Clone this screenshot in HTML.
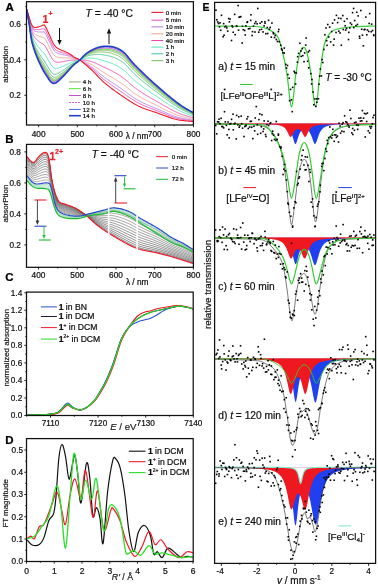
<!DOCTYPE html><html><head><meta charset="utf-8"><style>html,body{margin:0;padding:0;background:#fff;width:378px;height:586px;overflow:hidden}svg{display:block;font-family:"Liberation Sans",sans-serif;will-change:transform}</style></head><body>
<svg width="378" height="586" viewBox="0 0 378 586">
<rect width="378" height="586" fill="#fff"/>
<g>
<clipPath id="clipA"><rect x="26.5" y="1.7" width="166.9" height="123.3"/></clipPath>
<g clip-path="url(#clipA)">
<path d="M26.6,9.4 L27.6,12.49 L28.6,15.73 L29.6,19.48 L30.6,23.18 L31.6,25.81 L32.6,27.59 L33.6,28.7 L34.6,29.31 L35.6,29.58 L36.6,29.65 L37.6,29.63 L38.6,29.58 L39.6,29.48 L40.6,29.28 L41.6,29.04 L42.6,28.83 L43.6,28.73 L44.6,28.99 L45.6,30.79 L46.6,32.69 L47.6,34.73 L48.6,36.81 L49.6,38.94 L50.6,41.18 L51.6,43.38 L52.6,45.42 L53.6,47.16 L54.6,48.55 L55.6,49.62 L56.6,50.35 L57.6,50.91 L58.6,51.38 L59.6,51.79 L60.6,52.13 L61.6,52.45 L62.6,52.75 L63.6,53.05 L64.6,53.34 L65.6,53.65 L66.6,53.96 L67.6,54.31 L68.6,54.71 L69.6,55.15 L70.6,55.64 L71.6,56.17 L72.6,56.72 L73.6,57.27 L74.6,57.8 L75.6,58.26 L76.6,58.59 L77.6,58.88 L78.6,59.31 L79.6,59.89 L80.6,60.5 L81.6,61.14 L82.6,61.79 L83.6,62.45 L84.6,63.12 L85.6,63.81 L86.6,64.53 L87.6,65.25 L88.6,66 L89.6,66.76 L90.6,67.54 L91.6,68.33 L92.6,69.18 L93.6,70.03 L94.6,70.95 L95.6,71.88 L96.6,72.84 L97.6,73.79 L98.6,74.74 L99.6,75.68 L100.6,76.59 L101.6,77.48 L102.6,78.31 L103.6,79.15 L104.6,79.93 L105.6,80.7 L106.6,81.46 L107.6,82.2 L108.6,82.95 L109.6,83.66 L110.6,84.39 L111.6,85.1 L112.6,85.8 L113.6,86.51 L114.6,87.2 L115.6,87.89 L116.6,88.58 L117.6,89.26 L118.6,89.95 L119.6,90.63 L120.6,91.31 L121.6,92 L122.6,92.69 L123.6,93.38 L124.6,94.08 L125.6,94.79 L126.6,95.49 L127.6,96.19 L128.6,96.9 L129.6,97.59 L130.6,98.27 L131.6,98.95 L132.6,99.6 L133.6,100.23 L134.6,100.86 L135.6,101.45 L136.6,102.03 L137.6,102.6 L138.6,103.14 L139.6,103.65 L140.6,104.15 L141.6,104.64 L142.6,105.08 L143.6,105.53 L144.6,105.97 L145.6,106.37 L146.6,106.77 L147.6,107.17 L148.6,107.55 L149.6,107.92 L150.6,108.3 L151.6,108.67 L152.6,109.04 L153.6,109.41 L154.6,109.79 L155.6,110.17 L156.6,110.55 L157.6,110.94 L158.6,111.34 L159.6,111.75 L160.6,112.15 L161.6,112.57 L162.6,112.98 L163.6,113.4 L164.6,113.81 L165.6,114.22 L166.6,114.62 L167.6,115.02 L168.6,115.41 L169.6,115.8 L170.6,116.17 L171.6,116.53 L172.6,116.89 L173.6,117.24 L174.6,117.55 L175.6,117.86 L176.6,118.16 L177.6,118.4 L178.6,118.64 L179.6,118.88 L180.6,119.07 L181.6,119.25 L182.6,119.44 L183.6,119.59 L184.6,119.73 L185.6,119.88 L186.6,120.01 L187.6,120.13 L188.6,120.25 L189.6,120.36 L190.6,120.48 L191.6,120.6 L192.6,120.73 L193.6,120.78" fill="none" stroke="#e848c0" stroke-width="0.9"  stroke-linejoin="round"/>
<path d="M26.6,9.4 L27.6,12.67 L28.6,16.08 L29.6,20.01 L30.6,24.02 L31.6,26.92 L32.6,28.88 L33.6,30.16 L34.6,30.95 L35.6,31.41 L36.6,31.67 L37.6,31.84 L38.6,31.97 L39.6,32.04 L40.6,32.02 L41.6,31.95 L42.6,31.9 L43.6,31.95 L44.6,32.32 L45.6,34.11 L46.6,35.97 L47.6,37.98 L48.6,40.02 L49.6,42.09 L50.6,44.25 L51.6,46.35 L52.6,48.29 L53.6,49.92 L54.6,51.19 L55.6,52.16 L56.6,52.79 L57.6,53.25 L58.6,53.62 L59.6,53.92 L60.6,54.16 L61.6,54.38 L62.6,54.59 L63.6,54.79 L64.6,54.98 L65.6,55.18 L66.6,55.38 L67.6,55.62 L68.6,55.9 L69.6,56.22 L70.6,56.59 L71.6,57 L72.6,57.43 L73.6,57.87 L74.6,58.29 L75.6,58.65 L76.6,58.89 L77.6,59.1 L78.6,59.44 L79.6,59.91 L80.6,60.41 L81.6,60.91 L82.6,61.43 L83.6,61.96 L84.6,62.51 L85.6,63.08 L86.6,63.68 L87.6,64.29 L88.6,64.93 L89.6,65.58 L90.6,66.26 L91.6,66.95 L92.6,67.69 L93.6,68.45 L94.6,69.26 L95.6,70.09 L96.6,70.94 L97.6,71.8 L98.6,72.65 L99.6,73.5 L100.6,74.32 L101.6,75.13 L102.6,75.89 L103.6,76.66 L104.6,77.37 L105.6,78.08 L106.6,78.78 L107.6,79.47 L108.6,80.16 L109.6,80.83 L110.6,81.5 L111.6,82.17 L112.6,82.83 L113.6,83.51 L114.6,84.16 L115.6,84.83 L116.6,85.5 L117.6,86.16 L118.6,86.83 L119.6,87.5 L120.6,88.17 L121.6,88.86 L122.6,89.55 L123.6,90.25 L124.6,90.96 L125.6,91.69 L126.6,92.42 L127.6,93.16 L128.6,93.92 L129.6,94.65 L130.6,95.37 L131.6,96.1 L132.6,96.78 L133.6,97.44 L134.6,98.1 L135.6,98.73 L136.6,99.34 L137.6,99.94 L138.6,100.53 L139.6,101.06 L140.6,101.6 L141.6,102.13 L142.6,102.61 L143.6,103.1 L144.6,103.58 L145.6,104.02 L146.6,104.46 L147.6,104.9 L148.6,105.33 L149.6,105.74 L150.6,106.16 L151.6,106.57 L152.6,106.99 L153.6,107.4 L154.6,107.81 L155.6,108.23 L156.6,108.65 L157.6,109.07 L158.6,109.51 L159.6,109.95 L160.6,110.39 L161.6,110.85 L162.6,111.3 L163.6,111.75 L164.6,112.19 L165.6,112.64 L166.6,113.07 L167.6,113.5 L168.6,113.92 L169.6,114.34 L170.6,114.75 L171.6,115.15 L172.6,115.54 L173.6,115.92 L174.6,116.27 L175.6,116.61 L176.6,116.95 L177.6,117.23 L178.6,117.51 L179.6,117.79 L180.6,118.01 L181.6,118.24 L182.6,118.45 L183.6,118.64 L184.6,118.82 L185.6,119 L186.6,119.16 L187.6,119.32 L188.6,119.48 L189.6,119.62 L190.6,119.77 L191.6,119.92 L192.6,120.08 L193.6,120.15" fill="none" stroke="#b878e0" stroke-width="0.9"  stroke-linejoin="round"/>
<path d="M26.6,9.4 L27.6,12.97 L28.6,16.68 L29.6,20.91 L30.6,25.47 L31.6,28.83 L32.6,31.09 L33.6,32.66 L34.6,33.76 L35.6,34.55 L36.6,35.14 L37.6,35.62 L38.6,36.06 L39.6,36.43 L40.6,36.71 L41.6,36.94 L42.6,37.18 L43.6,37.48 L44.6,38.04 L45.6,39.8 L46.6,41.61 L47.6,43.55 L48.6,45.52 L49.6,47.5 L50.6,49.52 L51.6,51.46 L52.6,53.21 L53.6,54.66 L54.6,55.73 L55.6,56.51 L56.6,56.97 L57.6,57.26 L58.6,57.46 L59.6,57.58 L60.6,57.65 L61.6,57.69 L62.6,57.74 L63.6,57.77 L64.6,57.8 L65.6,57.81 L66.6,57.83 L67.6,57.87 L68.6,57.95 L69.6,58.06 L70.6,58.22 L71.6,58.42 L72.6,58.64 L73.6,58.88 L74.6,59.12 L75.6,59.32 L76.6,59.41 L77.6,59.48 L78.6,59.67 L79.6,59.94 L80.6,60.24 L81.6,60.53 L82.6,60.83 L83.6,61.13 L84.6,61.46 L85.6,61.81 L86.6,62.21 L87.6,62.64 L88.6,63.09 L89.6,63.57 L90.6,64.07 L91.6,64.58 L92.6,65.15 L93.6,65.73 L94.6,66.37 L95.6,67.02 L96.6,67.69 L97.6,68.38 L98.6,69.07 L99.6,69.76 L100.6,70.43 L101.6,71.11 L102.6,71.74 L103.6,72.38 L104.6,72.99 L105.6,73.6 L106.6,74.19 L107.6,74.78 L108.6,75.38 L109.6,75.96 L110.6,76.56 L111.6,77.15 L112.6,77.75 L113.6,78.36 L114.6,78.97 L115.6,79.59 L116.6,80.22 L117.6,80.84 L118.6,81.48 L119.6,82.13 L120.6,82.79 L121.6,83.47 L122.6,84.16 L123.6,84.87 L124.6,85.61 L125.6,86.37 L126.6,87.16 L127.6,87.97 L128.6,88.79 L129.6,89.6 L130.6,90.4 L131.6,91.2 L132.6,91.95 L133.6,92.67 L134.6,93.39 L135.6,94.07 L136.6,94.74 L137.6,95.4 L138.6,96.04 L139.6,96.64 L140.6,97.24 L141.6,97.83 L142.6,98.38 L143.6,98.93 L144.6,99.48 L145.6,100 L146.6,100.51 L147.6,101.02 L148.6,101.51 L149.6,102 L150.6,102.49 L151.6,102.98 L152.6,103.46 L153.6,103.94 L154.6,104.42 L155.6,104.91 L156.6,105.39 L157.6,105.88 L158.6,106.37 L159.6,106.88 L160.6,107.38 L161.6,107.89 L162.6,108.41 L163.6,108.92 L164.6,109.43 L165.6,109.92 L166.6,110.42 L167.6,110.9 L168.6,111.37 L169.6,111.85 L170.6,112.32 L171.6,112.77 L172.6,113.22 L173.6,113.66 L174.6,114.07 L175.6,114.48 L176.6,114.87 L177.6,115.22 L178.6,115.57 L179.6,115.91 L180.6,116.21 L181.6,116.49 L182.6,116.77 L183.6,117.03 L184.6,117.27 L185.6,117.5 L186.6,117.72 L187.6,117.94 L188.6,118.15 L189.6,118.35 L190.6,118.56 L191.6,118.76 L192.6,118.98 L193.6,119.07" fill="none" stroke="#f4a088" stroke-width="0.9"  stroke-linejoin="round"/>
<path d="M26.6,9.4 L27.6,13.35 L28.6,17.43 L29.6,22.03 L30.6,27.28 L31.6,31.22 L32.6,33.86 L33.6,35.79 L34.6,37.27 L35.6,38.47 L36.6,39.48 L37.6,40.36 L38.6,41.18 L39.6,41.92 L40.6,42.57 L41.6,43.18 L42.6,43.77 L43.6,44.39 L44.6,45.19 L45.6,46.9 L46.6,48.66 L47.6,50.51 L48.6,52.39 L49.6,54.26 L50.6,56.11 L51.6,57.84 L52.6,59.36 L53.6,60.59 L54.6,61.41 L55.6,61.95 L56.6,62.21 L57.6,62.27 L58.6,62.25 L59.6,62.16 L60.6,62 L61.6,61.84 L62.6,61.67 L63.6,61.5 L64.6,61.32 L65.6,61.1 L66.6,60.89 L67.6,60.69 L68.6,60.51 L69.6,60.36 L70.6,60.26 L71.6,60.19 L72.6,60.15 L73.6,60.15 L74.6,60.16 L75.6,60.15 L76.6,60.07 L77.6,59.96 L78.6,59.95 L79.6,59.99 L80.6,60.03 L81.6,60.06 L82.6,60.07 L83.6,60.1 L84.6,60.15 L85.6,60.23 L86.6,60.39 L87.6,60.57 L88.6,60.8 L89.6,61.05 L90.6,61.33 L91.6,61.62 L92.6,61.97 L93.6,62.33 L94.6,62.74 L95.6,63.17 L96.6,63.63 L97.6,64.11 L98.6,64.6 L99.6,65.09 L100.6,65.58 L101.6,66.08 L102.6,66.55 L103.6,67.04 L104.6,67.51 L105.6,67.98 L106.6,68.45 L107.6,68.93 L108.6,69.41 L109.6,69.88 L110.6,70.38 L111.6,70.87 L112.6,71.39 L113.6,71.93 L114.6,72.47 L115.6,73.03 L116.6,73.61 L117.6,74.19 L118.6,74.8 L119.6,75.43 L120.6,76.07 L121.6,76.74 L122.6,77.43 L123.6,78.16 L124.6,78.93 L125.6,79.73 L126.6,80.59 L127.6,81.48 L128.6,82.39 L129.6,83.3 L130.6,84.19 L131.6,85.07 L132.6,85.9 L133.6,86.7 L134.6,87.49 L135.6,88.25 L136.6,88.98 L137.6,89.71 L138.6,90.42 L139.6,91.1 L140.6,91.78 L141.6,92.45 L142.6,93.09 L143.6,93.73 L144.6,94.36 L145.6,94.97 L146.6,95.57 L147.6,96.17 L148.6,96.75 L149.6,97.33 L150.6,97.91 L151.6,98.48 L152.6,99.05 L153.6,99.62 L154.6,100.18 L155.6,100.75 L156.6,101.31 L157.6,101.88 L158.6,102.45 L159.6,103.03 L160.6,103.61 L161.6,104.2 L162.6,104.8 L163.6,105.39 L164.6,105.97 L165.6,106.54 L166.6,107.09 L167.6,107.65 L168.6,108.19 L169.6,108.74 L170.6,109.27 L171.6,109.8 L172.6,110.32 L173.6,110.83 L174.6,111.32 L175.6,111.81 L176.6,112.28 L177.6,112.71 L178.6,113.15 L179.6,113.56 L180.6,113.95 L181.6,114.32 L182.6,114.67 L183.6,115 L184.6,115.32 L185.6,115.63 L186.6,115.92 L187.6,116.21 L188.6,116.49 L189.6,116.77 L190.6,117.04 L191.6,117.32 L192.6,117.6 L193.6,117.72" fill="none" stroke="#e848b0" stroke-width="0.9"  stroke-linejoin="round"/>
<path d="M26.6,9.4 L27.6,13.8 L28.6,18.32 L29.6,23.38 L30.6,29.45 L31.6,34.08 L32.6,37.17 L33.6,39.54 L34.6,41.49 L35.6,43.18 L36.6,44.68 L37.6,46.04 L38.6,47.32 L39.6,48.51 L40.6,49.61 L41.6,50.66 L42.6,51.68 L43.6,52.68 L44.6,53.76 L45.6,55.44 L46.6,57.11 L47.6,58.87 L48.6,60.63 L49.6,62.37 L50.6,64.01 L51.6,65.49 L52.6,66.74 L53.6,67.7 L54.6,68.21 L55.6,68.48 L56.6,68.49 L57.6,68.28 L58.6,68 L59.6,67.65 L60.6,67.23 L61.6,66.81 L62.6,66.39 L63.6,65.97 L64.6,65.54 L65.6,65.05 L66.6,64.56 L67.6,64.07 L68.6,63.59 L69.6,63.13 L70.6,62.7 L71.6,62.32 L72.6,61.96 L73.6,61.68 L74.6,61.41 L75.6,61.15 L76.6,60.85 L77.6,60.54 L78.6,60.28 L79.6,60.05 L80.6,59.78 L81.6,59.48 L82.6,59.17 L83.6,58.85 L84.6,58.57 L85.6,58.34 L86.6,58.19 L87.6,58.1 L88.6,58.04 L89.6,58.02 L90.6,58.04 L91.6,58.07 L92.6,58.15 L93.6,58.25 L94.6,58.4 L95.6,58.56 L96.6,58.76 L97.6,58.98 L98.6,59.22 L99.6,59.48 L100.6,59.75 L101.6,60.04 L102.6,60.33 L103.6,60.63 L104.6,60.93 L105.6,61.25 L106.6,61.57 L107.6,61.9 L108.6,62.24 L109.6,62.58 L110.6,62.96 L111.6,63.34 L112.6,63.76 L113.6,64.21 L114.6,64.67 L115.6,65.17 L116.6,65.69 L117.6,66.22 L118.6,66.79 L119.6,67.38 L120.6,68 L121.6,68.66 L122.6,69.35 L123.6,70.1 L124.6,70.9 L125.6,71.76 L126.6,72.7 L127.6,73.69 L128.6,74.7 L129.6,75.73 L130.6,76.74 L131.6,77.73 L132.6,78.65 L133.6,79.54 L134.6,80.41 L135.6,81.25 L136.6,82.08 L137.6,82.89 L138.6,83.69 L139.6,84.46 L140.6,85.23 L141.6,86 L142.6,86.74 L143.6,87.48 L144.6,88.21 L145.6,88.93 L146.6,89.64 L147.6,90.34 L148.6,91.03 L149.6,91.72 L150.6,92.4 L151.6,93.08 L152.6,93.76 L153.6,94.43 L154.6,95.09 L155.6,95.76 L156.6,96.42 L157.6,97.08 L158.6,97.74 L159.6,98.41 L160.6,99.08 L161.6,99.77 L162.6,100.46 L163.6,101.15 L164.6,101.81 L165.6,102.47 L166.6,103.11 L167.6,103.74 L168.6,104.37 L169.6,105 L170.6,105.62 L171.6,106.23 L172.6,106.84 L173.6,107.45 L174.6,108.02 L175.6,108.6 L176.6,109.17 L177.6,109.7 L178.6,110.24 L179.6,110.75 L180.6,111.24 L181.6,111.7 L182.6,112.15 L183.6,112.58 L184.6,112.98 L185.6,113.38 L186.6,113.76 L187.6,114.14 L188.6,114.5 L189.6,114.86 L190.6,115.22 L191.6,115.58 L192.6,115.95 L193.6,116.1" fill="none" stroke="#48e8b8" stroke-width="0.9"  stroke-linejoin="round"/>
<path d="M26.6,9.4 L27.6,14.2 L28.6,19.12 L29.6,24.58 L30.6,31.38 L31.6,36.63 L32.6,40.12 L33.6,42.88 L34.6,45.23 L35.6,47.37 L36.6,49.3 L37.6,51.09 L38.6,52.77 L39.6,54.36 L40.6,55.86 L41.6,57.31 L42.6,58.71 L43.6,60.05 L44.6,61.39 L45.6,63.02 L46.6,64.63 L47.6,66.29 L48.6,67.96 L49.6,69.58 L50.6,71.04 L51.6,72.3 L52.6,73.3 L53.6,74.02 L54.6,74.27 L55.6,74.28 L56.6,74.07 L57.6,73.63 L58.6,73.12 L59.6,72.52 L60.6,71.88 L61.6,71.23 L62.6,70.59 L63.6,69.94 L64.6,69.29 L65.6,68.56 L66.6,67.82 L67.6,67.07 L68.6,66.32 L69.6,65.58 L70.6,64.87 L71.6,64.21 L72.6,63.58 L73.6,63.03 L74.6,62.53 L75.6,62.04 L76.6,61.55 L77.6,61.05 L78.6,60.58 L79.6,60.1 L80.6,59.56 L81.6,58.97 L82.6,58.36 L83.6,57.75 L84.6,57.17 L85.6,56.66 L86.6,56.24 L87.6,55.89 L88.6,55.59 L89.6,55.34 L90.6,55.12 L91.6,54.91 L92.6,54.76 L93.6,54.63 L94.6,54.53 L95.6,54.47 L96.6,54.43 L97.6,54.42 L98.6,54.45 L99.6,54.5 L100.6,54.57 L101.6,54.68 L102.6,54.79 L103.6,54.93 L104.6,55.09 L105.6,55.26 L106.6,55.44 L107.6,55.65 L108.6,55.86 L109.6,56.09 L110.6,56.36 L111.6,56.65 L112.6,56.97 L113.6,57.34 L114.6,57.73 L115.6,58.18 L116.6,58.64 L117.6,59.13 L118.6,59.66 L119.6,60.22 L120.6,60.82 L121.6,61.48 L122.6,62.17 L123.6,62.93 L124.6,63.77 L125.6,64.67 L126.6,65.69 L127.6,66.76 L128.6,67.87 L129.6,69 L130.6,70.11 L131.6,71.19 L132.6,72.21 L133.6,73.18 L134.6,74.12 L135.6,75.04 L136.6,75.94 L137.6,76.83 L138.6,77.7 L139.6,78.56 L140.6,79.41 L141.6,80.26 L142.6,81.09 L143.6,81.93 L144.6,82.75 L145.6,83.56 L146.6,84.37 L147.6,85.16 L148.6,85.95 L149.6,86.73 L150.6,87.51 L151.6,88.28 L152.6,89.05 L153.6,89.82 L154.6,90.57 L155.6,91.33 L156.6,92.07 L157.6,92.81 L158.6,93.56 L159.6,94.31 L160.6,95.06 L161.6,95.83 L162.6,96.61 L163.6,97.38 L164.6,98.12 L165.6,98.85 L166.6,99.57 L167.6,100.27 L168.6,100.97 L169.6,101.68 L170.6,102.37 L171.6,103.06 L172.6,103.75 L173.6,104.43 L174.6,105.09 L175.6,105.75 L176.6,106.4 L177.6,107.03 L178.6,107.65 L179.6,108.25 L180.6,108.83 L181.6,109.38 L182.6,109.91 L183.6,110.42 L184.6,110.9 L185.6,111.39 L186.6,111.84 L187.6,112.29 L188.6,112.73 L189.6,113.17 L190.6,113.6 L191.6,114.04 L192.6,114.48 L193.6,114.66" fill="none" stroke="#48c090" stroke-width="0.9"  stroke-linejoin="round"/>
<path d="M26.6,9.4 L27.6,14.41 L28.6,19.52 L29.6,25.17 L30.6,32.34 L31.6,37.9 L32.6,41.6 L33.6,44.55 L34.6,47.11 L35.6,49.46 L36.6,51.61 L37.6,53.61 L38.6,55.5 L39.6,57.29 L40.6,58.99 L41.6,60.64 L42.6,62.23 L43.6,63.74 L44.6,65.2 L45.6,66.81 L46.6,68.39 L47.6,70.01 L48.6,71.63 L49.6,73.18 L50.6,74.55 L51.6,75.7 L52.6,76.59 L53.6,77.18 L54.6,77.29 L55.6,77.18 L56.6,76.86 L57.6,76.3 L58.6,75.67 L59.6,74.96 L60.6,74.2 L61.6,73.44 L62.6,72.69 L63.6,71.93 L64.6,71.16 L65.6,70.32 L66.6,69.46 L67.6,68.57 L68.6,67.69 L69.6,66.81 L70.6,65.96 L71.6,65.15 L72.6,64.39 L73.6,63.71 L74.6,63.08 L75.6,62.48 L76.6,61.89 L77.6,61.31 L78.6,60.73 L79.6,60.12 L80.6,59.45 L81.6,58.72 L82.6,57.96 L83.6,57.19 L84.6,56.47 L85.6,55.81 L86.6,55.27 L87.6,54.79 L88.6,54.37 L89.6,53.99 L90.6,53.65 L91.6,53.33 L92.6,53.06 L93.6,52.81 L94.6,52.6 L95.6,52.42 L96.6,52.26 L97.6,52.14 L98.6,52.06 L99.6,52 L100.6,51.98 L101.6,51.99 L102.6,52.02 L103.6,52.08 L104.6,52.17 L105.6,52.27 L106.6,52.38 L107.6,52.52 L108.6,52.68 L109.6,52.85 L110.6,53.07 L111.6,53.31 L112.6,53.58 L113.6,53.91 L114.6,54.27 L115.6,54.68 L116.6,55.12 L117.6,55.58 L118.6,56.1 L119.6,56.64 L120.6,57.24 L121.6,57.89 L122.6,58.58 L123.6,59.35 L124.6,60.2 L125.6,61.13 L126.6,62.19 L127.6,63.3 L128.6,64.46 L129.6,65.64 L130.6,66.79 L131.6,67.93 L132.6,68.99 L133.6,70 L134.6,70.98 L135.6,71.93 L136.6,72.87 L137.6,73.8 L138.6,74.71 L139.6,75.61 L140.6,76.5 L141.6,77.39 L142.6,78.27 L143.6,79.15 L144.6,80.02 L145.6,80.88 L146.6,81.73 L147.6,82.57 L148.6,83.41 L149.6,84.24 L150.6,85.07 L151.6,85.89 L152.6,86.7 L153.6,87.51 L154.6,88.31 L155.6,89.11 L156.6,89.9 L157.6,90.68 L158.6,91.47 L159.6,92.26 L160.6,93.05 L161.6,93.86 L162.6,94.68 L163.6,95.49 L164.6,96.28 L165.6,97.05 L166.6,97.8 L167.6,98.54 L168.6,99.28 L169.6,100.01 L170.6,100.75 L171.6,101.48 L172.6,102.2 L173.6,102.93 L174.6,103.63 L175.6,104.33 L176.6,105.02 L177.6,105.69 L178.6,106.36 L179.6,107 L180.6,107.62 L181.6,108.22 L182.6,108.79 L183.6,109.34 L184.6,109.86 L185.6,110.39 L186.6,110.88 L187.6,111.37 L188.6,111.85 L189.6,112.32 L190.6,112.79 L191.6,113.26 L192.6,113.75 L193.6,113.94" fill="none" stroke="#70c058" stroke-width="0.9"  stroke-linejoin="round"/>
<path d="M26.6,9.4 L27.6,14.53 L28.6,19.77 L29.6,25.55 L30.6,32.94 L31.6,38.7 L32.6,42.52 L33.6,45.59 L34.6,48.28 L35.6,50.77 L36.6,53.06 L37.6,55.19 L38.6,57.21 L39.6,59.12 L40.6,60.95 L41.6,62.72 L42.6,64.42 L43.6,66.04 L44.6,67.58 L45.6,69.18 L46.6,70.74 L47.6,72.33 L48.6,73.92 L49.6,75.43 L50.6,76.75 L51.6,77.83 L52.6,78.64 L53.6,79.16 L54.6,79.18 L55.6,78.99 L56.6,78.6 L57.6,77.97 L58.6,77.27 L59.6,76.49 L60.6,75.66 L61.6,74.82 L62.6,74 L63.6,73.17 L64.6,72.34 L65.6,71.41 L66.6,70.48 L67.6,69.51 L68.6,68.54 L69.6,67.58 L70.6,66.64 L71.6,65.75 L72.6,64.89 L73.6,64.14 L74.6,63.43 L75.6,62.76 L76.6,62.11 L77.6,61.47 L78.6,60.82 L79.6,60.14 L80.6,59.38 L81.6,58.56 L82.6,57.7 L83.6,56.85 L84.6,56.03 L85.6,55.29 L86.6,54.66 L87.6,54.1 L88.6,53.6 L89.6,53.16 L90.6,52.74 L91.6,52.35 L92.6,52 L93.6,51.68 L94.6,51.39 L95.6,51.14 L96.6,50.91 L97.6,50.72 L98.6,50.57 L99.6,50.45 L100.6,50.36 L101.6,50.32 L102.6,50.29 L103.6,50.3 L104.6,50.34 L105.6,50.4 L106.6,50.47 L107.6,50.57 L108.6,50.69 L109.6,50.82 L110.6,51.01 L111.6,51.21 L112.6,51.46 L113.6,51.77 L114.6,52.1 L115.6,52.5 L116.6,52.92 L117.6,53.37 L118.6,53.87 L119.6,54.41 L120.6,55 L121.6,55.65 L122.6,56.34 L123.6,57.11 L124.6,57.98 L125.6,58.91 L126.6,60 L127.6,61.14 L128.6,62.32 L129.6,63.53 L130.6,64.72 L131.6,65.89 L132.6,66.97 L133.6,68.01 L134.6,69.01 L135.6,69.99 L136.6,70.95 L137.6,71.9 L138.6,72.84 L139.6,73.77 L140.6,74.69 L141.6,75.6 L142.6,76.51 L143.6,77.41 L144.6,78.31 L145.6,79.2 L146.6,80.08 L147.6,80.96 L148.6,81.82 L149.6,82.68 L150.6,83.54 L151.6,84.39 L152.6,85.23 L153.6,86.07 L154.6,86.9 L155.6,87.72 L156.6,88.54 L157.6,89.35 L158.6,90.16 L159.6,90.97 L160.6,91.8 L161.6,92.63 L162.6,93.48 L163.6,94.31 L164.6,95.12 L165.6,95.92 L166.6,96.69 L167.6,97.45 L168.6,98.22 L169.6,98.98 L170.6,99.74 L171.6,100.49 L172.6,101.24 L173.6,101.98 L174.6,102.71 L175.6,103.44 L176.6,104.16 L177.6,104.85 L178.6,105.55 L179.6,106.21 L180.6,106.87 L181.6,107.49 L182.6,108.09 L183.6,108.67 L184.6,109.21 L185.6,109.76 L186.6,110.28 L187.6,110.79 L188.6,111.3 L189.6,111.8 L190.6,112.29 L191.6,112.78 L192.6,113.29 L193.6,113.49" fill="none" stroke="#90ac70" stroke-width="0.9"  stroke-linejoin="round"/>
<path d="M26.6,9.4 L27.6,14.61 L28.6,19.92 L29.6,25.77 L30.6,33.31 L31.6,39.17 L32.6,43.07 L33.6,46.22 L34.6,48.98 L35.6,51.55 L36.6,53.93 L37.6,56.14 L38.6,58.23 L39.6,60.22 L40.6,62.12 L41.6,63.97 L42.6,65.74 L43.6,67.42 L44.6,69.01 L45.6,70.6 L46.6,72.15 L47.6,73.72 L48.6,75.29 L49.6,76.79 L50.6,78.07 L51.6,79.1 L52.6,79.87 L53.6,80.34 L54.6,80.32 L55.6,80.08 L56.6,79.65 L57.6,78.97 L58.6,78.23 L59.6,77.4 L60.6,76.53 L61.6,75.65 L62.6,74.79 L63.6,73.92 L64.6,73.04 L65.6,72.07 L66.6,71.09 L67.6,70.07 L68.6,69.05 L69.6,68.04 L70.6,67.05 L71.6,66.1 L72.6,65.19 L73.6,64.39 L74.6,63.64 L75.6,62.93 L76.6,62.24 L77.6,61.56 L78.6,60.88 L79.6,60.15 L80.6,59.34 L81.6,58.47 L82.6,57.55 L83.6,56.64 L84.6,55.77 L85.6,54.97 L86.6,54.29 L87.6,53.69 L88.6,53.14 L89.6,52.65 L90.6,52.19 L91.6,51.75 L92.6,51.37 L93.6,51 L94.6,50.67 L95.6,50.37 L96.6,50.1 L97.6,49.87 L98.6,49.67 L99.6,49.51 L100.6,49.39 L101.6,49.31 L102.6,49.26 L103.6,49.23 L104.6,49.25 L105.6,49.28 L106.6,49.32 L107.6,49.4 L108.6,49.49 L109.6,49.61 L110.6,49.77 L111.6,49.96 L112.6,50.19 L113.6,50.48 L114.6,50.8 L115.6,51.19 L116.6,51.6 L117.6,52.04 L118.6,52.54 L119.6,53.07 L120.6,53.65 L121.6,54.3 L122.6,54.99 L123.6,55.77 L124.6,56.64 L125.6,57.59 L126.6,58.68 L127.6,59.84 L128.6,61.04 L129.6,62.27 L130.6,63.48 L131.6,64.66 L132.6,65.76 L133.6,66.82 L134.6,67.83 L135.6,68.82 L136.6,69.8 L137.6,70.76 L138.6,71.72 L139.6,72.66 L140.6,73.59 L141.6,74.53 L142.6,75.45 L143.6,76.37 L144.6,77.29 L145.6,78.2 L146.6,79.1 L147.6,79.99 L148.6,80.87 L149.6,81.75 L150.6,82.62 L151.6,83.49 L152.6,84.35 L153.6,85.21 L154.6,86.05 L155.6,86.89 L156.6,87.72 L157.6,88.55 L158.6,89.37 L159.6,90.2 L160.6,91.04 L161.6,91.9 L162.6,92.76 L163.6,93.61 L164.6,94.43 L165.6,95.24 L166.6,96.02 L167.6,96.8 L168.6,97.58 L169.6,98.35 L170.6,99.13 L171.6,99.89 L172.6,100.66 L173.6,101.42 L174.6,102.16 L175.6,102.91 L176.6,103.64 L177.6,104.35 L178.6,105.07 L179.6,105.75 L180.6,106.42 L181.6,107.05 L182.6,107.67 L183.6,108.26 L184.6,108.83 L185.6,109.39 L186.6,109.92 L187.6,110.45 L188.6,110.97 L189.6,111.48 L190.6,111.99 L191.6,112.49 L192.6,113.01 L193.6,113.22" fill="none" stroke="#70ec58" stroke-width="1.2"  stroke-linejoin="round"/>
<path d="M26.6,9.4 L27.6,14.68 L28.6,20.07 L29.6,26 L30.6,33.67 L31.6,39.65 L32.6,43.62 L33.6,46.84 L34.6,49.68 L35.6,52.33 L36.6,54.79 L37.6,57.08 L38.6,59.25 L39.6,61.32 L40.6,63.29 L41.6,65.21 L42.6,67.06 L43.6,68.81 L44.6,70.44 L45.6,72.02 L46.6,73.56 L47.6,75.11 L48.6,76.66 L49.6,78.14 L50.6,79.39 L51.6,80.38 L52.6,81.1 L53.6,81.53 L54.6,81.45 L55.6,81.17 L56.6,80.69 L57.6,79.97 L58.6,79.19 L59.6,78.32 L60.6,77.4 L61.6,76.47 L62.6,75.58 L63.6,74.66 L64.6,73.74 L65.6,72.73 L66.6,71.7 L67.6,70.64 L68.6,69.57 L69.6,68.5 L70.6,67.46 L71.6,66.45 L72.6,65.5 L73.6,64.64 L74.6,63.84 L75.6,63.09 L76.6,62.37 L77.6,61.66 L78.6,60.93 L79.6,60.16 L80.6,59.3 L81.6,58.37 L82.6,57.4 L83.6,56.43 L84.6,55.51 L85.6,54.66 L86.6,53.93 L87.6,53.28 L88.6,52.69 L89.6,52.15 L90.6,51.64 L91.6,51.16 L92.6,50.73 L93.6,50.32 L94.6,49.94 L95.6,49.6 L96.6,49.28 L97.6,49.01 L98.6,48.78 L99.6,48.58 L100.6,48.42 L101.6,48.3 L102.6,48.22 L103.6,48.17 L104.6,48.15 L105.6,48.16 L106.6,48.18 L107.6,48.23 L108.6,48.3 L109.6,48.39 L110.6,48.53 L111.6,48.7 L112.6,48.92 L113.6,49.2 L114.6,49.5 L115.6,49.87 L116.6,50.28 L117.6,50.71 L118.6,51.2 L119.6,51.73 L120.6,52.31 L121.6,52.95 L122.6,53.64 L123.6,54.42 L124.6,55.3 L125.6,56.26 L126.6,57.37 L127.6,58.54 L128.6,59.76 L129.6,61.01 L130.6,62.24 L131.6,63.44 L132.6,64.56 L133.6,65.62 L134.6,66.65 L135.6,67.66 L136.6,68.65 L137.6,69.63 L138.6,70.6 L139.6,71.55 L140.6,72.5 L141.6,73.45 L142.6,74.39 L143.6,75.33 L144.6,76.26 L145.6,77.19 L146.6,78.11 L147.6,79.02 L148.6,79.92 L149.6,80.81 L150.6,81.7 L151.6,82.59 L152.6,83.47 L153.6,84.34 L154.6,85.2 L155.6,86.06 L156.6,86.91 L157.6,87.75 L158.6,88.59 L159.6,89.43 L160.6,90.29 L161.6,91.16 L162.6,92.03 L163.6,92.9 L164.6,93.74 L165.6,94.56 L166.6,95.36 L167.6,96.15 L168.6,96.94 L169.6,97.73 L170.6,98.52 L171.6,99.3 L172.6,100.08 L173.6,100.85 L174.6,101.61 L175.6,102.37 L176.6,103.12 L177.6,103.85 L178.6,104.58 L179.6,105.28 L180.6,105.97 L181.6,106.62 L182.6,107.25 L183.6,107.86 L184.6,108.44 L185.6,109.01 L186.6,109.56 L187.6,110.1 L188.6,110.63 L189.6,111.16 L190.6,111.68 L191.6,112.2 L192.6,112.74 L193.6,112.95" fill="none" stroke="#c050c8" stroke-width="0.9"  stroke-linejoin="round"/>
<path d="M26.6,9.4 L27.6,14.73 L28.6,20.17 L29.6,26.15 L30.6,33.91 L31.6,39.97 L32.6,43.99 L33.6,47.26 L34.6,50.15 L35.6,52.86 L36.6,55.37 L37.6,57.72 L38.6,59.94 L39.6,62.05 L40.6,64.07 L41.6,66.05 L42.6,67.94 L43.6,69.73 L44.6,71.4 L45.6,72.97 L46.6,74.5 L47.6,76.04 L48.6,77.58 L49.6,79.04 L50.6,80.26 L51.6,81.23 L52.6,81.92 L53.6,82.32 L54.6,82.21 L55.6,81.89 L56.6,81.39 L57.6,80.64 L58.6,79.83 L59.6,78.93 L60.6,77.98 L61.6,77.03 L62.6,76.1 L63.6,75.16 L64.6,74.21 L65.6,73.17 L66.6,72.11 L67.6,71.01 L68.6,69.91 L69.6,68.8 L70.6,67.73 L71.6,66.69 L72.6,65.7 L73.6,64.81 L74.6,63.98 L75.6,63.2 L76.6,62.46 L77.6,61.72 L78.6,60.97 L79.6,60.16 L80.6,59.27 L81.6,58.31 L82.6,57.3 L83.6,56.3 L84.6,55.33 L85.6,54.45 L86.6,53.69 L87.6,53 L88.6,52.38 L89.6,51.81 L90.6,51.28 L91.6,50.77 L92.6,50.31 L93.6,49.87 L94.6,49.46 L95.6,49.09 L96.6,48.74 L97.6,48.44 L98.6,48.18 L99.6,47.95 L100.6,47.77 L101.6,47.63 L102.6,47.53 L103.6,47.45 L104.6,47.42 L105.6,47.41 L106.6,47.41 L107.6,47.44 L108.6,47.5 L109.6,47.58 L110.6,47.71 L111.6,47.87 L112.6,48.07 L113.6,48.34 L114.6,48.64 L115.6,49 L116.6,49.4 L117.6,49.82 L118.6,50.31 L119.6,50.83 L120.6,51.41 L121.6,52.06 L122.6,52.75 L123.6,53.53 L124.6,54.41 L125.6,55.37 L126.6,56.49 L127.6,57.68 L128.6,58.91 L129.6,60.17 L130.6,61.41 L131.6,62.62 L132.6,63.75 L133.6,64.83 L134.6,65.87 L135.6,66.88 L136.6,67.88 L137.6,68.87 L138.6,69.85 L139.6,70.81 L140.6,71.78 L141.6,72.73 L142.6,73.69 L143.6,74.64 L144.6,75.58 L145.6,76.52 L146.6,77.45 L147.6,78.37 L148.6,79.28 L149.6,80.19 L150.6,81.09 L151.6,81.99 L152.6,82.88 L153.6,83.77 L154.6,84.64 L155.6,85.51 L156.6,86.36 L157.6,87.22 L158.6,88.07 L159.6,88.92 L160.6,89.79 L161.6,90.67 L162.6,91.55 L163.6,92.43 L164.6,93.28 L165.6,94.11 L166.6,94.92 L167.6,95.72 L168.6,96.52 L169.6,97.32 L170.6,98.11 L171.6,98.9 L172.6,99.69 L173.6,100.48 L174.6,101.25 L175.6,102.02 L176.6,102.77 L177.6,103.52 L178.6,104.26 L179.6,104.96 L180.6,105.66 L181.6,106.33 L182.6,106.97 L183.6,107.59 L184.6,108.18 L185.6,108.76 L186.6,109.32 L187.6,109.87 L188.6,110.41 L189.6,110.95 L190.6,111.48 L191.6,112.01 L192.6,112.55 L193.6,112.77" fill="none" stroke="#d868d8" stroke-width="0.9" stroke-dasharray="2,1" stroke-linejoin="round"/>
<path d="M26.6,9.4 L27.6,14.77 L28.6,20.24 L29.6,26.26 L30.6,34.09 L31.6,40.21 L32.6,44.27 L33.6,47.57 L34.6,50.5 L35.6,53.25 L36.6,55.8 L37.6,58.19 L38.6,60.45 L39.6,62.6 L40.6,64.66 L41.6,66.67 L42.6,68.6 L43.6,70.42 L44.6,72.11 L45.6,73.68 L46.6,75.2 L47.6,76.74 L48.6,78.27 L49.6,79.71 L50.6,80.92 L51.6,81.87 L52.6,82.53 L53.6,82.91 L54.6,82.78 L55.6,82.44 L56.6,81.92 L57.6,81.14 L58.6,80.31 L59.6,79.38 L60.6,78.41 L61.6,77.44 L62.6,76.49 L63.6,75.53 L64.6,74.56 L65.6,73.5 L66.6,72.41 L67.6,71.29 L68.6,70.16 L69.6,69.03 L70.6,67.93 L71.6,66.87 L72.6,65.85 L73.6,64.94 L74.6,64.09 L75.6,63.29 L76.6,62.52 L77.6,61.77 L78.6,61 L79.6,60.17 L80.6,59.25 L81.6,58.26 L82.6,57.22 L83.6,56.19 L84.6,55.2 L85.6,54.29 L86.6,53.5 L87.6,52.8 L88.6,52.15 L89.6,51.56 L90.6,51 L91.6,50.47 L92.6,49.99 L93.6,49.53 L94.6,49.1 L95.6,48.7 L96.6,48.34 L97.6,48.01 L98.6,47.73 L99.6,47.49 L100.6,47.28 L101.6,47.13 L102.6,47.01 L103.6,46.92 L104.6,46.87 L105.6,46.85 L106.6,46.84 L107.6,46.86 L108.6,46.9 L109.6,46.97 L110.6,47.09 L111.6,47.24 L112.6,47.44 L113.6,47.69 L114.6,47.99 L115.6,48.34 L116.6,48.74 L117.6,49.16 L118.6,49.64 L119.6,50.16 L120.6,50.74 L121.6,51.38 L122.6,52.07 L123.6,52.86 L124.6,53.74 L125.6,54.71 L126.6,55.83 L127.6,57.03 L128.6,58.27 L129.6,59.54 L130.6,60.79 L131.6,62.01 L132.6,63.15 L133.6,64.23 L134.6,65.28 L135.6,66.3 L136.6,67.31 L137.6,68.3 L138.6,69.29 L139.6,70.26 L140.6,71.23 L141.6,72.2 L142.6,73.16 L143.6,74.12 L144.6,75.07 L145.6,76.02 L146.6,76.95 L147.6,77.88 L148.6,78.81 L149.6,79.72 L150.6,80.63 L151.6,81.54 L152.6,82.44 L153.6,83.33 L154.6,84.22 L155.6,85.09 L156.6,85.96 L157.6,86.82 L158.6,87.67 L159.6,88.54 L160.6,89.41 L161.6,90.3 L162.6,91.19 L163.6,92.07 L164.6,92.93 L165.6,93.77 L166.6,94.59 L167.6,95.39 L168.6,96.2 L169.6,97 L170.6,97.81 L171.6,98.61 L172.6,99.4 L173.6,100.19 L174.6,100.97 L175.6,101.75 L176.6,102.52 L177.6,103.27 L178.6,104.02 L179.6,104.73 L180.6,105.44 L181.6,106.11 L182.6,106.76 L183.6,107.39 L184.6,107.98 L185.6,108.58 L186.6,109.14 L187.6,109.7 L188.6,110.25 L189.6,110.79 L190.6,111.33 L191.6,111.86 L192.6,112.41 L193.6,112.64" fill="none" stroke="#3c68e8" stroke-width="0.9"  stroke-linejoin="round"/>
<path d="M26.6,9.4 L27.6,12.29 L28.6,15.34 L29.6,18.88 L30.6,22.21 L31.6,24.53 L32.6,26.11 L33.6,27.03 L34.6,27.43 L35.6,27.49 L36.6,27.34 L37.6,27.1 L38.6,26.85 L39.6,26.55 L40.6,26.15 L41.6,25.72 L42.6,25.31 L43.6,25.04 L44.6,25.17 L45.6,27 L46.6,28.93 L47.6,31.02 L48.6,33.15 L49.6,35.34 L50.6,37.66 L51.6,39.98 L52.6,42.14 L53.6,44 L54.6,45.52 L55.6,46.72 L56.6,47.56 L57.6,48.24 L58.6,48.83 L59.6,49.35 L60.6,49.8 L61.6,50.24 L62.6,50.65 L63.6,51.06 L64.6,51.47 L65.6,51.89 L66.6,52.33 L67.6,52.81 L68.6,53.34 L69.6,53.92 L70.6,54.55 L71.6,55.22 L72.6,55.91 L73.6,56.6 L74.6,57.25 L75.6,57.82 L76.6,58.24 L77.6,58.62 L78.6,59.16 L79.6,59.86 L80.6,60.62 L81.6,61.39 L82.6,62.19 L83.6,63 L84.6,63.82 L85.6,64.66 L86.6,65.5 L87.6,66.35 L88.6,67.23 L89.6,68.1 L90.6,69 L91.6,69.91 L92.6,70.87 L93.6,71.85 L94.6,72.89 L95.6,73.93 L96.6,75 L97.6,76.07 L98.6,77.13 L99.6,78.17 L100.6,79.18 L101.6,80.16 L102.6,81.08 L103.6,82 L104.6,82.85 L105.6,83.7 L106.6,84.52 L107.6,85.33 L108.6,86.13 L109.6,86.91 L110.6,87.68 L111.6,88.44 L112.6,89.19 L113.6,89.94 L114.6,90.66 L115.6,91.39 L116.6,92.11 L117.6,92.81 L118.6,93.51 L119.6,94.21 L120.6,94.9 L121.6,95.59 L122.6,96.28 L123.6,96.96 L124.6,97.65 L125.6,98.33 L126.6,98.99 L127.6,99.66 L128.6,100.32 L129.6,100.95 L130.6,101.59 L131.6,102.22 L132.6,102.82 L133.6,103.41 L134.6,104 L135.6,104.56 L136.6,105.09 L137.6,105.63 L138.6,106.14 L139.6,106.6 L140.6,107.06 L141.6,107.51 L142.6,107.91 L143.6,108.3 L144.6,108.7 L145.6,109.05 L146.6,109.4 L147.6,109.76 L148.6,110.09 L149.6,110.42 L150.6,110.75 L151.6,111.07 L152.6,111.4 L153.6,111.72 L154.6,112.05 L155.6,112.39 L156.6,112.73 L157.6,113.07 L158.6,113.44 L159.6,113.8 L160.6,114.16 L161.6,114.54 L162.6,114.91 L163.6,115.28 L164.6,115.65 L165.6,116.02 L166.6,116.39 L167.6,116.75 L168.6,117.11 L169.6,117.46 L170.6,117.8 L171.6,118.12 L172.6,118.44 L173.6,118.74 L174.6,119.01 L175.6,119.28 L176.6,119.54 L177.6,119.74 L178.6,119.94 L179.6,120.13 L180.6,120.27 L181.6,120.41 L182.6,120.56 L183.6,120.67 L184.6,120.77 L185.6,120.88 L186.6,120.97 L187.6,121.05 L188.6,121.13 L189.6,121.21 L190.6,121.29 L191.6,121.37 L192.6,121.46 L193.6,121.5" fill="none" stroke="#ec1c2a" stroke-width="1.1"  stroke-linejoin="round"/>
<path d="M26.6,9.4 L27.6,14.81 L28.6,20.32 L29.6,26.37 L30.6,34.27 L31.6,40.45 L32.6,44.55 L33.6,47.89 L34.6,50.85 L35.6,53.64 L36.6,56.24 L37.6,58.66 L38.6,60.96 L39.6,63.14 L40.6,65.25 L41.6,67.29 L42.6,69.26 L43.6,71.11 L44.6,72.83 L45.6,74.39 L46.6,75.91 L47.6,77.43 L48.6,78.95 L49.6,80.39 L50.6,81.58 L51.6,82.51 L52.6,83.15 L53.6,83.5 L54.6,83.34 L55.6,82.98 L56.6,82.44 L57.6,81.64 L58.6,80.79 L59.6,79.84 L60.6,78.85 L61.6,77.86 L62.6,76.89 L63.6,75.91 L64.6,74.92 L65.6,73.83 L66.6,72.72 L67.6,71.57 L68.6,70.42 L69.6,69.26 L70.6,68.14 L71.6,67.05 L72.6,66 L73.6,65.07 L74.6,64.19 L75.6,63.37 L76.6,62.59 L77.6,61.82 L78.6,61.03 L79.6,60.17 L80.6,59.23 L81.6,58.21 L82.6,57.15 L83.6,56.09 L84.6,55.07 L85.6,54.13 L86.6,53.32 L87.6,52.59 L88.6,51.92 L89.6,51.31 L90.6,50.73 L91.6,50.18 L92.6,49.67 L93.6,49.19 L94.6,48.73 L95.6,48.32 L96.6,47.93 L97.6,47.59 L98.6,47.29 L99.6,47.02 L100.6,46.8 L101.6,46.63 L102.6,46.49 L103.6,46.38 L104.6,46.32 L105.6,46.29 L106.6,46.26 L107.6,46.27 L108.6,46.31 L109.6,46.36 L110.6,46.47 L111.6,46.61 L112.6,46.8 L113.6,47.05 L114.6,47.34 L115.6,47.69 L116.6,48.07 L117.6,48.49 L118.6,48.97 L119.6,49.49 L120.6,50.06 L121.6,50.71 L122.6,51.4 L123.6,52.19 L124.6,53.07 L125.6,54.04 L126.6,55.18 L127.6,56.38 L128.6,57.63 L129.6,58.91 L130.6,60.17 L131.6,61.4 L132.6,62.54 L133.6,63.63 L134.6,64.69 L135.6,65.71 L136.6,66.73 L137.6,67.73 L138.6,68.73 L139.6,69.71 L140.6,70.69 L141.6,71.66 L142.6,72.63 L143.6,73.6 L144.6,74.56 L145.6,75.51 L146.6,76.46 L147.6,77.4 L148.6,78.33 L149.6,79.26 L150.6,80.17 L151.6,81.09 L152.6,82 L153.6,82.9 L154.6,83.79 L155.6,84.67 L156.6,85.55 L157.6,86.42 L158.6,87.28 L159.6,88.15 L160.6,89.03 L161.6,89.93 L162.6,90.83 L163.6,91.72 L164.6,92.59 L165.6,93.43 L166.6,94.25 L167.6,95.07 L168.6,95.88 L169.6,96.69 L170.6,97.5 L171.6,98.31 L172.6,99.11 L173.6,99.91 L174.6,100.7 L175.6,101.48 L176.6,102.26 L177.6,103.01 L178.6,103.77 L179.6,104.49 L180.6,105.21 L181.6,105.89 L182.6,106.55 L183.6,107.18 L184.6,107.79 L185.6,108.39 L186.6,108.96 L187.6,109.53 L188.6,110.08 L189.6,110.63 L190.6,111.18 L191.6,111.72 L192.6,112.28 L193.6,112.5" fill="none" stroke="#2440c8" stroke-width="1.6"  stroke-linejoin="round"/>
</g>
<rect x="26.5" y="1.7" width="166.9" height="123.3" fill="none" stroke="#111" stroke-width="1.25"/>
<line x1="38.6" y1="125" x2="38.6" y2="127.2" stroke="#111" stroke-width="0.9" />
<line x1="77.32" y1="125" x2="77.32" y2="127.2" stroke="#111" stroke-width="0.9" />
<line x1="116.04" y1="125" x2="116.04" y2="127.2" stroke="#111" stroke-width="0.9" />
<line x1="154.76" y1="125" x2="154.76" y2="127.2" stroke="#111" stroke-width="0.9" />
<line x1="193.48" y1="125" x2="193.48" y2="127.2" stroke="#111" stroke-width="0.9" />
<line x1="57.96" y1="125" x2="57.96" y2="126.3" stroke="#111" stroke-width="0.8" />
<line x1="96.68" y1="125" x2="96.68" y2="126.3" stroke="#111" stroke-width="0.8" />
<line x1="135.4" y1="125" x2="135.4" y2="126.3" stroke="#111" stroke-width="0.8" />
<line x1="174.12" y1="125" x2="174.12" y2="126.3" stroke="#111" stroke-width="0.8" />
<line x1="24.3" y1="95.3" x2="26.5" y2="95.3" stroke="#111" stroke-width="0.9" />
<line x1="24.3" y1="59.8" x2="26.5" y2="59.8" stroke="#111" stroke-width="0.9" />
<line x1="24.3" y1="24.3" x2="26.5" y2="24.3" stroke="#111" stroke-width="0.9" />
<line x1="25.2" y1="113.05" x2="26.5" y2="113.05" stroke="#111" stroke-width="0.8" />
<line x1="25.2" y1="77.55" x2="26.5" y2="77.55" stroke="#111" stroke-width="0.8" />
<line x1="25.2" y1="42.05" x2="26.5" y2="42.05" stroke="#111" stroke-width="0.8" />
<line x1="25.2" y1="6.55" x2="26.5" y2="6.55" stroke="#111" stroke-width="0.8" />
<text x="38.6" y="137.2" font-size="8.3" text-anchor="middle" font-weight="normal" fill="#111" stroke="#111" stroke-width="0.22" >400</text>
<text x="77.32" y="137.2" font-size="8.3" text-anchor="middle" font-weight="normal" fill="#111" stroke="#111" stroke-width="0.22" >500</text>
<text x="116.04" y="137.2" font-size="8.3" text-anchor="middle" font-weight="normal" fill="#111" stroke="#111" stroke-width="0.22" >600</text>
<text x="154.76" y="137.2" font-size="8.3" text-anchor="middle" font-weight="normal" fill="#111" stroke="#111" stroke-width="0.22" >700</text>
<text x="193.48" y="137.2" font-size="8.3" text-anchor="middle" font-weight="normal" fill="#111" stroke="#111" stroke-width="0.22" >800</text>
<text x="20.8" y="98.2" font-size="8.2" text-anchor="end" font-weight="normal" fill="#111" stroke="#111" stroke-width="0.22" >0.2</text>
<text x="20.8" y="62.7" font-size="8.2" text-anchor="end" font-weight="normal" fill="#111" stroke="#111" stroke-width="0.22" >0.4</text>
<text x="20.8" y="27.2" font-size="8.2" text-anchor="end" font-weight="normal" fill="#111" stroke="#111" stroke-width="0.22" >0.6</text>
<text x="125.8" y="139.3" font-size="8.3" text-anchor="start" font-weight="normal" fill="#111" stroke="#111" stroke-width="0.22" >&#955; / nm</text>
<text transform="translate(8.4,64.4) rotate(-90)" font-size="7.9" text-anchor="middle" fill="#222" stroke="#222" stroke-width="0.22">absorption</text>
<text x="5.6" y="11.2" font-size="11.5" text-anchor="start" font-weight="bold" fill="#000" stroke="#000" stroke-width="0.22" >A</text>
<text x="42.6" y="22.6" font-size="10.5" text-anchor="start" font-weight="bold" fill="#e8202a" stroke="#e8202a" stroke-width="0.22" >1</text>
<text x="48.6" y="16.4" font-size="7" text-anchor="start" font-weight="bold" fill="#e8202a" stroke="#e8202a" stroke-width="0.22" >+</text>
<text x="85.5" y="16.6" font-size="10.3" fill="#111" stroke="#111" stroke-width="0.22"><tspan font-style="italic">T</tspan> = -40 °C</text>
<line x1="59.5" y1="28" x2="59.5" y2="42" stroke="#111" stroke-width="1" />
<path d="M57.3,40 L59.5,45 L61.7,40 Z" fill="#111"/>
<line x1="109" y1="44" x2="109" y2="32" stroke="#111" stroke-width="1" />
<path d="M106.8,33.5 L109,28.3 L111.2,33.5 Z" fill="#111"/>
<line x1="151.4" y1="12.4" x2="163.3" y2="12.4" stroke="#ec1c2a" stroke-width="1.1" />
<text x="165.7" y="14.5" font-size="6.2" text-anchor="start" font-weight="normal" fill="#111" stroke="#111" stroke-width="0.22" >0 min</text>
<line x1="151.4" y1="20.2" x2="163.3" y2="20.2" stroke="#e848c0" stroke-width="1" />
<text x="165.7" y="22.3" font-size="6.2" text-anchor="start" font-weight="normal" fill="#111" stroke="#111" stroke-width="0.22" >5 min</text>
<line x1="151.4" y1="26.9" x2="163.3" y2="26.9" stroke="#b878e0" stroke-width="1" />
<text x="165.7" y="29" font-size="6.2" text-anchor="start" font-weight="normal" fill="#111" stroke="#111" stroke-width="0.22" >10 min</text>
<line x1="151.4" y1="33.8" x2="163.3" y2="33.8" stroke="#f4a088" stroke-width="1" />
<text x="165.7" y="35.9" font-size="6.2" text-anchor="start" font-weight="normal" fill="#111" stroke="#111" stroke-width="0.22" >20 min</text>
<line x1="151.4" y1="40.5" x2="163.3" y2="40.5" stroke="#e848b0" stroke-width="1" />
<text x="165.7" y="42.6" font-size="6.2" text-anchor="start" font-weight="normal" fill="#111" stroke="#111" stroke-width="0.22" >40 min</text>
<line x1="151.4" y1="47.1" x2="163.3" y2="47.1" stroke="#48e8b8" stroke-width="1" />
<text x="165.7" y="49.2" font-size="6.2" text-anchor="start" font-weight="normal" fill="#111" stroke="#111" stroke-width="0.22" >1 h</text>
<line x1="151.4" y1="53.8" x2="163.3" y2="53.8" stroke="#48c090" stroke-width="1" />
<text x="165.7" y="55.9" font-size="6.2" text-anchor="start" font-weight="normal" fill="#111" stroke="#111" stroke-width="0.22" >2 h</text>
<line x1="151.4" y1="60.7" x2="163.3" y2="60.7" stroke="#70c058" stroke-width="1" />
<text x="165.7" y="62.8" font-size="6.2" text-anchor="start" font-weight="normal" fill="#111" stroke="#111" stroke-width="0.22" >3 h</text>
<line x1="69" y1="81.9" x2="80.9" y2="81.9" stroke="#90ac70" stroke-width="1" />
<text x="82.8" y="84" font-size="6.2" text-anchor="start" font-weight="normal" fill="#111" stroke="#111" stroke-width="0.22" >4 h</text>
<line x1="69" y1="88.6" x2="80.9" y2="88.6" stroke="#70ec58" stroke-width="1.2" />
<text x="82.8" y="90.7" font-size="6.2" text-anchor="start" font-weight="normal" fill="#111" stroke="#111" stroke-width="0.22" >6 h</text>
<line x1="69" y1="95.5" x2="80.9" y2="95.5" stroke="#c050c8" stroke-width="1" />
<text x="82.8" y="97.6" font-size="6.2" text-anchor="start" font-weight="normal" fill="#111" stroke="#111" stroke-width="0.22" >8 h</text>
<line x1="69" y1="102.5" x2="80.9" y2="102.5" stroke="#d868d8" stroke-width="1" stroke-dasharray="2,1"/>
<text x="82.8" y="104.6" font-size="6.2" text-anchor="start" font-weight="normal" fill="#111" stroke="#111" stroke-width="0.22" >10 h</text>
<line x1="69" y1="109.4" x2="80.9" y2="109.4" stroke="#3c68e8" stroke-width="1" />
<text x="82.8" y="111.5" font-size="6.2" text-anchor="start" font-weight="normal" fill="#111" stroke="#111" stroke-width="0.22" >12 h</text>
<line x1="69" y1="115.7" x2="80.9" y2="115.7" stroke="#2440c8" stroke-width="1.6" />
<text x="82.8" y="117.8" font-size="6.2" text-anchor="start" font-weight="normal" fill="#111" stroke="#111" stroke-width="0.22" >14 h</text>
</g>
<clipPath id="clipB"><rect x="26.5" y="144.4" width="166.9" height="122.9"/></clipPath>
<g clip-path="url(#clipB)">
<path d="M27,157.47 L28,158.65 L29,159.9 L30,161.08 L31,162.13 L32,162.91 L33,163.32 L34,163.16 L35,162.43 L36,161.28 L37,159.92 L38,158.57 L39,157.44 L40,156.54 L41,155.72 L42,154.95 L43,154.29 L44,153.81 L45,153.64 L46,153.82 L47,154.43 L48,156.27 L49,159.98 L50,166.53 L51,174.65 L52,181.13 L53,185.84 L54,189.76 L55,193.17 L56,196.1 L57,198.55 L58,200.54 L59,202 L60,202.96 L61,203.52 L62,203.85 L63,204.06 L64,204.25 L65,204.56 L66,204.91 L67,205.29 L68,205.62 L69,205.95 L70,206.27 L71,206.6 L72,206.95 L73,207.34 L74,207.77 L75,208.23 L76,208.77 L77,209.32 L78,209.89 L79,210.49 L80,211.11 L81,211.75 L82,212.4 L83,213.08 L84,213.77 L85,214.49 L86,215.22 L87,216 L88,216.82 L89,217.67 L90,218.55 L91,219.44 L92,220.33 L93,221.21 L94,222.06 L95,222.89 L96,223.68 L97,224.44 L98,225.18 L99,225.91 L100,226.63 L101,227.32 L102,228 L103,228.66 L104,229.3 L105,229.93 L106,230.55 L107,231.15 L108,231.75 L109,232.33 L110,232.91 L111,233.5 L112,234.07 L113,234.65 L114,235.23 L115,235.81 L116,236.38 L117,236.95 L118,237.52 L119,238.09 L120,238.65 L121,239.22 L122,239.78 L123,240.33 L124,240.88 L125,241.43 L126,241.97 L127,242.5 L128,243.03 L129,243.55 L130,244.05 L131,244.55 L132,245.02 L133,245.49 L134,245.93 L135,246.35 L136,246.72 L137,247.08 L138,247.41 L139,247.73 L140,248.03 L141,248.33 L142,248.6 L143,248.87 L144,249.11 L145,249.34 L146,249.57 L147,249.77 L148,249.98 L149,250.19 L150,250.39 L151,250.6 L152,250.8 L153,251.01 L154,251.22 L155,251.43 L156,251.66 L157,251.9 L158,252.14 L159,252.39 L160,252.64 L161,252.89 L162,253.15 L163,253.41 L164,253.68 L165,253.96 L166,254.24 L167,254.52 L168,254.81 L169,255.11 L170,255.41 L171,255.71 L172,256.02 L173,256.34 L174,256.65 L175,256.96 L176,257.29 L177,257.61 L178,257.93 L179,258.25 L180,258.58 L181,258.91 L182,259.24 L183,259.57 L184,259.9 L185,260.23 L186,260.57 L187,260.91 L188,261.24 L189,261.58 L190,261.92 L191,262.26 L192,262.6 L193,262.93" fill="none" stroke="#5c5c5c" stroke-width="0.7" />
<path d="M27,158.53 L28,159.72 L29,160.97 L30,162.16 L31,163.22 L32,164.01 L33,164.44 L34,164.33 L35,163.66 L36,162.59 L37,161.32 L38,160.05 L39,158.98 L40,158.12 L41,157.34 L42,156.6 L43,155.97 L44,155.51 L45,155.35 L46,155.5 L47,156.08 L48,157.82 L49,161.34 L50,167.57 L51,175.37 L52,181.67 L53,186.38 L54,190.34 L55,193.79 L56,196.71 L57,199.14 L58,201.11 L59,202.55 L60,203.5 L61,204.06 L62,204.4 L63,204.63 L64,204.83 L65,205.14 L66,205.49 L67,205.86 L68,206.18 L69,206.5 L70,206.81 L71,207.13 L72,207.47 L73,207.84 L74,208.25 L75,208.69 L76,209.2 L77,209.72 L78,210.26 L79,210.82 L80,211.4 L81,211.99 L82,212.59 L83,213.22 L84,213.85 L85,214.51 L86,215.19 L87,215.91 L88,216.66 L89,217.45 L90,218.26 L91,219.09 L92,219.91 L93,220.72 L94,221.51 L95,222.28 L96,223.01 L97,223.71 L98,224.39 L99,225.06 L100,225.72 L101,226.36 L102,226.98 L103,227.59 L104,228.18 L105,228.76 L106,229.33 L107,229.87 L108,230.42 L109,230.95 L110,231.49 L111,232.02 L112,232.56 L113,233.1 L114,233.64 L115,234.19 L116,234.73 L117,235.27 L118,235.82 L119,236.37 L120,236.91 L121,237.45 L122,238 L123,238.54 L124,239.07 L125,239.6 L126,240.14 L127,240.65 L128,241.17 L129,241.68 L130,242.18 L131,242.68 L132,243.16 L133,243.64 L134,244.08 L135,244.52 L136,244.91 L137,245.29 L138,245.64 L139,245.97 L140,246.3 L141,246.61 L142,246.9 L143,247.18 L144,247.44 L145,247.69 L146,247.94 L147,248.16 L148,248.39 L149,248.62 L150,248.84 L151,249.07 L152,249.29 L153,249.52 L154,249.75 L155,249.99 L156,250.24 L157,250.49 L158,250.75 L159,251.03 L160,251.3 L161,251.58 L162,251.86 L163,252.15 L164,252.44 L165,252.74 L166,253.05 L167,253.36 L168,253.67 L169,253.99 L170,254.31 L171,254.63 L172,254.96 L173,255.29 L174,255.62 L175,255.94 L176,256.27 L177,256.6 L178,256.94 L179,257.27 L180,257.6 L181,257.94 L182,258.28 L183,258.62 L184,258.96 L185,259.31 L186,259.66 L187,260.02 L188,260.37 L189,260.73 L190,261.08 L191,261.44 L192,261.8 L193,262.15" fill="none" stroke="#5f5f5f" stroke-width="0.7" />
<path d="M27,159.74 L28,160.94 L29,162.19 L30,163.38 L31,164.45 L32,165.25 L33,165.71 L34,165.66 L35,165.07 L36,164.09 L37,162.92 L38,161.73 L39,160.73 L40,159.93 L41,159.18 L42,158.49 L43,157.89 L44,157.45 L45,157.29 L46,157.43 L47,157.97 L48,159.6 L49,162.89 L50,168.76 L51,176.2 L52,182.3 L53,187 L54,191.01 L55,194.5 L56,197.42 L57,199.82 L58,201.75 L59,203.17 L60,204.11 L61,204.68 L62,205.03 L63,205.27 L64,205.49 L65,205.8 L66,206.14 L67,206.51 L68,206.82 L69,207.13 L70,207.43 L71,207.74 L72,208.06 L73,208.41 L74,208.8 L75,209.22 L76,209.69 L77,210.17 L78,210.68 L79,211.19 L80,211.72 L81,212.26 L82,212.81 L83,213.38 L84,213.95 L85,214.54 L86,215.15 L87,215.8 L88,216.48 L89,217.2 L90,217.94 L91,218.68 L92,219.43 L93,220.17 L94,220.89 L95,221.58 L96,222.24 L97,222.87 L98,223.49 L99,224.09 L100,224.69 L101,225.26 L102,225.83 L103,226.38 L104,226.91 L105,227.43 L106,227.93 L107,228.42 L108,228.9 L109,229.38 L110,229.86 L111,230.34 L112,230.83 L113,231.32 L114,231.83 L115,232.34 L116,232.85 L117,233.36 L118,233.89 L119,234.41 L120,234.93 L121,235.45 L122,235.97 L123,236.49 L124,237 L125,237.52 L126,238.04 L127,238.54 L128,239.05 L129,239.56 L130,240.05 L131,240.55 L132,241.04 L133,241.52 L134,241.98 L135,242.44 L136,242.85 L137,243.25 L138,243.62 L139,243.97 L140,244.32 L141,244.65 L142,244.96 L143,245.26 L144,245.54 L145,245.81 L146,246.08 L147,246.33 L148,246.58 L149,246.83 L150,247.08 L151,247.32 L152,247.57 L153,247.83 L154,248.08 L155,248.34 L156,248.62 L157,248.89 L158,249.18 L159,249.48 L160,249.78 L161,250.09 L162,250.4 L163,250.71 L164,251.03 L165,251.36 L166,251.69 L167,252.03 L168,252.37 L169,252.71 L170,253.06 L171,253.4 L172,253.75 L173,254.09 L174,254.44 L175,254.78 L176,255.12 L177,255.46 L178,255.8 L179,256.14 L180,256.49 L181,256.84 L182,257.18 L183,257.54 L184,257.9 L185,258.26 L186,258.63 L187,259 L188,259.38 L189,259.75 L190,260.13 L191,260.51 L192,260.89 L193,261.26" fill="none" stroke="#636363" stroke-width="0.7" />
<path d="M27,161.05 L28,162.26 L29,163.52 L30,164.71 L31,165.79 L32,166.61 L33,167.09 L34,167.1 L35,166.6 L36,165.72 L37,164.66 L38,163.56 L39,162.64 L40,161.89 L41,161.19 L42,160.54 L43,159.97 L44,159.56 L45,159.4 L46,159.52 L47,160.02 L48,161.52 L49,164.58 L50,170.05 L51,177.09 L52,182.97 L53,187.67 L54,191.73 L55,195.26 L56,198.18 L57,200.55 L58,202.45 L59,203.85 L60,204.77 L61,205.35 L62,205.71 L63,205.97 L64,206.2 L65,206.52 L66,206.85 L67,207.21 L68,207.52 L69,207.81 L70,208.1 L71,208.4 L72,208.7 L73,209.03 L74,209.4 L75,209.79 L76,210.22 L77,210.67 L78,211.13 L79,211.6 L80,212.08 L81,212.56 L82,213.05 L83,213.55 L84,214.05 L85,214.58 L86,215.11 L87,215.68 L88,216.29 L89,216.92 L90,217.58 L91,218.25 L92,218.91 L93,219.57 L94,220.21 L95,220.82 L96,221.41 L97,221.97 L98,222.51 L99,223.04 L100,223.57 L101,224.08 L102,224.57 L103,225.06 L104,225.52 L105,225.98 L106,226.42 L107,226.84 L108,227.26 L109,227.67 L110,228.09 L111,228.51 L112,228.95 L113,229.4 L114,229.86 L115,230.33 L116,230.81 L117,231.29 L118,231.78 L119,232.27 L120,232.76 L121,233.26 L122,233.76 L123,234.26 L124,234.75 L125,235.26 L126,235.76 L127,236.25 L128,236.75 L129,237.24 L130,237.74 L131,238.23 L132,238.73 L133,239.22 L134,239.7 L135,240.17 L136,240.6 L137,241.02 L138,241.42 L139,241.8 L140,242.16 L141,242.52 L142,242.85 L143,243.17 L144,243.47 L145,243.77 L146,244.06 L147,244.34 L148,244.61 L149,244.89 L150,245.16 L151,245.43 L152,245.7 L153,245.98 L154,246.26 L155,246.55 L156,246.85 L157,247.15 L158,247.47 L159,247.79 L160,248.12 L161,248.46 L162,248.8 L163,249.15 L164,249.5 L165,249.86 L166,250.22 L167,250.59 L168,250.96 L169,251.33 L170,251.7 L171,252.07 L172,252.43 L173,252.8 L174,253.16 L175,253.51 L176,253.87 L177,254.22 L178,254.57 L179,254.92 L180,255.28 L181,255.64 L182,256 L183,256.36 L184,256.74 L185,257.12 L186,257.51 L187,257.9 L188,258.3 L189,258.7 L190,259.1 L191,259.5 L192,259.89 L193,260.29" fill="none" stroke="#676767" stroke-width="0.7" />
<path d="M27,162.45 L28,163.67 L29,164.94 L30,166.14 L31,167.22 L32,168.05 L33,168.57 L34,168.64 L35,168.23 L36,167.46 L37,166.51 L38,165.51 L39,164.67 L40,163.98 L41,163.33 L42,162.72 L43,162.19 L44,161.8 L45,161.65 L46,161.74 L47,162.2 L48,163.58 L49,166.37 L50,171.43 L51,178.04 L52,183.69 L53,188.38 L54,192.51 L55,196.08 L56,199 L57,201.33 L58,203.2 L59,204.57 L60,205.48 L61,206.06 L62,206.44 L63,206.72 L64,206.96 L65,207.29 L66,207.61 L67,207.96 L68,208.26 L69,208.54 L70,208.82 L71,209.1 L72,209.39 L73,209.7 L74,210.03 L75,210.39 L76,210.79 L77,211.2 L78,211.61 L79,212.03 L80,212.45 L81,212.88 L82,213.3 L83,213.73 L84,214.16 L85,214.61 L86,215.07 L87,215.56 L88,216.08 L89,216.63 L90,217.2 L91,217.78 L92,218.36 L93,218.93 L94,219.49 L95,220.02 L96,220.52 L97,221 L98,221.47 L99,221.93 L100,222.38 L101,222.81 L102,223.24 L103,223.65 L104,224.05 L105,224.43 L106,224.8 L107,225.15 L108,225.51 L109,225.85 L110,226.2 L111,226.57 L112,226.95 L113,227.34 L114,227.76 L115,228.19 L116,228.63 L117,229.07 L118,229.54 L119,229.99 L120,230.46 L121,230.93 L122,231.41 L123,231.89 L124,232.36 L125,232.85 L126,233.33 L127,233.81 L128,234.29 L129,234.78 L130,235.27 L131,235.77 L132,236.27 L133,236.77 L134,237.26 L135,237.75 L136,238.21 L137,238.65 L138,239.07 L139,239.48 L140,239.87 L141,240.25 L142,240.6 L143,240.95 L144,241.27 L145,241.59 L146,241.91 L147,242.21 L148,242.51 L149,242.81 L150,243.11 L151,243.41 L152,243.71 L153,244.02 L154,244.32 L155,244.64 L156,244.97 L157,245.3 L158,245.64 L159,246 L160,246.35 L161,246.73 L162,247.1 L163,247.48 L164,247.87 L165,248.26 L166,248.65 L167,249.05 L168,249.45 L169,249.85 L170,250.25 L171,250.64 L172,251.03 L173,251.41 L174,251.79 L175,252.16 L176,252.53 L177,252.9 L178,253.26 L179,253.62 L180,253.99 L181,254.36 L182,254.73 L183,255.11 L184,255.51 L185,255.91 L186,256.32 L187,256.73 L188,257.15 L189,257.57 L190,257.99 L191,258.41 L192,258.84 L193,259.26" fill="none" stroke="#6c6c6c" stroke-width="0.7" />
<path d="M27,163.93 L28,165.15 L29,166.42 L30,167.63 L31,168.72 L32,169.57 L33,170.12 L34,170.26 L35,169.94 L36,169.28 L37,168.45 L38,167.57 L39,166.81 L40,166.17 L41,165.58 L42,165.02 L43,164.53 L44,164.16 L45,164.01 L46,164.09 L47,164.5 L48,165.74 L49,168.27 L50,172.87 L51,179.04 L52,184.45 L53,189.13 L54,193.32 L55,196.94 L56,199.85 L57,202.15 L58,203.98 L59,205.32 L60,206.23 L61,206.81 L62,207.21 L63,207.51 L64,207.76 L65,208.09 L66,208.41 L67,208.74 L68,209.03 L69,209.31 L70,209.57 L71,209.84 L72,210.11 L73,210.39 L74,210.7 L75,211.03 L76,211.39 L77,211.75 L78,212.12 L79,212.49 L80,212.85 L81,213.21 L82,213.56 L83,213.92 L84,214.28 L85,214.65 L86,215.02 L87,215.43 L88,215.87 L89,216.33 L90,216.81 L91,217.3 L92,217.78 L93,218.26 L94,218.73 L95,219.17 L96,219.59 L97,219.99 L98,220.37 L99,220.75 L100,221.12 L101,221.48 L102,221.83 L103,222.17 L104,222.5 L105,222.81 L106,223.11 L107,223.38 L108,223.66 L109,223.93 L110,224.22 L111,224.52 L112,224.84 L113,225.18 L114,225.55 L115,225.94 L116,226.34 L117,226.75 L118,227.18 L119,227.6 L120,228.04 L121,228.49 L122,228.94 L123,229.39 L124,229.84 L125,230.31 L126,230.78 L127,231.24 L128,231.71 L129,232.19 L130,232.68 L131,233.17 L132,233.68 L133,234.19 L134,234.7 L135,235.21 L136,235.69 L137,236.16 L138,236.61 L139,237.04 L140,237.46 L141,237.86 L142,238.23 L143,238.61 L144,238.96 L145,239.3 L146,239.65 L147,239.97 L148,240.3 L149,240.63 L150,240.96 L151,241.28 L152,241.61 L153,241.95 L154,242.28 L155,242.63 L156,242.99 L157,243.35 L158,243.72 L159,244.11 L160,244.5 L161,244.9 L162,245.31 L163,245.73 L164,246.15 L165,246.57 L166,247 L167,247.44 L168,247.87 L169,248.3 L170,248.72 L171,249.14 L172,249.55 L173,249.96 L174,250.36 L175,250.74 L176,251.13 L177,251.5 L178,251.88 L179,252.25 L180,252.63 L181,253.01 L182,253.4 L183,253.8 L184,254.21 L185,254.63 L186,255.06 L187,255.49 L188,255.94 L189,256.38 L190,256.83 L191,257.28 L192,257.73 L193,258.17" fill="none" stroke="#707070" stroke-width="0.7" />
<path d="M27,165.46 L28,166.7 L29,167.97 L30,169.19 L31,170.28 L32,171.15 L33,171.74 L34,171.95 L35,171.73 L36,171.19 L37,170.48 L38,169.71 L39,169.03 L40,168.46 L41,167.93 L42,167.41 L43,166.97 L44,166.62 L45,166.47 L46,166.53 L47,166.89 L48,167.99 L49,170.24 L50,174.38 L51,180.08 L52,185.24 L53,189.91 L54,194.16 L55,197.84 L56,200.75 L57,203 L58,204.8 L59,206.11 L60,207.01 L61,207.59 L62,208.01 L63,208.33 L64,208.6 L65,208.93 L66,209.24 L67,209.57 L68,209.84 L69,210.11 L70,210.36 L71,210.61 L72,210.86 L73,211.12 L74,211.4 L75,211.69 L76,212.01 L77,212.33 L78,212.65 L79,212.96 L80,213.26 L81,213.56 L82,213.84 L83,214.12 L84,214.4 L85,214.68 L86,214.98 L87,215.29 L88,215.64 L89,216.01 L90,216.39 L91,216.79 L92,217.18 L93,217.56 L94,217.93 L95,218.28 L96,218.61 L97,218.93 L98,219.23 L99,219.52 L100,219.81 L101,220.09 L102,220.36 L103,220.63 L104,220.88 L105,221.11 L106,221.34 L107,221.54 L108,221.74 L109,221.93 L110,222.15 L111,222.38 L112,222.64 L113,222.93 L114,223.25 L115,223.59 L116,223.95 L117,224.32 L118,224.72 L119,225.11 L120,225.52 L121,225.93 L122,226.36 L123,226.79 L124,227.22 L125,227.67 L126,228.11 L127,228.56 L128,229.02 L129,229.49 L130,229.97 L131,230.47 L132,230.98 L133,231.51 L134,232.03 L135,232.56 L136,233.07 L137,233.56 L138,234.04 L139,234.5 L140,234.94 L141,235.37 L142,235.77 L143,236.17 L144,236.54 L145,236.92 L146,237.29 L147,237.64 L148,238 L149,238.36 L150,238.71 L151,239.07 L152,239.43 L153,239.79 L154,240.16 L155,240.53 L156,240.92 L157,241.31 L158,241.72 L159,242.14 L160,242.56 L161,243.01 L162,243.45 L163,243.9 L164,244.36 L165,244.82 L166,245.28 L167,245.75 L168,246.21 L169,246.68 L170,247.13 L171,247.58 L172,248.02 L173,248.44 L174,248.86 L175,249.26 L176,249.66 L177,250.05 L178,250.44 L179,250.83 L180,251.21 L181,251.61 L182,252.01 L183,252.43 L184,252.85 L185,253.3 L186,253.75 L187,254.21 L188,254.67 L189,255.14 L190,255.62 L191,256.09 L192,256.57 L193,257.04" fill="none" stroke="#757575" stroke-width="0.7" />
<path d="M27,167.06 L28,168.3 L29,169.58 L30,170.8 L31,171.91 L32,172.79 L33,173.41 L34,173.7 L35,173.58 L36,173.16 L37,172.58 L38,171.92 L39,171.34 L40,170.84 L41,170.36 L42,169.9 L43,169.49 L44,169.17 L45,169.03 L46,169.06 L47,169.38 L48,170.33 L49,172.28 L50,175.94 L51,181.16 L52,186.06 L53,190.73 L54,195.04 L55,198.77 L56,201.67 L57,203.89 L58,205.65 L59,206.93 L60,207.82 L61,208.4 L62,208.83 L63,209.18 L64,209.46 L65,209.8 L66,210.1 L67,210.42 L68,210.68 L69,210.93 L70,211.18 L71,211.4 L72,211.64 L73,211.87 L74,212.12 L75,212.38 L76,212.65 L77,212.93 L78,213.19 L79,213.45 L80,213.69 L81,213.92 L82,214.13 L83,214.33 L84,214.52 L85,214.72 L86,214.93 L87,215.15 L88,215.4 L89,215.67 L90,215.96 L91,216.26 L92,216.55 L93,216.84 L94,217.11 L95,217.37 L96,217.6 L97,217.83 L98,218.04 L99,218.25 L100,218.46 L101,218.65 L102,218.84 L103,219.03 L104,219.2 L105,219.36 L106,219.5 L107,219.62 L108,219.75 L109,219.86 L110,220.01 L111,220.17 L112,220.37 L113,220.6 L114,220.86 L115,221.16 L116,221.48 L117,221.81 L118,222.17 L119,222.52 L120,222.9 L121,223.29 L122,223.68 L123,224.09 L124,224.5 L125,224.93 L126,225.35 L127,225.79 L128,226.24 L129,226.69 L130,227.17 L131,227.66 L132,228.19 L133,228.72 L134,229.27 L135,229.81 L136,230.35 L137,230.87 L138,231.38 L139,231.86 L140,232.33 L141,232.79 L142,233.21 L143,233.64 L144,234.04 L145,234.44 L146,234.84 L147,235.23 L148,235.61 L149,236 L150,236.39 L151,236.77 L152,237.16 L153,237.56 L154,237.96 L155,238.36 L156,238.78 L157,239.21 L158,239.65 L159,240.1 L160,240.56 L161,241.04 L162,241.51 L163,242 L164,242.5 L165,243 L166,243.5 L167,244 L168,244.5 L169,245 L170,245.48 L171,245.96 L172,246.42 L173,246.87 L174,247.31 L175,247.72 L176,248.14 L177,248.55 L178,248.95 L179,249.35 L180,249.75 L181,250.16 L182,250.57 L183,251 L184,251.45 L185,251.91 L186,252.39 L187,252.87 L188,253.36 L189,253.86 L190,254.36 L191,254.87 L192,255.37 L193,255.87" fill="none" stroke="#7a7a7a" stroke-width="0.7" />
<path d="M27,168.7 L28,169.95 L29,171.24 L30,172.47 L31,173.58 L32,174.49 L33,175.14 L34,175.51 L35,175.49 L36,175.2 L37,174.75 L38,174.21 L39,173.72 L40,173.29 L41,172.86 L42,172.46 L43,172.09 L44,171.81 L45,171.67 L46,171.67 L47,171.94 L48,172.74 L49,174.39 L50,177.56 L51,182.28 L52,186.91 L53,191.56 L54,195.95 L55,199.73 L56,202.63 L57,204.81 L58,206.52 L59,207.78 L60,208.65 L61,209.24 L62,209.69 L63,210.06 L64,210.36 L65,210.7 L66,210.99 L67,211.3 L68,211.55 L69,211.79 L70,212.02 L71,212.23 L72,212.44 L73,212.65 L74,212.87 L75,213.1 L76,213.32 L77,213.55 L78,213.76 L79,213.96 L80,214.13 L81,214.29 L82,214.42 L83,214.54 L84,214.65 L85,214.76 L86,214.88 L87,215 L88,215.16 L89,215.33 L90,215.52 L91,215.71 L92,215.91 L93,216.09 L94,216.26 L95,216.42 L96,216.56 L97,216.7 L98,216.82 L99,216.94 L100,217.06 L101,217.17 L102,217.28 L103,217.38 L104,217.47 L105,217.55 L106,217.61 L107,217.65 L108,217.69 L109,217.73 L110,217.8 L111,217.89 L112,218.02 L113,218.19 L114,218.4 L115,218.65 L116,218.92 L117,219.21 L118,219.53 L119,219.85 L120,220.2 L121,220.56 L122,220.93 L123,221.31 L124,221.69 L125,222.1 L126,222.51 L127,222.92 L128,223.36 L129,223.8 L130,224.28 L131,224.77 L132,225.3 L133,225.85 L134,226.41 L135,226.98 L136,227.54 L137,228.09 L138,228.63 L139,229.15 L140,229.64 L141,230.12 L142,230.58 L143,231.03 L144,231.46 L145,231.89 L146,232.32 L147,232.73 L148,233.15 L149,233.57 L150,233.99 L151,234.41 L152,234.83 L153,235.26 L154,235.68 L155,236.12 L156,236.58 L157,237.03 L158,237.51 L159,238 L160,238.49 L161,239 L162,239.52 L163,240.05 L164,240.58 L165,241.12 L166,241.66 L167,242.2 L168,242.73 L169,243.26 L170,243.78 L171,244.29 L172,244.78 L173,245.25 L174,245.71 L175,246.14 L176,246.58 L177,246.99 L178,247.41 L179,247.82 L180,248.24 L181,248.66 L182,249.09 L183,249.54 L184,250 L185,250.49 L186,250.99 L187,251.5 L188,252.01 L189,252.54 L190,253.07 L191,253.6 L192,254.13 L193,254.66" fill="none" stroke="#7f7f7f" stroke-width="0.7" />
<path d="M27,170.39 L28,171.65 L29,172.95 L30,174.18 L31,175.3 L32,176.23 L33,176.92 L34,177.36 L35,177.46 L36,177.29 L37,176.98 L38,176.56 L39,176.17 L40,175.8 L41,175.44 L42,175.09 L43,174.77 L44,174.51 L45,174.38 L46,174.36 L47,174.57 L48,175.22 L49,176.56 L50,179.22 L51,183.42 L52,187.78 L53,192.42 L54,196.88 L55,200.71 L56,203.61 L57,205.75 L58,207.42 L59,208.64 L60,209.5 L61,210.1 L62,210.56 L63,210.96 L64,211.28 L65,211.62 L66,211.91 L67,212.2 L68,212.44 L69,212.67 L70,212.89 L71,213.07 L72,213.27 L73,213.45 L74,213.64 L75,213.83 L76,214.01 L77,214.19 L78,214.34 L79,214.48 L80,214.59 L81,214.67 L82,214.72 L83,214.76 L84,214.79 L85,214.8 L86,214.82 L87,214.85 L88,214.91 L89,214.98 L90,215.07 L91,215.15 L92,215.24 L93,215.32 L94,215.39 L95,215.45 L96,215.49 L97,215.53 L98,215.56 L99,215.59 L100,215.62 L101,215.64 L102,215.66 L103,215.68 L104,215.69 L105,215.68 L106,215.66 L107,215.62 L108,215.58 L109,215.53 L110,215.52 L111,215.54 L112,215.6 L113,215.71 L114,215.87 L115,216.07 L116,216.3 L117,216.54 L118,216.83 L119,217.11 L120,217.43 L121,217.75 L122,218.09 L123,218.45 L124,218.8 L125,219.19 L126,219.58 L127,219.98 L128,220.4 L129,220.83 L130,221.31 L131,221.79 L132,222.34 L133,222.89 L134,223.48 L135,224.07 L136,224.66 L137,225.24 L138,225.81 L139,226.35 L140,226.87 L141,227.38 L142,227.86 L143,228.34 L144,228.81 L145,229.27 L146,229.72 L147,230.17 L148,230.62 L149,231.07 L150,231.52 L151,231.97 L152,232.42 L153,232.89 L154,233.35 L155,233.82 L156,234.31 L157,234.79 L158,235.31 L159,235.83 L160,236.36 L161,236.92 L162,237.47 L163,238.04 L164,238.61 L165,239.19 L166,239.77 L167,240.35 L168,240.92 L169,241.48 L170,242.03 L171,242.57 L172,243.09 L173,243.58 L174,244.06 L175,244.51 L176,244.97 L177,245.4 L178,245.83 L179,246.25 L180,246.68 L181,247.12 L182,247.56 L183,248.03 L184,248.51 L185,249.02 L186,249.55 L187,250.08 L188,250.63 L189,251.18 L190,251.74 L191,252.3 L192,252.86 L193,253.41" fill="none" stroke="#858585" stroke-width="0.7" />
<path d="M27,172.12 L28,173.4 L29,174.7 L30,175.94 L31,177.07 L32,178.01 L33,178.74 L34,179.27 L35,179.48 L36,179.44 L37,179.27 L38,178.98 L39,178.68 L40,178.39 L41,178.09 L42,177.79 L43,177.52 L44,177.29 L45,177.16 L46,177.11 L47,177.27 L48,177.76 L49,178.78 L50,180.92 L51,184.6 L52,188.67 L53,193.31 L54,197.83 L55,201.73 L56,204.62 L57,206.71 L58,208.34 L59,209.53 L60,210.38 L61,210.98 L62,211.46 L63,211.89 L64,212.22 L65,212.57 L66,212.84 L67,213.12 L68,213.36 L69,213.57 L70,213.77 L71,213.94 L72,214.11 L73,214.27 L74,214.42 L75,214.58 L76,214.71 L77,214.84 L78,214.94 L79,215.01 L80,215.05 L81,215.06 L82,215.04 L83,214.99 L84,214.92 L85,214.85 L86,214.77 L87,214.7 L88,214.66 L89,214.62 L90,214.6 L91,214.58 L92,214.56 L93,214.53 L94,214.49 L95,214.45 L96,214.4 L97,214.34 L98,214.27 L99,214.21 L100,214.14 L101,214.07 L102,214.01 L103,213.94 L104,213.87 L105,213.78 L106,213.67 L107,213.54 L108,213.41 L109,213.28 L110,213.19 L111,213.13 L112,213.13 L113,213.17 L114,213.27 L115,213.42 L116,213.6 L117,213.81 L118,214.05 L119,214.3 L120,214.58 L121,214.87 L122,215.18 L123,215.51 L124,215.84 L125,216.21 L126,216.58 L127,216.96 L128,217.37 L129,217.79 L130,218.26 L131,218.74 L132,219.3 L133,219.86 L134,220.47 L135,221.08 L136,221.7 L137,222.31 L138,222.91 L139,223.48 L140,224.04 L141,224.58 L142,225.08 L143,225.59 L144,226.09 L145,226.57 L146,227.06 L147,227.54 L148,228.02 L149,228.51 L150,228.99 L151,229.47 L152,229.96 L153,230.46 L154,230.95 L155,231.46 L156,231.98 L157,232.5 L158,233.05 L159,233.61 L160,234.18 L161,234.77 L162,235.37 L163,235.98 L164,236.59 L165,237.21 L166,237.83 L167,238.45 L168,239.05 L169,239.66 L170,240.24 L171,240.8 L172,241.35 L173,241.87 L174,242.37 L175,242.84 L176,243.32 L177,243.76 L178,244.21 L179,244.64 L180,245.08 L181,245.54 L182,245.99 L183,246.48 L184,246.99 L185,247.52 L186,248.07 L187,248.63 L188,249.2 L189,249.78 L190,250.37 L191,250.96 L192,251.55 L193,252.14" fill="none" stroke="#8a8a8a" stroke-width="0.7" />
<path d="M27,173.89 L28,175.18 L29,176.48 L30,177.73 L31,178.88 L32,179.84 L33,180.61 L34,181.21 L35,181.54 L36,181.63 L37,181.61 L38,181.44 L39,181.25 L40,181.03 L41,180.79 L42,180.55 L43,180.33 L44,180.13 L45,180 L46,179.93 L47,180.03 L48,180.36 L49,181.05 L50,182.66 L51,185.8 L52,189.58 L53,194.21 L54,198.81 L55,202.76 L56,205.65 L57,207.7 L58,209.29 L59,210.45 L60,211.28 L61,211.88 L62,212.38 L63,212.83 L64,213.18 L65,213.54 L66,213.8 L67,214.07 L68,214.29 L69,214.49 L70,214.68 L71,214.83 L72,214.98 L73,215.11 L74,215.23 L75,215.34 L76,215.43 L77,215.51 L78,215.55 L79,215.56 L80,215.53 L81,215.46 L82,215.35 L83,215.22 L84,215.06 L85,214.89 L86,214.71 L87,214.54 L88,214.39 L89,214.25 L90,214.12 L91,213.99 L92,213.86 L93,213.72 L94,213.58 L95,213.43 L96,213.27 L97,213.11 L98,212.95 L99,212.79 L100,212.63 L101,212.47 L102,212.32 L103,212.16 L104,212 L105,211.82 L106,211.63 L107,211.41 L108,211.19 L109,210.97 L110,210.81 L111,210.67 L112,210.59 L113,210.58 L114,210.62 L115,210.71 L116,210.85 L117,211.01 L118,211.22 L119,211.42 L120,211.67 L121,211.93 L122,212.21 L123,212.51 L124,212.81 L125,213.16 L126,213.5 L127,213.87 L128,214.27 L129,214.67 L130,215.14 L131,215.62 L132,216.18 L133,216.76 L134,217.39 L135,218.02 L136,218.67 L137,219.31 L138,219.95 L139,220.55 L140,221.13 L141,221.7 L142,222.24 L143,222.78 L144,223.3 L145,223.82 L146,224.34 L147,224.86 L148,225.37 L149,225.88 L150,226.4 L151,226.92 L152,227.44 L153,227.97 L154,228.5 L155,229.04 L156,229.6 L157,230.16 L158,230.74 L159,231.34 L160,231.94 L161,232.58 L162,233.22 L163,233.87 L164,234.53 L165,235.19 L166,235.84 L167,236.5 L168,237.15 L169,237.79 L170,238.4 L171,239 L172,239.58 L173,240.12 L174,240.65 L175,241.14 L176,241.63 L177,242.09 L178,242.55 L179,243 L180,243.45 L181,243.92 L182,244.39 L183,244.9 L184,245.43 L185,245.98 L186,246.56 L187,247.14 L188,247.75 L189,248.35 L190,248.97 L191,249.59 L192,250.22 L193,250.83" fill="none" stroke="#909090" stroke-width="0.7" />
<path d="M27,176.9 L28,178.16 L29,179.44 L30,180.67 L31,181.79 L32,182.75 L33,183.57 L34,184.23 L35,184.67 L36,184.91 L37,185.05 L38,185.05 L39,185 L40,184.89 L41,184.77 L42,184.64 L43,184.51 L44,184.39 L45,184.32 L46,184.29 L47,184.38 L48,184.57 L49,185.06 L50,186.42 L51,189.11 L52,192.6 L53,196.97 L54,201.35 L55,205.12 L56,207.87 L57,209.82 L58,211.33 L59,212.41 L60,213.19 L61,213.76 L62,214.25 L63,214.7 L64,215.04 L65,215.38 L66,215.61 L67,215.84 L68,216.03 L69,216.19 L70,216.35 L71,216.45 L72,216.56 L73,216.65 L74,216.71 L75,216.77 L76,216.78 L77,216.8 L78,216.76 L79,216.69 L80,216.57 L81,216.4 L82,216.2 L83,215.95 L84,215.69 L85,215.41 L86,215.13 L87,214.84 L88,214.59 L89,214.35 L90,214.12 L91,213.9 L92,213.68 L93,213.46 L94,213.24 L95,213.01 L96,212.79 L97,212.57 L98,212.34 L99,212.12 L100,211.9 L101,211.67 L102,211.45 L103,211.23 L104,211 L105,210.74 L106,210.46 L107,210.15 L108,209.83 L109,209.52 L110,209.25 L111,209.02 L112,208.88 L113,208.79 L114,208.78 L115,208.83 L116,208.94 L117,209.07 L118,209.26 L119,209.45 L120,209.7 L121,209.95 L122,210.22 L123,210.52 L124,210.82 L125,211.17 L126,211.52 L127,211.89 L128,212.28 L129,212.69 L130,213.16 L131,213.65 L132,214.21 L133,214.8 L134,215.44 L135,216.09 L136,216.76 L137,217.42 L138,218.08 L139,218.72 L140,219.34 L141,219.95 L142,220.53 L143,221.12 L144,221.69 L145,222.27 L146,222.84 L147,223.42 L148,223.99 L149,224.56 L150,225.14 L151,225.72 L152,226.29 L153,226.88 L154,227.46 L155,228.05 L156,228.66 L157,229.26 L158,229.88 L159,230.51 L160,231.15 L161,231.81 L162,232.48 L163,233.15 L164,233.83 L165,234.51 L166,235.18 L167,235.85 L168,236.5 L169,237.15 L170,237.78 L171,238.38 L172,238.96 L173,239.5 L174,240.02 L175,240.5 L176,240.98 L177,241.43 L178,241.87 L179,242.31 L180,242.74 L181,243.19 L182,243.65 L183,244.15 L184,244.67 L185,245.23 L186,245.8 L187,246.39 L188,247 L189,247.61 L190,248.24 L191,248.87 L192,249.5 L193,250.12" fill="none" stroke="#7ad0a0" stroke-width="0.6" />
<path d="M27,178.1 L28,179.31 L29,180.56 L30,181.77 L31,182.86 L32,183.81 L33,184.62 L34,185.26 L35,185.69 L36,185.95 L37,186.09 L38,186.13 L39,186.12 L40,186.06 L41,185.99 L42,185.9 L43,185.82 L44,185.76 L45,185.73 L46,185.77 L47,185.91 L48,186.12 L49,186.75 L50,188.42 L51,191.19 L52,194.69 L53,198.82 L54,202.89 L55,206.41 L56,209.05 L57,210.94 L58,212.4 L59,213.45 L60,214.19 L61,214.73 L62,215.18 L63,215.6 L64,215.91 L65,216.23 L66,216.44 L67,216.64 L68,216.81 L69,216.95 L70,217.08 L71,217.17 L72,217.26 L73,217.33 L74,217.37 L75,217.41 L76,217.41 L77,217.4 L78,217.35 L79,217.26 L80,217.12 L81,216.94 L82,216.71 L83,216.45 L84,216.17 L85,215.88 L86,215.59 L87,215.31 L88,215.06 L89,214.82 L90,214.61 L91,214.41 L92,214.21 L93,214.02 L94,213.83 L95,213.64 L96,213.45 L97,213.26 L98,213.08 L99,212.89 L100,212.7 L101,212.51 L102,212.32 L103,212.12 L104,211.9 L105,211.65 L106,211.38 L107,211.06 L108,210.74 L109,210.41 L110,210.14 L111,209.9 L112,209.74 L113,209.66 L114,209.65 L115,209.71 L116,209.84 L117,209.99 L118,210.21 L119,210.42 L120,210.69 L121,210.97 L122,211.27 L123,211.6 L124,211.93 L125,212.29 L126,212.67 L127,213.06 L128,213.47 L129,213.9 L130,214.37 L131,214.86 L132,215.42 L133,216 L134,216.63 L135,217.27 L136,217.93 L137,218.59 L138,219.25 L139,219.89 L140,220.51 L141,221.13 L142,221.73 L143,222.33 L144,222.93 L145,223.53 L146,224.12 L147,224.72 L148,225.32 L149,225.92 L150,226.52 L151,227.12 L152,227.72 L153,228.33 L154,228.93 L155,229.54 L156,230.15 L157,230.76 L158,231.38 L159,232.01 L160,232.64 L161,233.28 L162,233.93 L163,234.59 L164,235.24 L165,235.89 L166,236.54 L167,237.18 L168,237.81 L169,238.43 L170,239.02 L171,239.6 L172,240.15 L173,240.66 L174,241.16 L175,241.61 L176,242.06 L177,242.48 L178,242.89 L179,243.29 L180,243.7 L181,244.12 L182,244.55 L183,245.02 L184,245.51 L185,246.04 L186,246.59 L187,247.16 L188,247.74 L189,248.33 L190,248.93 L191,249.54 L192,250.15 L193,250.75" fill="none" stroke="#7ad0a0" stroke-width="0.6" />
<path d="M27,179.3 L28,180.47 L29,181.69 L30,182.87 L31,183.93 L32,184.86 L33,185.68 L34,186.28 L35,186.72 L36,186.99 L37,187.14 L38,187.22 L39,187.24 L40,187.23 L41,187.21 L42,187.17 L43,187.13 L44,187.13 L45,187.14 L46,187.25 L47,187.43 L48,187.67 L49,188.43 L50,190.41 L51,193.27 L52,196.78 L53,200.66 L54,204.43 L55,207.71 L56,210.23 L57,212.05 L58,213.48 L59,214.49 L60,215.19 L61,215.69 L62,216.11 L63,216.5 L64,216.79 L65,217.08 L66,217.26 L67,217.45 L68,217.59 L69,217.71 L70,217.82 L71,217.89 L72,217.96 L73,218 L74,218.03 L75,218.05 L76,218.03 L77,218.01 L78,217.94 L79,217.83 L80,217.68 L81,217.47 L82,217.23 L83,216.95 L84,216.66 L85,216.35 L86,216.06 L87,215.77 L88,215.53 L89,215.29 L90,215.1 L91,214.92 L92,214.74 L93,214.58 L94,214.42 L95,214.27 L96,214.12 L97,213.96 L98,213.81 L99,213.66 L100,213.5 L101,213.35 L102,213.18 L103,213 L104,212.8 L105,212.57 L106,212.29 L107,211.97 L108,211.64 L109,211.3 L110,211.02 L111,210.77 L112,210.61 L113,210.53 L114,210.53 L115,210.6 L116,210.74 L117,210.91 L118,211.15 L119,211.39 L120,211.68 L121,211.99 L122,212.32 L123,212.67 L124,213.03 L125,213.42 L126,213.82 L127,214.23 L128,214.66 L129,215.1 L130,215.58 L131,216.07 L132,216.63 L133,217.2 L134,217.82 L135,218.45 L136,219.11 L137,219.76 L138,220.41 L139,221.05 L140,221.68 L141,222.31 L142,222.93 L143,223.54 L144,224.16 L145,224.78 L146,225.4 L147,226.03 L148,226.65 L149,227.28 L150,227.9 L151,228.53 L152,229.15 L153,229.77 L154,230.39 L155,231.02 L156,231.63 L157,232.25 L158,232.87 L159,233.5 L160,234.12 L161,234.76 L162,235.39 L163,236.02 L164,236.65 L165,237.28 L166,237.9 L167,238.52 L168,239.11 L169,239.7 L170,240.27 L171,240.82 L172,241.34 L173,241.83 L174,242.3 L175,242.72 L176,243.14 L177,243.53 L178,243.91 L179,244.28 L180,244.65 L181,245.04 L182,245.45 L183,245.89 L184,246.35 L185,246.85 L186,247.38 L187,247.92 L188,248.48 L189,249.05 L190,249.63 L191,250.21 L192,250.8 L193,251.38" fill="none" stroke="#7ad0a0" stroke-width="0.6" />
<path d="M27,156.7 L28,157.88 L29,159.12 L30,160.3 L31,161.35 L32,162.12 L33,162.51 L34,162.32 L35,161.53 L36,160.32 L37,158.91 L38,157.5 L39,156.32 L40,155.39 L41,154.54 L42,153.75 L43,153.07 L44,152.58 L45,152.41 L46,152.59 L47,153.23 L48,155.14 L49,158.99 L50,165.78 L51,174.13 L52,180.73 L53,185.45 L54,189.33 L55,192.72 L56,195.65 L57,198.12 L58,200.13 L59,201.61 L60,202.57 L61,203.13 L62,203.45 L63,203.65 L64,203.84 L65,204.14 L66,204.49 L67,204.88 L68,205.22 L69,205.55 L70,205.87 L71,206.21 L72,206.58 L73,206.97 L74,207.42 L75,207.9 L76,208.46 L77,209.03 L78,209.63 L79,210.26 L80,210.9 L81,211.58 L82,212.26 L83,212.98 L84,213.71 L85,214.47 L86,215.25 L87,216.07 L88,216.93 L89,217.83 L90,218.76 L91,219.69 L92,220.63 L93,221.56 L94,222.46 L95,223.33 L96,224.17 L97,224.97 L98,225.76 L99,226.52 L100,227.28 L101,228.01 L102,228.73 L103,229.43 L104,230.11 L105,230.78 L106,231.43 L107,232.07 L108,232.71 L109,233.33 L110,233.95 L111,234.57 L112,235.18 L113,235.78 L114,236.38 L115,236.98 L116,237.57 L117,238.17 L118,238.76 L119,239.34 L120,239.92 L121,240.5 L122,241.07 L123,241.64 L124,242.2 L125,242.76 L126,243.31 L127,243.84 L128,244.37 L129,244.9 L130,245.4 L131,245.9 L132,246.37 L133,246.84 L134,247.27 L135,247.68 L136,248.04 L137,248.38 L138,248.7 L139,249 L140,249.3 L141,249.58 L142,249.83 L143,250.09 L144,250.32 L145,250.53 L146,250.75 L147,250.94 L148,251.14 L149,251.33 L150,251.52 L151,251.71 L152,251.9 L153,252.09 L154,252.28 L155,252.48 L156,252.7 L157,252.91 L158,253.14 L159,253.37 L160,253.61 L161,253.85 L162,254.08 L163,254.33 L164,254.58 L165,254.84 L166,255.1 L167,255.37 L168,255.64 L169,255.92 L170,256.21 L171,256.5 L172,256.79 L173,257.1 L174,257.4 L175,257.7 L176,258.02 L177,258.34 L178,258.65 L179,258.97 L180,259.29 L181,259.61 L182,259.93 L183,260.25 L184,260.58 L185,260.9 L186,261.23 L187,261.55 L188,261.88 L189,262.2 L190,262.53 L191,262.85 L192,263.18 L193,263.5" fill="none" stroke="#ec1c2a" stroke-width="1.2" />
<path d="M27,175.7 L28,177 L29,178.31 L30,179.57 L31,180.72 L32,181.7 L33,182.51 L34,183.2 L35,183.64 L36,183.88 L37,184 L38,183.96 L39,183.88 L40,183.73 L41,183.56 L42,183.37 L43,183.2 L44,183.03 L45,182.9 L46,182.8 L47,182.85 L48,183.01 L49,183.37 L50,184.43 L51,187.03 L52,190.52 L53,195.13 L54,199.81 L55,203.82 L56,206.7 L57,208.71 L58,210.25 L59,211.38 L60,212.2 L61,212.8 L62,213.32 L63,213.8 L64,214.16 L65,214.53 L66,214.78 L67,215.04 L68,215.25 L69,215.43 L70,215.61 L71,215.74 L72,215.86 L73,215.97 L74,216.05 L75,216.13 L76,216.16 L77,216.19 L78,216.17 L79,216.12 L80,216.02 L81,215.87 L82,215.68 L83,215.45 L84,215.2 L85,214.93 L86,214.66 L87,214.38 L88,214.13 L89,213.88 L90,213.63 L91,213.39 L92,213.15 L93,212.9 L94,212.64 L95,212.39 L96,212.13 L97,211.87 L98,211.61 L99,211.35 L100,211.09 L101,210.84 L102,210.59 L103,210.35 L104,210.09 L105,209.83 L106,209.54 L107,209.23 L108,208.93 L109,208.62 L110,208.37 L111,208.15 L112,208.01 L113,207.92 L114,207.91 L115,207.95 L116,208.04 L117,208.15 L118,208.32 L119,208.48 L120,208.7 L121,208.92 L122,209.17 L123,209.45 L124,209.72 L125,210.04 L126,210.37 L127,210.72 L128,211.1 L129,211.49 L130,211.96 L131,212.44 L132,213.01 L133,213.6 L134,214.24 L135,214.9 L136,215.58 L137,216.25 L138,216.92 L139,217.56 L140,218.17 L141,218.77 L142,219.34 L143,219.9 L144,220.46 L145,221.01 L146,221.56 L147,222.11 L148,222.66 L149,223.21 L150,223.76 L151,224.31 L152,224.86 L153,225.43 L154,226 L155,226.57 L156,227.17 L157,227.76 L158,228.38 L159,229.02 L160,229.66 L161,230.34 L162,231.02 L163,231.72 L164,232.42 L165,233.12 L166,233.82 L167,234.52 L168,235.2 L169,235.88 L170,236.53 L171,237.16 L172,237.77 L173,238.33 L174,238.89 L175,239.39 L176,239.9 L177,240.38 L178,240.85 L179,241.32 L180,241.79 L181,242.27 L182,242.76 L183,243.28 L184,243.83 L185,244.41 L186,245.01 L187,245.63 L188,246.26 L189,246.9 L190,247.55 L191,248.2 L192,248.86 L193,249.5" fill="none" stroke="#2848c8" stroke-width="1.2" />
<path d="M27,180.5 L28,181.62 L29,182.81 L30,183.97 L31,185 L32,185.91 L33,186.73 L34,187.31 L35,187.74 L36,188.02 L37,188.19 L38,188.3 L39,188.37 L40,188.4 L41,188.42 L42,188.43 L43,188.45 L44,188.49 L45,188.56 L46,188.73 L47,188.96 L48,189.22 L49,190.12 L50,192.4 L51,195.35 L52,198.86 L53,202.5 L54,205.97 L55,209.01 L56,211.4 L57,213.17 L58,214.56 L59,215.53 L60,216.18 L61,216.65 L62,217.04 L63,217.4 L64,217.66 L65,217.93 L66,218.09 L67,218.25 L68,218.37 L69,218.47 L70,218.56 L71,218.61 L72,218.66 L73,218.68 L74,218.69 L75,218.69 L76,218.66 L77,218.62 L78,218.53 L79,218.4 L80,218.23 L81,218 L82,217.74 L83,217.45 L84,217.14 L85,216.82 L86,216.53 L87,216.23 L88,215.99 L89,215.77 L90,215.59 L91,215.43 L92,215.28 L93,215.14 L94,215.01 L95,214.9 L96,214.78 L97,214.66 L98,214.55 L99,214.43 L100,214.31 L101,214.18 L102,214.04 L103,213.89 L104,213.71 L105,213.48 L106,213.21 L107,212.89 L108,212.55 L109,212.2 L110,211.9 L111,211.64 L112,211.48 L113,211.39 L114,211.4 L115,211.48 L116,211.64 L117,211.83 L118,212.09 L119,212.35 L120,212.68 L121,213.01 L122,213.36 L123,213.75 L124,214.13 L125,214.55 L126,214.97 L127,215.4 L128,215.84 L129,216.3 L130,216.79 L131,217.28 L132,217.84 L133,218.41 L134,219.02 L135,219.64 L136,220.28 L137,220.93 L138,221.58 L139,222.22 L140,222.86 L141,223.49 L142,224.12 L143,224.75 L144,225.4 L145,226.04 L146,226.69 L147,227.33 L148,227.98 L149,228.63 L150,229.28 L151,229.93 L152,230.58 L153,231.22 L154,231.86 L155,232.5 L156,233.12 L157,233.75 L158,234.37 L159,234.99 L160,235.61 L161,236.23 L162,236.84 L163,237.46 L164,238.06 L165,238.67 L166,239.26 L167,239.85 L168,240.42 L169,240.98 L170,241.52 L171,242.04 L172,242.54 L173,242.99 L174,243.44 L175,243.83 L176,244.22 L177,244.58 L178,244.93 L179,245.27 L180,245.61 L181,245.97 L182,246.34 L183,246.75 L184,247.19 L185,247.67 L186,248.17 L187,248.68 L188,249.22 L189,249.76 L190,250.32 L191,250.88 L192,251.45 L193,252" fill="none" stroke="#20b830" stroke-width="1.2" />
<rect x="107.9" y="200" width="1.6" height="60" fill="#fff"/>
<rect x="136.3" y="200" width="1.6" height="60" fill="#fff"/>
</g>
<rect x="26.5" y="144.4" width="166.9" height="122.9" fill="none" stroke="#111" stroke-width="1.25"/>
<line x1="38.5" y1="267.3" x2="38.5" y2="269.5" stroke="#111" stroke-width="0.9" />
<line x1="77.22" y1="267.3" x2="77.22" y2="269.5" stroke="#111" stroke-width="0.9" />
<line x1="115.94" y1="267.3" x2="115.94" y2="269.5" stroke="#111" stroke-width="0.9" />
<line x1="154.66" y1="267.3" x2="154.66" y2="269.5" stroke="#111" stroke-width="0.9" />
<line x1="193.38" y1="267.3" x2="193.38" y2="269.5" stroke="#111" stroke-width="0.9" />
<line x1="57.86" y1="267.3" x2="57.86" y2="268.6" stroke="#111" stroke-width="0.8" />
<line x1="96.58" y1="267.3" x2="96.58" y2="268.6" stroke="#111" stroke-width="0.8" />
<line x1="135.3" y1="267.3" x2="135.3" y2="268.6" stroke="#111" stroke-width="0.8" />
<line x1="174.02" y1="267.3" x2="174.02" y2="268.6" stroke="#111" stroke-width="0.8" />
<line x1="24.3" y1="244.9" x2="26.5" y2="244.9" stroke="#111" stroke-width="0.9" />
<line x1="24.3" y1="213.9" x2="26.5" y2="213.9" stroke="#111" stroke-width="0.9" />
<line x1="24.3" y1="182.9" x2="26.5" y2="182.9" stroke="#111" stroke-width="0.9" />
<line x1="24.3" y1="151.9" x2="26.5" y2="151.9" stroke="#111" stroke-width="0.9" />
<line x1="25.2" y1="229.4" x2="26.5" y2="229.4" stroke="#111" stroke-width="0.8" />
<line x1="25.2" y1="198.4" x2="26.5" y2="198.4" stroke="#111" stroke-width="0.8" />
<line x1="25.2" y1="167.4" x2="26.5" y2="167.4" stroke="#111" stroke-width="0.8" />
<text x="38.5" y="278.2" font-size="8.3" text-anchor="middle" font-weight="normal" fill="#111" stroke="#111" stroke-width="0.22" >400</text>
<text x="77.22" y="278.2" font-size="8.3" text-anchor="middle" font-weight="normal" fill="#111" stroke="#111" stroke-width="0.22" >500</text>
<text x="115.94" y="278.2" font-size="8.3" text-anchor="middle" font-weight="normal" fill="#111" stroke="#111" stroke-width="0.22" >600</text>
<text x="154.66" y="278.2" font-size="8.3" text-anchor="middle" font-weight="normal" fill="#111" stroke="#111" stroke-width="0.22" >700</text>
<text x="193.38" y="278.2" font-size="8.3" text-anchor="middle" font-weight="normal" fill="#111" stroke="#111" stroke-width="0.22" >800</text>
<text x="20.8" y="247.8" font-size="8.2" text-anchor="end" font-weight="normal" fill="#111" stroke="#111" stroke-width="0.22" >0.2</text>
<text x="20.8" y="216.8" font-size="8.2" text-anchor="end" font-weight="normal" fill="#111" stroke="#111" stroke-width="0.22" >0.4</text>
<text x="20.8" y="185.8" font-size="8.2" text-anchor="end" font-weight="normal" fill="#111" stroke="#111" stroke-width="0.22" >0.6</text>
<text x="20.8" y="154.8" font-size="8.2" text-anchor="end" font-weight="normal" fill="#111" stroke="#111" stroke-width="0.22" >0.8</text>
<text x="125.9" y="285.4" font-size="8.3" text-anchor="start" font-weight="normal" fill="#111" stroke="#111" stroke-width="0.22" >&#955; / nm</text>
<text transform="translate(8.3,203.6) rotate(-90)" font-size="7.9" text-anchor="middle" fill="#222" stroke="#222" stroke-width="0.22">absorPtion</text>
<text x="5.3" y="143.4" font-size="11.5" text-anchor="start" font-weight="bold" fill="#000" stroke="#000" stroke-width="0.22" >B</text>
<text x="49.2" y="160.3" font-size="11.5" text-anchor="start" font-weight="normal" fill="#e8202a" stroke="#e8202a" stroke-width="0.6" >1</text>
<text x="55" y="154" font-size="7" text-anchor="start" font-weight="bold" fill="#e8202a" stroke="#e8202a" stroke-width="0.22" >2+</text>
<text x="91.7" y="158.4" font-size="10.3" fill="#111" stroke="#111" stroke-width="0.22"><tspan font-style="italic">T</tspan> = -40 °C</text>
<line x1="156.2" y1="156.7" x2="168" y2="156.7" stroke="#ec1c2a" stroke-width="1" />
<text x="171.7" y="158.8" font-size="6.2" text-anchor="start" font-weight="normal" fill="#111" stroke="#111" stroke-width="0.22" >0 min</text>
<line x1="156.2" y1="168" x2="168" y2="168" stroke="#2848c8" stroke-width="1" />
<text x="171.7" y="170.1" font-size="6.2" text-anchor="start" font-weight="normal" fill="#111" stroke="#111" stroke-width="0.22" >12 h</text>
<line x1="156.2" y1="179.3" x2="168" y2="179.3" stroke="#20b830" stroke-width="1" />
<text x="171.7" y="181.4" font-size="6.2" text-anchor="start" font-weight="normal" fill="#111" stroke="#111" stroke-width="0.22" >72 h</text>
<line x1="34.5" y1="200" x2="46.4" y2="200" stroke="#ec1c2a" stroke-width="1.1" />
<line x1="37.4" y1="200" x2="37.4" y2="222" stroke="#333" stroke-width="0.9" />
<path d="M35.6,220.5 L37.4,225 L39.2,220.5 Z" fill="#333"/>
<line x1="34.5" y1="226.2" x2="46.4" y2="226.2" stroke="#2848c8" stroke-width="1.1" />
<line x1="44" y1="227" x2="44" y2="236.5" stroke="#20c030" stroke-width="0.9" />
<path d="M42.4,235 L44,239 L45.6,235 Z" fill="#20c030"/>
<line x1="38.8" y1="240" x2="50.7" y2="240" stroke="#20b830" stroke-width="1.1" />
<line x1="114.5" y1="175.7" x2="126.4" y2="175.7" stroke="#2848c8" stroke-width="1.1" />
<line x1="115.7" y1="203" x2="115.7" y2="180" stroke="#333" stroke-width="0.9" />
<path d="M113.9,181.5 L115.7,177 L117.5,181.5 Z" fill="#333"/>
<line x1="114.5" y1="203" x2="127" y2="203" stroke="#ec1c2a" stroke-width="1.1" />
<line x1="124.5" y1="176.5" x2="124.5" y2="185" stroke="#20c030" stroke-width="0.9" />
<path d="M122.9,183.5 L124.5,187.5 L126.1,183.5 Z" fill="#20c030"/>
<line x1="123.6" y1="188.8" x2="135.5" y2="188.8" stroke="#20b830" stroke-width="1.1" />
<clipPath id="clipC"><rect x="26.5" y="292.1" width="166.7" height="123.4"/></clipPath>
<g clip-path="url(#clipC)">
<path d="M27,415C30.63,414.88 43.58,414.75 48.8,414.3C54.02,413.85 55.72,413.75 58.3,412.3C60.88,410.85 62.7,407.15 64.3,405.6C65.9,404.05 66.52,402.77 67.9,403C69.28,403.23 70.62,405.83 72.6,407C74.58,408.17 77.42,409.97 79.8,410C82.18,410.03 84.4,408.87 86.9,407.2C89.4,405.53 92.62,402.62 94.8,400C96.98,397.38 98.13,394.75 100,391.5C101.87,388.25 103.98,384.75 106,380.5C108.02,376.25 110.53,370 112.1,366C113.67,362 113.8,361.17 115.4,356.5C117,351.83 119.32,343 121.7,338C124.08,333 127.05,329.18 129.7,326.5C132.35,323.82 135.05,323.02 137.6,321.9C140.15,320.78 142.93,320.37 145,319.8C147.07,319.23 148.17,319.22 150,318.5C151.83,317.78 153.67,316.83 156,315.5C158.33,314.17 161.33,311.83 164,310.5C166.67,309.17 169.33,308.22 172,307.5C174.67,306.78 176.5,306.03 180,306.2C183.5,306.37 190.83,308.12 193,308.5" fill="none" stroke="#2850d0" stroke-width="1.1" />
<path d="M27,415C30.63,414.88 43.58,414.75 48.8,414.3C54.02,413.85 55.72,413.62 58.3,412.3C60.88,410.98 62.7,407.73 64.3,406.4C65.9,405.07 66.52,404.1 67.9,404.3C69.28,404.5 70.62,406.65 72.6,407.6C74.58,408.55 77.42,410.07 79.8,410C82.18,409.93 84.4,408.87 86.9,407.2C89.4,405.53 92.62,402.53 94.8,400C96.98,397.47 98.13,395.1 100,392C101.87,388.9 103.98,385.57 106,381.4C108.02,377.23 110.53,370.97 112.1,367C113.67,363.03 113.8,362.33 115.4,357.6C117,352.87 119.32,343.88 121.7,338.6C124.08,333.32 127.05,329.22 129.7,325.9C132.35,322.58 134.22,320.92 137.6,318.7C140.98,316.48 145.12,314.3 150,312.6C154.88,310.9 162.1,309.57 166.9,308.5C171.7,307.43 175.62,306.45 178.8,306.2C181.98,305.95 183.63,306.53 186,307C188.37,307.47 191.83,308.67 193,309" fill="none" stroke="#1a1a3a" stroke-width="1.1" />
<path d="M27,415.3C30.63,415.22 43.58,415.18 48.8,414.8C54.02,414.42 55.72,414.22 58.3,413C60.88,411.78 62.7,408.78 64.3,407.5C65.9,406.22 66.52,405.22 67.9,405.3C69.28,405.38 70.62,407.22 72.6,408C74.58,408.78 77.42,410.07 79.8,410C82.18,409.93 84.4,409.1 86.9,407.6C89.4,406.1 92.62,403.35 94.8,401C96.98,398.65 98.13,396.5 100,393.5C101.87,390.5 103.98,387.08 106,383C108.02,378.92 110.53,372.92 112.1,369C113.67,365.08 113.8,364.33 115.4,359.5C117,354.67 119.32,345.58 121.7,340C124.08,334.42 127.05,330 129.7,326C132.35,322 135.05,318.33 137.6,316C140.15,313.67 142.93,312.83 145,312C147.07,311.17 147.83,311.58 150,311C152.17,310.42 155.18,309.17 158,308.5C160.82,307.83 163.9,307.5 166.9,307C169.9,306.5 172.82,305.58 176,305.5C179.18,305.42 183.17,305.92 186,306.5C188.83,307.08 191.83,308.58 193,309" fill="none" stroke="#ec1c2a" stroke-width="1.1" />
<path d="M27,415C30.63,414.88 43.58,414.75 48.8,414.3C54.02,413.85 55.72,413.62 58.3,412.3C60.88,410.98 62.7,407.73 64.3,406.4C65.9,405.07 66.52,404.1 67.9,404.3C69.28,404.5 70.62,406.65 72.6,407.6C74.58,408.55 77.42,410.07 79.8,410C82.18,409.93 84.4,408.87 86.9,407.2C89.4,405.53 92.62,402.53 94.8,400C96.98,397.47 98.13,395.1 100,392C101.87,388.9 103.98,385.57 106,381.4C108.02,377.23 110.53,370.97 112.1,367C113.67,363.03 113.8,362.33 115.4,357.6C117,352.87 119.32,343.88 121.7,338.6C124.08,333.32 127.05,329.22 129.7,325.9C132.35,322.58 134.22,320.92 137.6,318.7C140.98,316.48 145.12,314.3 150,312.6C154.88,310.9 162.1,309.57 166.9,308.5C171.7,307.43 175.62,306.45 178.8,306.2C181.98,305.95 183.63,306.53 186,307C188.37,307.47 191.83,308.67 193,309" fill="none" stroke="#28d828" stroke-width="1.2" />
</g>
<rect x="26.5" y="292.1" width="166.7" height="123.4" fill="none" stroke="#111" stroke-width="1.25"/>
<line x1="50.5" y1="415.5" x2="50.5" y2="417.7" stroke="#111" stroke-width="0.9" />
<line x1="98.1" y1="415.5" x2="98.1" y2="417.7" stroke="#111" stroke-width="0.9" />
<line x1="145.7" y1="415.5" x2="145.7" y2="417.7" stroke="#111" stroke-width="0.9" />
<line x1="193.3" y1="415.5" x2="193.3" y2="417.7" stroke="#111" stroke-width="0.9" />
<line x1="26.7" y1="415.5" x2="26.7" y2="416.8" stroke="#111" stroke-width="0.8" />
<line x1="74.3" y1="415.5" x2="74.3" y2="416.8" stroke="#111" stroke-width="0.8" />
<line x1="121.9" y1="415.5" x2="121.9" y2="416.8" stroke="#111" stroke-width="0.8" />
<line x1="169.5" y1="415.5" x2="169.5" y2="416.8" stroke="#111" stroke-width="0.8" />
<line x1="24.3" y1="415.5" x2="26.5" y2="415.5" stroke="#111" stroke-width="0.9" />
<line x1="24.3" y1="397.96" x2="26.5" y2="397.96" stroke="#111" stroke-width="0.9" />
<line x1="24.3" y1="380.42" x2="26.5" y2="380.42" stroke="#111" stroke-width="0.9" />
<line x1="24.3" y1="362.88" x2="26.5" y2="362.88" stroke="#111" stroke-width="0.9" />
<line x1="24.3" y1="345.34" x2="26.5" y2="345.34" stroke="#111" stroke-width="0.9" />
<line x1="24.3" y1="327.8" x2="26.5" y2="327.8" stroke="#111" stroke-width="0.9" />
<line x1="24.3" y1="310.26" x2="26.5" y2="310.26" stroke="#111" stroke-width="0.9" />
<line x1="24.3" y1="292.72" x2="26.5" y2="292.72" stroke="#111" stroke-width="0.9" />
<line x1="25.2" y1="406.73" x2="26.5" y2="406.73" stroke="#111" stroke-width="0.8" />
<line x1="25.2" y1="389.19" x2="26.5" y2="389.19" stroke="#111" stroke-width="0.8" />
<line x1="25.2" y1="371.65" x2="26.5" y2="371.65" stroke="#111" stroke-width="0.8" />
<line x1="25.2" y1="354.11" x2="26.5" y2="354.11" stroke="#111" stroke-width="0.8" />
<line x1="25.2" y1="336.57" x2="26.5" y2="336.57" stroke="#111" stroke-width="0.8" />
<line x1="25.2" y1="319.03" x2="26.5" y2="319.03" stroke="#111" stroke-width="0.8" />
<line x1="25.2" y1="301.49" x2="26.5" y2="301.49" stroke="#111" stroke-width="0.8" />
<text x="50.5" y="426" font-size="8.2" text-anchor="middle" font-weight="normal" fill="#111" stroke="#111" stroke-width="0.22" >7110</text>
<text x="98.1" y="426" font-size="8.2" text-anchor="middle" font-weight="normal" fill="#111" stroke="#111" stroke-width="0.22" >7120</text>
<text x="145.7" y="426" font-size="8.2" text-anchor="middle" font-weight="normal" fill="#111" stroke="#111" stroke-width="0.22" >7130</text>
<text x="193.3" y="426" font-size="8.2" text-anchor="middle" font-weight="normal" fill="#111" stroke="#111" stroke-width="0.22" >7140</text>
<text x="22.2" y="418.4" font-size="8.2" text-anchor="end" font-weight="normal" fill="#111" stroke="#111" stroke-width="0.22" >0.0</text>
<text x="22.2" y="400.86" font-size="8.2" text-anchor="end" font-weight="normal" fill="#111" stroke="#111" stroke-width="0.22" >0.2</text>
<text x="22.2" y="383.32" font-size="8.2" text-anchor="end" font-weight="normal" fill="#111" stroke="#111" stroke-width="0.22" >0.4</text>
<text x="22.2" y="365.78" font-size="8.2" text-anchor="end" font-weight="normal" fill="#111" stroke="#111" stroke-width="0.22" >0.6</text>
<text x="22.2" y="348.24" font-size="8.2" text-anchor="end" font-weight="normal" fill="#111" stroke="#111" stroke-width="0.22" >0.8</text>
<text x="22.2" y="330.7" font-size="8.2" text-anchor="end" font-weight="normal" fill="#111" stroke="#111" stroke-width="0.22" >1.0</text>
<text x="22.2" y="313.16" font-size="8.2" text-anchor="end" font-weight="normal" fill="#111" stroke="#111" stroke-width="0.22" >1.2</text>
<text x="22.2" y="295.62" font-size="8.2" text-anchor="end" font-weight="normal" fill="#111" stroke="#111" stroke-width="0.22" >1.4</text>
<text x="110.3" y="430.1" font-size="9.6" fill="#222" stroke="#222" stroke-width="0.22"><tspan font-style="italic">E</tspan> / eV</text>
<text transform="translate(8.6,347.8) rotate(-90)" font-size="7.9" text-anchor="middle" fill="#222" stroke="#222" stroke-width="0.22">normalized absorption</text>
<text x="5.3" y="280.6" font-size="11.5" text-anchor="start" font-weight="bold" fill="#000" stroke="#000" stroke-width="0.22" >C</text>
<line x1="40.9" y1="306.9" x2="56.9" y2="306.9" stroke="#2850d0" stroke-width="1" />
<text x="58.7" y="309.7" font-size="8.6" fill="#111" stroke="#111" stroke-width="0.22"><tspan font-weight="bold">1</tspan> in BN</text>
<line x1="40.9" y1="316.5" x2="56.9" y2="316.5" stroke="#1a1a3a" stroke-width="1" />
<text x="58.7" y="319.3" font-size="8.6" fill="#111" stroke="#111" stroke-width="0.22"><tspan font-weight="bold">1</tspan> in DCM</text>
<line x1="40.9" y1="327.6" x2="56.9" y2="327.6" stroke="#ec1c2a" stroke-width="1" />
<text x="58.7" y="330.4" font-size="8.6" fill="#111" stroke="#111" stroke-width="0.22"><tspan font-weight="bold">1</tspan><tspan font-size="5" dy="-3.8">+</tspan><tspan dy="3.8"> in DCM</tspan></text>
<line x1="40.9" y1="339.1" x2="56.9" y2="339.1" stroke="#28d828" stroke-width="1" />
<text x="58.7" y="341.9" font-size="8.6" fill="#111" stroke="#111" stroke-width="0.22"><tspan font-weight="bold">1</tspan><tspan font-size="5" dy="-3.8">2+</tspan><tspan dy="3.8"> in DCM</tspan></text>
<clipPath id="clipD"><rect x="26.5" y="438.6" width="166.7" height="122.9"/></clipPath>
<g clip-path="url(#clipD)">
<path d="M27,539.8C27.85,540.67 30.05,544.22 32.1,545C34.15,545.78 37.32,545.77 39.3,544.5C41.28,543.23 42.42,541.37 44,537.4C45.58,533.43 47.2,524.67 48.8,520.7C50.4,516.73 52.4,517.57 53.6,513.6C54.8,509.63 55.13,506.03 56,496.9C56.87,487.77 57.82,467.53 58.8,458.8C59.78,450.07 60.78,444.9 61.9,444.5C63.02,444.1 64.32,450.65 65.5,456.4C66.68,462.15 67.82,477.8 69,479C70.18,480.2 71.6,467.57 72.6,463.6C73.6,459.63 74.12,453.22 75,455.2C75.88,457.18 76.9,467.55 77.9,475.5C78.9,483.45 79.58,504.88 81,502.9C82.42,500.92 84.93,467.77 86.4,463.6C87.87,459.43 88.72,469.17 89.8,477.9C90.88,486.63 91.8,511.05 92.9,516C94,520.95 95.22,507.22 96.4,507.6C97.58,507.98 98.88,512.35 100,518.3C101.12,524.25 101.83,547.68 103.1,543.3C104.37,538.92 106.02,505.68 107.6,492C109.18,478.32 111.28,466.78 112.6,461.2C113.92,455.62 114.22,457.32 115.5,458.5C116.78,459.68 118.75,462.3 120.3,468.3C121.85,474.3 123.38,484.18 124.8,494.5C126.22,504.82 127.33,520.67 128.8,530.2C130.27,539.73 132.02,551.3 133.6,551.7C135.18,552.1 136.52,536.97 138.3,532.6C140.08,528.23 142.32,525.1 144.3,525.5C146.28,525.9 148.62,530.25 150.2,535C151.78,539.75 152.6,551.22 153.8,554C155,556.78 156.02,551.1 157.4,551.7C158.78,552.3 160.32,558.2 162.1,557.6C163.88,557 165.72,548.7 168.1,548.1C170.48,547.5 174.22,552.42 176.4,554C178.58,555.58 179.42,557.2 181.2,557.6C182.98,558 185.13,556.5 187.1,556.4C189.07,556.3 192.02,556.9 193,557" fill="none" stroke="#111" stroke-width="1.2" />
<path d="M27,538.6C27.67,538.2 29.75,536.2 31,536.2C32.25,536.2 33.12,540.18 34.5,538.6C35.88,537.02 37.72,529.08 39.3,526.7C40.88,524.32 42.02,527.68 44,524.3C45.98,520.92 49.02,511.77 51.2,506.4C53.38,501.03 55.32,491.3 57.1,492.1C58.88,492.9 60.5,505.83 61.9,511.2C63.3,516.57 64.12,527.08 65.5,524.3C66.88,521.52 68.62,502.05 70.2,494.5C71.78,486.95 73.2,478.4 75,479C76.8,479.6 79.22,499.48 81,498.1C82.78,496.72 83.72,467.53 85.7,470.7C87.68,473.87 90.92,513.72 92.9,517.1C94.88,520.48 95.75,488.82 97.6,491C99.45,493.18 101.82,526.95 104,530.2C106.18,533.45 109.2,514.12 110.7,510.5C112.2,506.88 111.45,506.8 113,508.5C114.55,510.2 117.77,515.1 120,520.7C122.23,526.3 123.93,536.15 126.4,542.1C128.87,548.05 132.22,555.6 134.8,556.4C137.38,557.2 139.53,551.07 141.9,546.9C144.27,542.73 146.82,531.8 149,531.4C151.18,531 153,543.1 155,544.5C157,545.9 158.82,539 161,539.8C163.18,540.6 165.13,546.33 168.1,549.3C171.07,552.27 175.63,557.2 178.8,557.6C181.97,558 184.73,552.48 187.1,551.7C189.47,550.92 192.02,552.7 193,552.9" fill="none" stroke="#ec1c2a" stroke-width="1.2" />
<path d="M27,538.6C28.25,538.2 32.05,538.18 34.5,536.2C36.95,534.22 39.32,530.07 41.7,526.7C44.08,523.33 46.35,522.75 48.8,516C51.25,509.25 54.42,488.2 56.4,486.2C58.38,484.2 59.18,493.68 60.7,504C62.22,514.32 63.92,549.68 65.5,548.1C67.08,546.52 68.82,510.18 70.2,494.5C71.58,478.82 72.6,457.97 73.8,454C75,450.03 76.2,463.15 77.4,470.7C78.6,478.25 79.62,497.72 81,499.3C82.38,500.88 83.92,480.2 85.7,480.2C87.48,480.2 89.92,499.5 91.7,499.3C93.48,499.1 94.42,473.85 96.4,479C98.38,484.15 101.58,525.2 103.6,530.2C105.62,535.2 106.93,513.17 108.5,509C110.07,504.83 111.08,503.65 113,505.2C114.92,506.75 117.97,510.95 120,518.3C122.03,525.65 123.93,543.35 125.2,549.3C126.47,555.25 126.2,553.8 127.6,554C129,554.2 131.42,550.3 133.6,550.5C135.78,550.7 138.13,556 140.7,555.2C143.27,554.4 146.62,545.9 149,545.7C151.38,545.5 152.82,552.8 155,554C157.18,555.2 159.32,552.7 162.1,552.9C164.88,553.1 168.52,554.42 171.7,555.2C174.88,555.98 177.65,557.4 181.2,557.6C184.75,557.8 191.03,556.6 193,556.4" fill="none" stroke="#28e028" stroke-width="1.3" />
</g>
<rect x="26.5" y="438.6" width="166.7" height="122.9" fill="none" stroke="#111" stroke-width="1.25"/>
<line x1="26.5" y1="561.5" x2="26.5" y2="563.7" stroke="#111" stroke-width="0.9" />
<line x1="54.25" y1="561.5" x2="54.25" y2="563.7" stroke="#111" stroke-width="0.9" />
<line x1="82" y1="561.5" x2="82" y2="563.7" stroke="#111" stroke-width="0.9" />
<line x1="109.75" y1="561.5" x2="109.75" y2="563.7" stroke="#111" stroke-width="0.9" />
<line x1="137.5" y1="561.5" x2="137.5" y2="563.7" stroke="#111" stroke-width="0.9" />
<line x1="165.25" y1="561.5" x2="165.25" y2="563.7" stroke="#111" stroke-width="0.9" />
<line x1="193" y1="561.5" x2="193" y2="563.7" stroke="#111" stroke-width="0.9" />
<line x1="40.38" y1="561.5" x2="40.38" y2="562.8" stroke="#111" stroke-width="0.8" />
<line x1="68.12" y1="561.5" x2="68.12" y2="562.8" stroke="#111" stroke-width="0.8" />
<line x1="95.88" y1="561.5" x2="95.88" y2="562.8" stroke="#111" stroke-width="0.8" />
<line x1="123.62" y1="561.5" x2="123.62" y2="562.8" stroke="#111" stroke-width="0.8" />
<line x1="151.38" y1="561.5" x2="151.38" y2="562.8" stroke="#111" stroke-width="0.8" />
<line x1="179.12" y1="561.5" x2="179.12" y2="562.8" stroke="#111" stroke-width="0.8" />
<line x1="24.3" y1="561.3" x2="26.5" y2="561.3" stroke="#111" stroke-width="0.9" />
<line x1="24.3" y1="539.04" x2="26.5" y2="539.04" stroke="#111" stroke-width="0.9" />
<line x1="24.3" y1="516.78" x2="26.5" y2="516.78" stroke="#111" stroke-width="0.9" />
<line x1="24.3" y1="494.52" x2="26.5" y2="494.52" stroke="#111" stroke-width="0.9" />
<line x1="24.3" y1="472.26" x2="26.5" y2="472.26" stroke="#111" stroke-width="0.9" />
<line x1="24.3" y1="450" x2="26.5" y2="450" stroke="#111" stroke-width="0.9" />
<line x1="25.2" y1="550.17" x2="26.5" y2="550.17" stroke="#111" stroke-width="0.8" />
<line x1="25.2" y1="527.91" x2="26.5" y2="527.91" stroke="#111" stroke-width="0.8" />
<line x1="25.2" y1="505.65" x2="26.5" y2="505.65" stroke="#111" stroke-width="0.8" />
<line x1="25.2" y1="483.39" x2="26.5" y2="483.39" stroke="#111" stroke-width="0.8" />
<line x1="25.2" y1="461.13" x2="26.5" y2="461.13" stroke="#111" stroke-width="0.8" />
<text x="26.5" y="574.2" font-size="8.5" text-anchor="middle" font-weight="normal" fill="#111" stroke="#111" stroke-width="0.22" >0</text>
<text x="54.25" y="574.2" font-size="8.5" text-anchor="middle" font-weight="normal" fill="#111" stroke="#111" stroke-width="0.22" >1</text>
<text x="82" y="574.2" font-size="8.5" text-anchor="middle" font-weight="normal" fill="#111" stroke="#111" stroke-width="0.22" >2</text>
<text x="109.75" y="574.2" font-size="8.5" text-anchor="middle" font-weight="normal" fill="#111" stroke="#111" stroke-width="0.22" >3</text>
<text x="137.5" y="574.2" font-size="8.5" text-anchor="middle" font-weight="normal" fill="#111" stroke="#111" stroke-width="0.22" >4</text>
<text x="165.25" y="574.2" font-size="8.5" text-anchor="middle" font-weight="normal" fill="#111" stroke="#111" stroke-width="0.22" >5</text>
<text x="193" y="574.2" font-size="8.5" text-anchor="middle" font-weight="normal" fill="#111" stroke="#111" stroke-width="0.22" >6</text>
<text x="23" y="564.2" font-size="8.2" text-anchor="end" font-weight="normal" fill="#111" stroke="#111" stroke-width="0.22" >0.0</text>
<text x="23" y="541.94" font-size="8.2" text-anchor="end" font-weight="normal" fill="#111" stroke="#111" stroke-width="0.22" >0.1</text>
<text x="23" y="519.68" font-size="8.2" text-anchor="end" font-weight="normal" fill="#111" stroke="#111" stroke-width="0.22" >0.2</text>
<text x="23" y="497.42" font-size="8.2" text-anchor="end" font-weight="normal" fill="#111" stroke="#111" stroke-width="0.22" >0.3</text>
<text x="23" y="475.16" font-size="8.2" text-anchor="end" font-weight="normal" fill="#111" stroke="#111" stroke-width="0.22" >0.4</text>
<text x="23" y="452.9" font-size="8.2" text-anchor="end" font-weight="normal" fill="#111" stroke="#111" stroke-width="0.22" >0.5</text>
<text x="111.8" y="579.6" font-size="8.8" fill="#222" stroke="#222" stroke-width="0.22"><tspan font-style="italic">R'</tspan> / &#197;</text>
<text transform="translate(8.2,503.3) rotate(-90)" font-size="7.9" text-anchor="middle" fill="#222" stroke="#222" stroke-width="0.22">FT magnitude</text>
<text x="5.3" y="444" font-size="11.5" text-anchor="start" font-weight="bold" fill="#000" stroke="#000" stroke-width="0.22" >D</text>
<line x1="128.8" y1="451.2" x2="145.5" y2="451.2" stroke="#111" stroke-width="1.1" />
<text x="147.9" y="454" font-size="8.6" fill="#111" stroke="#111" stroke-width="0.22"><tspan font-weight="bold">1</tspan> in DCM</text>
<line x1="128.8" y1="461.7" x2="145.5" y2="461.7" stroke="#ec1c2a" stroke-width="1.1" />
<text x="147.9" y="464.5" font-size="8.6" fill="#111" stroke="#111" stroke-width="0.22"><tspan font-weight="bold">1</tspan><tspan font-size="5" dy="-3.8">+</tspan><tspan dy="3.8"> in DCM</tspan></text>
<line x1="128.8" y1="472.6" x2="145.5" y2="472.6" stroke="#28e028" stroke-width="1.1" />
<text x="147.9" y="475.4" font-size="8.6" fill="#111" stroke="#111" stroke-width="0.22"><tspan font-weight="bold">1</tspan><tspan font-size="5" dy="-3.8">2+</tspan><tspan dy="3.8"> in DCM</tspan></text>
<clipPath id="clipE"><rect x="214.6" y="2.4" width="161" height="561"/></clipPath>
<g clip-path="url(#clipE)">
<path d="M214.6,26C221.33,26.08 246.6,26.17 255,26.5C263.4,26.83 262.1,27.13 265,28C267.9,28.87 270.23,30.17 272.4,31.7C274.57,33.23 276.3,33.82 278,37.2C279.7,40.58 281.07,45.52 282.6,52C284.13,58.48 286.03,68.6 287.2,76.1C288.37,83.6 288.88,91.82 289.6,97C290.32,102.18 290.87,107.2 291.5,107.2C292.13,107.2 292.72,102.2 293.4,97C294.08,91.8 294.62,82.88 295.6,76C296.58,69.12 298.07,60.43 299.3,55.7C300.53,50.97 301.77,48.22 303,47.6C304.23,46.98 305.32,47.27 306.7,52C308.08,56.73 310.17,68.5 311.3,76C312.43,83.5 312.8,91.88 313.5,97C314.2,102.12 314.83,106.7 315.5,106.7C316.17,106.7 316.82,102.12 317.5,97C318.18,91.88 318.47,84.73 319.6,76C320.73,67.27 322.6,51.68 324.3,44.6C326,37.52 328.02,35.97 329.8,33.5C331.58,31.03 331.63,30.88 335,29.8C338.37,28.72 343.23,27.63 350,27C356.77,26.37 371.33,26.17 375.6,26" fill="none" stroke="#33cc33" stroke-width="1.2" stroke-linejoin="round"/>
<path d="M214.6,123.8 L214.6,123.87 L215.1,123.87 L215.6,123.87 L216.1,123.88 L216.6,123.88 L217.1,123.88 L217.6,123.88 L218.1,123.88 L218.6,123.88 L219.1,123.88 L219.6,123.88 L220.1,123.88 L220.6,123.88 L221.1,123.88 L221.6,123.89 L222.1,123.89 L222.6,123.89 L223.1,123.89 L223.6,123.89 L224.1,123.89 L224.6,123.89 L225.1,123.89 L225.6,123.89 L226.1,123.9 L226.6,123.9 L227.1,123.9 L227.6,123.9 L228.1,123.9 L228.6,123.9 L229.1,123.9 L229.6,123.91 L230.1,123.91 L230.6,123.91 L231.1,123.91 L231.6,123.91 L232.1,123.91 L232.6,123.91 L233.1,123.92 L233.6,123.92 L234.1,123.92 L234.6,123.92 L235.1,123.92 L235.6,123.92 L236.1,123.93 L236.6,123.93 L237.1,123.93 L237.6,123.93 L238.1,123.93 L238.6,123.94 L239.1,123.94 L239.6,123.94 L240.1,123.94 L240.6,123.95 L241.1,123.95 L241.6,123.95 L242.1,123.95 L242.6,123.96 L243.1,123.96 L243.6,123.96 L244.1,123.96 L244.6,123.97 L245.1,123.97 L245.6,123.97 L246.1,123.98 L246.6,123.98 L247.1,123.98 L247.6,123.99 L248.1,123.99 L248.6,123.99 L249.1,124 L249.6,124 L250.1,124 L250.6,124.01 L251.1,124.01 L251.6,124.02 L252.1,124.02 L252.6,124.02 L253.1,124.03 L253.6,124.03 L254.1,124.04 L254.6,124.04 L255.1,124.05 L255.6,124.06 L256.1,124.06 L256.6,124.07 L257.1,124.07 L257.6,124.08 L258.1,124.09 L258.6,124.09 L259.1,124.1 L259.6,124.11 L260.1,124.11 L260.6,124.12 L261.1,124.13 L261.6,124.14 L262.1,124.15 L262.6,124.16 L263.1,124.17 L263.6,124.18 L264.1,124.19 L264.6,124.2 L265.1,124.21 L265.6,124.22 L266.1,124.23 L266.6,124.25 L267.1,124.26 L267.6,124.27 L268.1,124.29 L268.6,124.3 L269.1,124.32 L269.6,124.34 L270.1,124.36 L270.6,124.38 L271.1,124.4 L271.6,124.42 L272.1,124.44 L272.6,124.46 L273.1,124.49 L273.6,124.52 L274.1,124.55 L274.6,124.58 L275.1,124.61 L275.6,124.64 L276.1,124.68 L276.6,124.72 L277.1,124.76 L277.6,124.81 L278.1,124.86 L278.6,124.91 L279.1,124.97 L279.6,125.03 L280.1,125.1 L280.6,125.18 L281.1,125.26 L281.6,125.35 L282.1,125.44 L282.6,125.55 L283.1,125.67 L283.6,125.8 L284.1,125.95 L284.6,126.12 L285.1,126.3 L285.6,126.51 L286.1,126.74 L286.6,127.01 L287.1,127.32 L287.6,127.67 L288.1,128.08 L288.6,128.55 L289.1,129.1 L289.6,129.74 L290.1,130.5 L290.6,131.38 L291.1,132.42 L291.6,133.63 L292.1,135.03 L292.6,136.61 L293.1,138.34 L293.6,140.12 L294.1,141.81 L294.6,143.18 L295.1,144 L295.6,144.11 L296.1,143.51 L296.6,142.32 L297.1,140.76 L297.6,139.07 L298.1,137.41 L298.6,135.89 L299.1,134.55 L299.6,133.41 L300.1,132.45 L300.6,131.65 L301.1,130.99 L301.6,130.46 L302.1,130.04 L302.6,129.71 L303.1,129.46 L303.6,129.28 L304.1,129.17 L304.6,129.12 L305.1,129.14 L305.6,129.21 L306.1,129.33 L306.6,129.53 L307.1,129.78 L307.6,130.11 L308.1,130.52 L308.6,131.02 L309.1,131.62 L309.6,132.33 L310.1,133.16 L310.6,134.13 L311.1,135.25 L311.6,136.5 L312.1,137.87 L312.6,139.32 L313.1,140.76 L313.6,142.08 L314.1,143.14 L314.6,143.79 L315.1,143.92 L315.6,143.51 L316.1,142.62 L316.6,141.38 L317.1,139.92 L317.6,138.4 L318.1,136.9 L318.6,135.5 L319.1,134.22 L319.6,133.09 L320.1,132.09 L320.6,131.21 L321.1,130.45 L321.6,129.78 L322.1,129.2 L322.6,128.7 L323.1,128.26 L323.6,127.87 L324.1,127.53 L324.6,127.22 L325.1,126.96 L325.6,126.72 L326.1,126.51 L326.6,126.32 L327.1,126.15 L327.6,125.99 L328.1,125.85 L328.6,125.72 L329.1,125.61 L329.6,125.5 L330.1,125.41 L330.6,125.32 L331.1,125.24 L331.6,125.16 L332.1,125.1 L332.6,125.03 L333.1,124.97 L333.6,124.92 L334.1,124.87 L334.6,124.82 L335.1,124.77 L335.6,124.73 L336.1,124.69 L336.6,124.66 L337.1,124.62 L337.6,124.59 L338.1,124.56 L338.6,124.53 L339.1,124.51 L339.6,124.48 L340.1,124.46 L340.6,124.43 L341.1,124.41 L341.6,124.39 L342.1,124.37 L342.6,124.35 L343.1,124.34 L343.6,124.32 L344.1,124.3 L344.6,124.29 L345.1,124.27 L345.6,124.26 L346.1,124.25 L346.6,124.23 L347.1,124.22 L347.6,124.21 L348.1,124.2 L348.6,124.19 L349.1,124.18 L349.6,124.17 L350.1,124.16 L350.6,124.15 L351.1,124.14 L351.6,124.13 L352.1,124.13 L352.6,124.12 L353.1,124.11 L353.6,124.1 L354.1,124.1 L354.6,124.09 L355.1,124.08 L355.6,124.08 L356.1,124.07 L356.6,124.06 L357.1,124.06 L357.6,124.05 L358.1,124.05 L358.6,124.04 L359.1,124.04 L359.6,124.03 L360.1,124.03 L360.6,124.02 L361.1,124.02 L361.6,124.01 L362.1,124.01 L362.6,124.01 L363.1,124 L363.6,124 L364.1,124 L364.6,123.99 L365.1,123.99 L365.6,123.98 L366.1,123.98 L366.6,123.98 L367.1,123.97 L367.6,123.97 L368.1,123.97 L368.6,123.97 L369.1,123.96 L369.6,123.96 L370.1,123.96 L370.6,123.96 L371.1,123.95 L371.6,123.95 L372.1,123.95 L372.6,123.95 L373.1,123.94 L373.6,123.94 L374.1,123.94 L374.6,123.94 L375.1,123.93 L375.6,123.93 L375.6,123.8 Z" fill="#2040f0" stroke="none"/>
<path d="M214.6,123.8 L214.6,123.85 L215.1,123.85 L215.6,123.85 L216.1,123.85 L216.6,123.86 L217.1,123.86 L217.6,123.86 L218.1,123.86 L218.6,123.86 L219.1,123.86 L219.6,123.86 L220.1,123.86 L220.6,123.86 L221.1,123.86 L221.6,123.86 L222.1,123.86 L222.6,123.86 L223.1,123.87 L223.6,123.87 L224.1,123.87 L224.6,123.87 L225.1,123.87 L225.6,123.87 L226.1,123.87 L226.6,123.87 L227.1,123.87 L227.6,123.87 L228.1,123.88 L228.6,123.88 L229.1,123.88 L229.6,123.88 L230.1,123.88 L230.6,123.88 L231.1,123.88 L231.6,123.88 L232.1,123.89 L232.6,123.89 L233.1,123.89 L233.6,123.89 L234.1,123.89 L234.6,123.89 L235.1,123.89 L235.6,123.9 L236.1,123.9 L236.6,123.9 L237.1,123.9 L237.6,123.9 L238.1,123.9 L238.6,123.91 L239.1,123.91 L239.6,123.91 L240.1,123.91 L240.6,123.91 L241.1,123.92 L241.6,123.92 L242.1,123.92 L242.6,123.92 L243.1,123.93 L243.6,123.93 L244.1,123.93 L244.6,123.93 L245.1,123.94 L245.6,123.94 L246.1,123.94 L246.6,123.94 L247.1,123.95 L247.6,123.95 L248.1,123.95 L248.6,123.96 L249.1,123.96 L249.6,123.96 L250.1,123.97 L250.6,123.97 L251.1,123.98 L251.6,123.98 L252.1,123.98 L252.6,123.99 L253.1,123.99 L253.6,124 L254.1,124 L254.6,124.01 L255.1,124.01 L255.6,124.02 L256.1,124.02 L256.6,124.03 L257.1,124.04 L257.6,124.04 L258.1,124.05 L258.6,124.06 L259.1,124.06 L259.6,124.07 L260.1,124.08 L260.6,124.09 L261.1,124.1 L261.6,124.1 L262.1,124.11 L262.6,124.12 L263.1,124.13 L263.6,124.15 L264.1,124.16 L264.6,124.17 L265.1,124.18 L265.6,124.2 L266.1,124.21 L266.6,124.22 L267.1,124.24 L267.6,124.26 L268.1,124.28 L268.6,124.29 L269.1,124.31 L269.6,124.34 L270.1,124.36 L270.6,124.38 L271.1,124.41 L271.6,124.44 L272.1,124.47 L272.6,124.5 L273.1,124.54 L273.6,124.57 L274.1,124.61 L274.6,124.66 L275.1,124.71 L275.6,124.76 L276.1,124.82 L276.6,124.88 L277.1,124.95 L277.6,125.02 L278.1,125.1 L278.6,125.2 L279.1,125.3 L279.6,125.41 L280.1,125.54 L280.6,125.68 L281.1,125.84 L281.6,126.03 L282.1,126.23 L282.6,126.47 L283.1,126.74 L283.6,127.06 L284.1,127.42 L284.6,127.84 L285.1,128.33 L285.6,128.91 L286.1,129.57 L286.6,130.34 L287.1,131.21 L287.6,132.19 L288.1,133.25 L288.6,134.34 L289.1,135.37 L289.6,136.24 L290.1,136.8 L290.6,136.98 L291.1,136.74 L291.6,136.14 L292.1,135.3 L292.6,134.33 L293.1,133.36 L293.6,132.45 L294.1,131.64 L294.6,130.94 L295.1,130.37 L295.6,129.91 L296.1,129.55 L296.6,129.29 L297.1,129.12 L297.6,129.04 L298.1,129.04 L298.6,129.12 L299.1,129.29 L299.6,129.55 L300.1,129.91 L300.6,130.37 L301.1,130.94 L301.6,131.64 L302.1,132.45 L302.6,133.36 L303.1,134.33 L303.6,135.3 L304.1,136.14 L304.6,136.74 L305.1,136.98 L305.6,136.8 L306.1,136.24 L306.6,135.37 L307.1,134.34 L307.6,133.25 L308.1,132.19 L308.6,131.21 L309.1,130.34 L309.6,129.57 L310.1,128.91 L310.6,128.33 L311.1,127.84 L311.6,127.42 L312.1,127.06 L312.6,126.74 L313.1,126.47 L313.6,126.23 L314.1,126.03 L314.6,125.84 L315.1,125.68 L315.6,125.54 L316.1,125.41 L316.6,125.3 L317.1,125.2 L317.6,125.1 L318.1,125.02 L318.6,124.95 L319.1,124.88 L319.6,124.82 L320.1,124.76 L320.6,124.71 L321.1,124.66 L321.6,124.61 L322.1,124.57 L322.6,124.54 L323.1,124.5 L323.6,124.47 L324.1,124.44 L324.6,124.41 L325.1,124.38 L325.6,124.36 L326.1,124.34 L326.6,124.31 L327.1,124.29 L327.6,124.28 L328.1,124.26 L328.6,124.24 L329.1,124.22 L329.6,124.21 L330.1,124.2 L330.6,124.18 L331.1,124.17 L331.6,124.16 L332.1,124.15 L332.6,124.13 L333.1,124.12 L333.6,124.11 L334.1,124.1 L334.6,124.1 L335.1,124.09 L335.6,124.08 L336.1,124.07 L336.6,124.06 L337.1,124.06 L337.6,124.05 L338.1,124.04 L338.6,124.04 L339.1,124.03 L339.6,124.02 L340.1,124.02 L340.6,124.01 L341.1,124.01 L341.6,124 L342.1,124 L342.6,123.99 L343.1,123.99 L343.6,123.98 L344.1,123.98 L344.6,123.98 L345.1,123.97 L345.6,123.97 L346.1,123.96 L346.6,123.96 L347.1,123.96 L347.6,123.95 L348.1,123.95 L348.6,123.95 L349.1,123.94 L349.6,123.94 L350.1,123.94 L350.6,123.94 L351.1,123.93 L351.6,123.93 L352.1,123.93 L352.6,123.93 L353.1,123.92 L353.6,123.92 L354.1,123.92 L354.6,123.92 L355.1,123.91 L355.6,123.91 L356.1,123.91 L356.6,123.91 L357.1,123.91 L357.6,123.9 L358.1,123.9 L358.6,123.9 L359.1,123.9 L359.6,123.9 L360.1,123.9 L360.6,123.89 L361.1,123.89 L361.6,123.89 L362.1,123.89 L362.6,123.89 L363.1,123.89 L363.6,123.89 L364.1,123.88 L364.6,123.88 L365.1,123.88 L365.6,123.88 L366.1,123.88 L366.6,123.88 L367.1,123.88 L367.6,123.88 L368.1,123.87 L368.6,123.87 L369.1,123.87 L369.6,123.87 L370.1,123.87 L370.6,123.87 L371.1,123.87 L371.6,123.87 L372.1,123.87 L372.6,123.87 L373.1,123.86 L373.6,123.86 L374.1,123.86 L374.6,123.86 L375.1,123.86 L375.6,123.86 L375.6,123.8 Z" fill="#f01820" stroke="none"/>
<line x1="214.6" y1="123.8" x2="375.6" y2="123.8" stroke="#f01820" stroke-width="0.7" />
<path d="M214.6,124C221.33,124.17 246.6,124.5 255,125C263.4,125.5 262.17,125.83 265,127C267.83,128.17 269.83,129.5 272,132C274.17,134.5 276.33,138.17 278,142C279.67,145.83 280.83,150 282,155C283.17,160 284,164.5 285,172C286,179.5 287.17,192.5 288,200C288.83,207.5 289.42,212.87 290,217C290.58,221.13 291,224.63 291.5,224.8C292,224.97 292.33,222.47 293,218C293.67,213.53 294.58,205.33 295.5,198C296.42,190.67 297.5,179.83 298.5,174C299.5,168.17 300.55,165.42 301.5,163C302.45,160.58 303.28,159.5 304.2,159.5C305.12,159.5 306.03,159.92 307,163C307.97,166.08 309.08,171.83 310,178C310.92,184.17 311.83,193.83 312.5,200C313.17,206.17 313.48,211.35 314,215C314.52,218.65 315.07,221.9 315.6,221.9C316.13,221.9 316.55,219.48 317.2,215C317.85,210.52 318.62,202.83 319.5,195C320.38,187.17 321.42,175.83 322.5,168C323.58,160.17 324.58,153.5 326,148C327.42,142.5 328.67,138.33 331,135C333.33,131.67 336,129.67 340,128C344,126.33 349.07,125.63 355,125C360.93,124.37 372.17,124.33 375.6,124.2" fill="none" stroke="#222" stroke-width="0.6" />
<path d="M214.6,124C221.33,124.08 246.6,124.2 255,124.5C263.4,124.8 261.7,123.78 265,125.8C268.3,127.82 271.87,131.87 274.8,136.6C277.73,141.33 280.48,147.35 282.6,154.2C284.72,161.05 286.3,171.4 287.5,177.7C288.7,184 289.13,188.57 289.8,192C290.47,195.43 290.92,198.3 291.5,198.3C292.08,198.3 292.55,195.88 293.3,192C294.05,188.12 295.05,181.17 296,175C296.95,168.83 298,160 299,155C300,150 301.13,147.08 302,145C302.87,142.92 303.45,142.5 304.2,142.5C304.95,142.5 305.62,142.92 306.5,145C307.38,147.08 308.5,150 309.5,155C310.5,160 311.65,168.83 312.5,175C313.35,181.17 313.95,188.12 314.6,192C315.25,195.88 315.8,198.3 316.4,198.3C317,198.3 317.43,195.88 318.2,192C318.97,188.12 319.87,181.67 321,175C322.13,168.33 323.5,158.33 325,152C326.5,145.67 328,140.83 330,137C332,133.17 333.67,130.92 337,129C340.33,127.08 343.57,126.25 350,125.5C356.43,124.75 371.33,124.67 375.6,124.5" fill="none" stroke="#33cc33" stroke-width="1.2" stroke-linejoin="round"/>
<path d="M214.6,237.8 L214.6,237.92 L215.1,237.92 L215.6,237.92 L216.1,237.92 L216.6,237.92 L217.1,237.92 L217.6,237.92 L218.1,237.92 L218.6,237.93 L219.1,237.93 L219.6,237.93 L220.1,237.93 L220.6,237.93 L221.1,237.93 L221.6,237.94 L222.1,237.94 L222.6,237.94 L223.1,237.94 L223.6,237.94 L224.1,237.94 L224.6,237.95 L225.1,237.95 L225.6,237.95 L226.1,237.95 L226.6,237.95 L227.1,237.96 L227.6,237.96 L228.1,237.96 L228.6,237.96 L229.1,237.96 L229.6,237.97 L230.1,237.97 L230.6,237.97 L231.1,237.97 L231.6,237.98 L232.1,237.98 L232.6,237.98 L233.1,237.98 L233.6,237.99 L234.1,237.99 L234.6,237.99 L235.1,237.99 L235.6,238 L236.1,238 L236.6,238 L237.1,238.01 L237.6,238.01 L238.1,238.01 L238.6,238.01 L239.1,238.02 L239.6,238.02 L240.1,238.03 L240.6,238.03 L241.1,238.03 L241.6,238.04 L242.1,238.04 L242.6,238.04 L243.1,238.05 L243.6,238.05 L244.1,238.06 L244.6,238.06 L245.1,238.07 L245.6,238.07 L246.1,238.07 L246.6,238.08 L247.1,238.08 L247.6,238.09 L248.1,238.09 L248.6,238.1 L249.1,238.11 L249.6,238.11 L250.1,238.12 L250.6,238.12 L251.1,238.13 L251.6,238.14 L252.1,238.14 L252.6,238.15 L253.1,238.16 L253.6,238.16 L254.1,238.17 L254.6,238.18 L255.1,238.19 L255.6,238.2 L256.1,238.2 L256.6,238.21 L257.1,238.22 L257.6,238.23 L258.1,238.24 L258.6,238.25 L259.1,238.26 L259.6,238.27 L260.1,238.28 L260.6,238.3 L261.1,238.31 L261.6,238.32 L262.1,238.33 L262.6,238.35 L263.1,238.36 L263.6,238.38 L264.1,238.39 L264.6,238.41 L265.1,238.43 L265.6,238.44 L266.1,238.46 L266.6,238.48 L267.1,238.5 L267.6,238.52 L268.1,238.54 L268.6,238.57 L269.1,238.59 L269.6,238.62 L270.1,238.64 L270.6,238.67 L271.1,238.7 L271.6,238.73 L272.1,238.76 L272.6,238.8 L273.1,238.84 L273.6,238.88 L274.1,238.92 L274.6,238.96 L275.1,239.01 L275.6,239.06 L276.1,239.11 L276.6,239.17 L277.1,239.23 L277.6,239.3 L278.1,239.37 L278.6,239.44 L279.1,239.52 L279.6,239.61 L280.1,239.71 L280.6,239.81 L281.1,239.93 L281.6,240.05 L282.1,240.19 L282.6,240.34 L283.1,240.5 L283.6,240.68 L284.1,240.89 L284.6,241.11 L285.1,241.36 L285.6,241.64 L286.1,241.96 L286.6,242.32 L287.1,242.73 L287.6,243.19 L288.1,243.72 L288.6,244.34 L289.1,245.05 L289.6,245.87 L290.1,246.83 L290.6,247.94 L291.1,249.23 L291.6,250.73 L292.1,252.44 L292.6,254.36 L293.1,256.46 L293.6,258.65 L294.1,260.76 L294.6,262.57 L295.1,263.83 L295.6,264.33 L296.1,263.98 L296.6,262.87 L297.1,261.21 L297.6,259.25 L298.1,257.23 L298.6,255.29 L299.1,253.54 L299.6,252.01 L300.1,250.7 L300.6,249.6 L301.1,248.7 L301.6,247.97 L302.1,247.39 L302.6,246.94 L303.1,246.62 L303.6,246.39 L304.1,246.27 L304.6,246.24 L305.1,246.29 L305.6,246.44 L306.1,246.67 L306.6,246.99 L307.1,247.41 L307.6,247.93 L308.1,248.56 L308.6,249.31 L309.1,250.19 L309.6,251.21 L310.1,252.38 L310.6,253.71 L311.1,255.18 L311.6,256.78 L312.1,258.47 L312.6,260.19 L313.1,261.84 L313.6,263.29 L314.1,264.41 L314.6,265.08 L315.1,265.2 L315.6,264.76 L316.1,263.81 L316.6,262.44 L317.1,260.8 L317.6,259.01 L318.1,257.19 L318.6,255.42 L319.1,253.76 L319.6,252.22 L320.1,250.83 L320.6,249.59 L321.1,248.48 L321.6,247.49 L322.1,246.62 L322.6,245.84 L323.1,245.16 L323.6,244.55 L324.1,244 L324.6,243.52 L325.1,243.09 L325.6,242.7 L326.1,242.36 L326.6,242.04 L327.1,241.76 L327.6,241.51 L328.1,241.27 L328.6,241.06 L329.1,240.87 L329.6,240.69 L330.1,240.53 L330.6,240.38 L331.1,240.25 L331.6,240.12 L332.1,240 L332.6,239.9 L333.1,239.8 L333.6,239.7 L334.1,239.62 L334.6,239.53 L335.1,239.46 L335.6,239.39 L336.1,239.32 L336.6,239.26 L337.1,239.2 L337.6,239.15 L338.1,239.1 L338.6,239.05 L339.1,239 L339.6,238.96 L340.1,238.92 L340.6,238.88 L341.1,238.84 L341.6,238.81 L342.1,238.77 L342.6,238.74 L343.1,238.71 L343.6,238.68 L344.1,238.65 L344.6,238.63 L345.1,238.6 L345.6,238.58 L346.1,238.56 L346.6,238.54 L347.1,238.51 L347.6,238.5 L348.1,238.48 L348.6,238.46 L349.1,238.44 L349.6,238.42 L350.1,238.41 L350.6,238.39 L351.1,238.38 L351.6,238.36 L352.1,238.35 L352.6,238.34 L353.1,238.32 L353.6,238.31 L354.1,238.3 L354.6,238.29 L355.1,238.28 L355.6,238.27 L356.1,238.25 L356.6,238.24 L357.1,238.24 L357.6,238.23 L358.1,238.22 L358.6,238.21 L359.1,238.2 L359.6,238.19 L360.1,238.18 L360.6,238.18 L361.1,238.17 L361.6,238.16 L362.1,238.15 L362.6,238.15 L363.1,238.14 L363.6,238.13 L364.1,238.13 L364.6,238.12 L365.1,238.12 L365.6,238.11 L366.1,238.1 L366.6,238.1 L367.1,238.09 L367.6,238.09 L368.1,238.08 L368.6,238.08 L369.1,238.07 L369.6,238.07 L370.1,238.06 L370.6,238.06 L371.1,238.06 L371.6,238.05 L372.1,238.05 L372.6,238.04 L373.1,238.04 L373.6,238.04 L374.1,238.03 L374.6,238.03 L375.1,238.02 L375.6,238.02 L375.6,237.8 Z" fill="#2040f0" stroke="none"/>
<path d="M214.6,237.8 L214.6,237.91 L215.1,237.91 L215.6,237.92 L216.1,237.92 L216.6,237.92 L217.1,237.92 L217.6,237.92 L218.1,237.92 L218.6,237.92 L219.1,237.93 L219.6,237.93 L220.1,237.93 L220.6,237.93 L221.1,237.93 L221.6,237.94 L222.1,237.94 L222.6,237.94 L223.1,237.94 L223.6,237.94 L224.1,237.94 L224.6,237.95 L225.1,237.95 L225.6,237.95 L226.1,237.95 L226.6,237.96 L227.1,237.96 L227.6,237.96 L228.1,237.96 L228.6,237.96 L229.1,237.97 L229.6,237.97 L230.1,237.97 L230.6,237.97 L231.1,237.98 L231.6,237.98 L232.1,237.98 L232.6,237.99 L233.1,237.99 L233.6,237.99 L234.1,238 L234.6,238 L235.1,238 L235.6,238 L236.1,238.01 L236.6,238.01 L237.1,238.02 L237.6,238.02 L238.1,238.02 L238.6,238.03 L239.1,238.03 L239.6,238.04 L240.1,238.04 L240.6,238.04 L241.1,238.05 L241.6,238.05 L242.1,238.06 L242.6,238.06 L243.1,238.07 L243.6,238.07 L244.1,238.08 L244.6,238.08 L245.1,238.09 L245.6,238.09 L246.1,238.1 L246.6,238.11 L247.1,238.11 L247.6,238.12 L248.1,238.13 L248.6,238.13 L249.1,238.14 L249.6,238.15 L250.1,238.16 L250.6,238.16 L251.1,238.17 L251.6,238.18 L252.1,238.19 L252.6,238.2 L253.1,238.21 L253.6,238.22 L254.1,238.23 L254.6,238.24 L255.1,238.25 L255.6,238.26 L256.1,238.27 L256.6,238.29 L257.1,238.3 L257.6,238.31 L258.1,238.33 L258.6,238.34 L259.1,238.36 L259.6,238.37 L260.1,238.39 L260.6,238.4 L261.1,238.42 L261.6,238.44 L262.1,238.46 L262.6,238.48 L263.1,238.5 L263.6,238.53 L264.1,238.55 L264.6,238.58 L265.1,238.6 L265.6,238.63 L266.1,238.66 L266.6,238.69 L267.1,238.72 L267.6,238.76 L268.1,238.79 L268.6,238.83 L269.1,238.87 L269.6,238.92 L270.1,238.96 L270.6,239.01 L271.1,239.07 L271.6,239.12 L272.1,239.18 L272.6,239.25 L273.1,239.32 L273.6,239.39 L274.1,239.47 L274.6,239.56 L275.1,239.65 L275.6,239.75 L276.1,239.86 L276.6,239.98 L277.1,240.11 L277.6,240.26 L278.1,240.41 L278.6,240.59 L279.1,240.78 L279.6,240.99 L280.1,241.22 L280.6,241.48 L281.1,241.77 L281.6,242.09 L282.1,242.46 L282.6,242.87 L283.1,243.33 L283.6,243.85 L284.1,244.44 L284.6,245.12 L285.1,245.88 L285.6,246.75 L286.1,247.73 L286.6,248.83 L287.1,250.04 L287.6,251.37 L288.1,252.78 L288.6,254.23 L289.1,255.62 L289.6,256.87 L290.1,257.85 L290.6,258.45 L291.1,258.61 L291.6,258.33 L292.1,257.66 L292.6,256.7 L293.1,255.58 L293.6,254.41 L294.1,253.27 L294.6,252.23 L295.1,251.32 L295.6,250.56 L296.1,249.95 L296.6,249.49 L297.1,249.19 L297.6,249.04 L298.1,249.04 L298.6,249.19 L299.1,249.49 L299.6,249.95 L300.1,250.56 L300.6,251.32 L301.1,252.23 L301.6,253.27 L302.1,254.41 L302.6,255.58 L303.1,256.7 L303.6,257.66 L304.1,258.33 L304.6,258.61 L305.1,258.45 L305.6,257.85 L306.1,256.87 L306.6,255.62 L307.1,254.23 L307.6,252.78 L308.1,251.37 L308.6,250.04 L309.1,248.83 L309.6,247.73 L310.1,246.75 L310.6,245.88 L311.1,245.12 L311.6,244.44 L312.1,243.85 L312.6,243.33 L313.1,242.87 L313.6,242.46 L314.1,242.09 L314.6,241.77 L315.1,241.48 L315.6,241.22 L316.1,240.99 L316.6,240.78 L317.1,240.59 L317.6,240.41 L318.1,240.26 L318.6,240.11 L319.1,239.98 L319.6,239.86 L320.1,239.75 L320.6,239.65 L321.1,239.56 L321.6,239.47 L322.1,239.39 L322.6,239.32 L323.1,239.25 L323.6,239.18 L324.1,239.12 L324.6,239.07 L325.1,239.01 L325.6,238.96 L326.1,238.92 L326.6,238.87 L327.1,238.83 L327.6,238.79 L328.1,238.76 L328.6,238.72 L329.1,238.69 L329.6,238.66 L330.1,238.63 L330.6,238.6 L331.1,238.58 L331.6,238.55 L332.1,238.53 L332.6,238.5 L333.1,238.48 L333.6,238.46 L334.1,238.44 L334.6,238.42 L335.1,238.4 L335.6,238.39 L336.1,238.37 L336.6,238.36 L337.1,238.34 L337.6,238.33 L338.1,238.31 L338.6,238.3 L339.1,238.29 L339.6,238.27 L340.1,238.26 L340.6,238.25 L341.1,238.24 L341.6,238.23 L342.1,238.22 L342.6,238.21 L343.1,238.2 L343.6,238.19 L344.1,238.18 L344.6,238.17 L345.1,238.16 L345.6,238.16 L346.1,238.15 L346.6,238.14 L347.1,238.13 L347.6,238.13 L348.1,238.12 L348.6,238.11 L349.1,238.11 L349.6,238.1 L350.1,238.09 L350.6,238.09 L351.1,238.08 L351.6,238.08 L352.1,238.07 L352.6,238.07 L353.1,238.06 L353.6,238.06 L354.1,238.05 L354.6,238.05 L355.1,238.04 L355.6,238.04 L356.1,238.04 L356.6,238.03 L357.1,238.03 L357.6,238.02 L358.1,238.02 L358.6,238.02 L359.1,238.01 L359.6,238.01 L360.1,238 L360.6,238 L361.1,238 L361.6,238 L362.1,237.99 L362.6,237.99 L363.1,237.99 L363.6,237.98 L364.1,237.98 L364.6,237.98 L365.1,237.97 L365.6,237.97 L366.1,237.97 L366.6,237.97 L367.1,237.96 L367.6,237.96 L368.1,237.96 L368.6,237.96 L369.1,237.96 L369.6,237.95 L370.1,237.95 L370.6,237.95 L371.1,237.95 L371.6,237.94 L372.1,237.94 L372.6,237.94 L373.1,237.94 L373.6,237.94 L374.1,237.94 L374.6,237.93 L375.1,237.93 L375.6,237.93 L375.6,237.8 Z" fill="#f01820" stroke="none"/>
<line x1="214.6" y1="237.8" x2="375.6" y2="237.8" stroke="#f01820" stroke-width="0.7" />
<path d="M214.6,238.3C221.33,238.47 246.6,238.85 255,239.3C263.4,239.75 262.17,239.72 265,241C267.83,242.28 269.5,244.2 272,247C274.5,249.8 278,253.97 280,257.8C282,261.63 282.75,264.13 284,270C285.25,275.87 286.5,285.83 287.5,293C288.5,300.17 289.27,308.38 290,313C290.73,317.62 291.27,320.7 291.9,320.7C292.53,320.7 293.03,317.78 293.8,313C294.57,308.22 295.55,297.67 296.5,292C297.45,286.33 298.33,282.08 299.5,279C300.67,275.92 302.25,273.67 303.5,273.5C304.75,273.33 305.92,275.08 307,278C308.08,280.92 309,286 310,291C311,296 312.17,304.12 313,308C313.83,311.88 314.28,314.47 315,314.3C315.72,314.13 316.47,311.38 317.3,307C318.13,302.62 319.05,294.5 320,288C320.95,281.5 321.83,274 323,268C324.17,262 325.33,256.08 327,252C328.67,247.92 330,245.58 333,243.5C336,241.42 337.9,240.37 345,239.5C352.1,238.63 370.5,238.5 375.6,238.3" fill="none" stroke="#222" stroke-width="0.6" />
<path d="M214.6,237.8C221.33,237.85 246.6,237.92 255,238.11C263.4,238.3 261.7,237.67 265,238.92C268.3,240.17 271.87,242.69 274.8,245.63C277.73,248.58 280.48,252.32 282.6,256.58C284.72,260.84 286.3,267.27 287.5,271.19C288.7,275.11 289.13,277.95 289.8,280.08C290.47,282.22 290.92,284 291.5,284C292.08,284 292.55,282.5 293.3,280.08C294.05,277.67 295.05,273.35 296,269.51C296.95,265.68 298,260.18 299,257.08C300,253.97 301.13,252.15 302,250.86C302.87,249.56 303.45,249.3 304.2,249.3C304.95,249.3 305.62,249.56 306.5,250.86C307.38,252.15 308.5,253.97 309.5,257.08C310.5,260.18 311.65,265.68 312.5,269.51C313.35,273.35 313.95,277.67 314.6,280.08C315.25,282.5 315.8,284 316.4,284C317,284 317.43,282.5 318.2,280.08C318.97,277.67 319.87,273.66 321,269.51C322.13,265.37 323.5,259.15 325,255.21C326.5,251.27 328,248.27 330,245.88C332,243.5 333.67,242.1 337,240.91C340.33,239.72 343.57,239.2 350,238.73C356.43,238.27 371.33,238.21 375.6,238.11" fill="none" stroke="#33cc33" stroke-width="1.2" stroke-linejoin="round"/>
<path d="M214.6,358.7 L214.6,358.88 L215.1,358.88 L215.6,358.88 L216.1,358.88 L216.6,358.89 L217.1,358.89 L217.6,358.89 L218.1,358.89 L218.6,358.89 L219.1,358.9 L219.6,358.9 L220.1,358.9 L220.6,358.9 L221.1,358.91 L221.6,358.91 L222.1,358.91 L222.6,358.91 L223.1,358.92 L223.6,358.92 L224.1,358.92 L224.6,358.92 L225.1,358.93 L225.6,358.93 L226.1,358.93 L226.6,358.94 L227.1,358.94 L227.6,358.94 L228.1,358.94 L228.6,358.95 L229.1,358.95 L229.6,358.95 L230.1,358.96 L230.6,358.96 L231.1,358.96 L231.6,358.97 L232.1,358.97 L232.6,358.98 L233.1,358.98 L233.6,358.98 L234.1,358.99 L234.6,358.99 L235.1,359 L235.6,359 L236.1,359 L236.6,359.01 L237.1,359.01 L237.6,359.02 L238.1,359.02 L238.6,359.03 L239.1,359.03 L239.6,359.04 L240.1,359.04 L240.6,359.05 L241.1,359.05 L241.6,359.06 L242.1,359.07 L242.6,359.07 L243.1,359.08 L243.6,359.08 L244.1,359.09 L244.6,359.1 L245.1,359.1 L245.6,359.11 L246.1,359.12 L246.6,359.13 L247.1,359.13 L247.6,359.14 L248.1,359.15 L248.6,359.16 L249.1,359.17 L249.6,359.17 L250.1,359.18 L250.6,359.19 L251.1,359.2 L251.6,359.21 L252.1,359.22 L252.6,359.23 L253.1,359.24 L253.6,359.25 L254.1,359.27 L254.6,359.28 L255.1,359.29 L255.6,359.3 L256.1,359.31 L256.6,359.33 L257.1,359.34 L257.6,359.36 L258.1,359.37 L258.6,359.39 L259.1,359.4 L259.6,359.42 L260.1,359.44 L260.6,359.45 L261.1,359.47 L261.6,359.49 L262.1,359.51 L262.6,359.53 L263.1,359.55 L263.6,359.57 L264.1,359.6 L264.6,359.62 L265.1,359.65 L265.6,359.67 L266.1,359.7 L266.6,359.73 L267.1,359.76 L267.6,359.79 L268.1,359.82 L268.6,359.86 L269.1,359.89 L269.6,359.93 L270.1,359.97 L270.6,360.02 L271.1,360.06 L271.6,360.11 L272.1,360.16 L272.6,360.21 L273.1,360.26 L273.6,360.32 L274.1,360.38 L274.6,360.45 L275.1,360.52 L275.6,360.6 L276.1,360.68 L276.6,360.76 L277.1,360.85 L277.6,360.95 L278.1,361.06 L278.6,361.17 L279.1,361.29 L279.6,361.43 L280.1,361.57 L280.6,361.73 L281.1,361.9 L281.6,362.08 L282.1,362.29 L282.6,362.51 L283.1,362.76 L283.6,363.03 L284.1,363.34 L284.6,363.67 L285.1,364.05 L285.6,364.48 L286.1,364.96 L286.6,365.5 L287.1,366.12 L287.6,366.83 L288.1,367.65 L288.6,368.6 L289.1,369.69 L289.6,370.97 L290.1,372.47 L290.6,374.23 L291.1,376.3 L291.6,378.71 L292.1,381.51 L292.6,384.7 L293.1,388.24 L293.6,392 L294.1,395.69 L294.6,398.91 L295.1,401.17 L295.6,402.06 L296.1,401.4 L296.6,399.36 L297.1,396.37 L297.6,392.91 L298.1,389.4 L298.6,386.1 L299.1,383.17 L299.6,380.64 L300.1,378.51 L300.6,376.74 L301.1,375.3 L301.6,374.14 L302.1,373.22 L302.6,372.52 L303.1,371.99 L303.6,371.64 L304.1,371.43 L304.6,371.37 L305.1,371.43 L305.6,371.63 L306.1,371.95 L306.6,372.41 L307.1,373.01 L307.6,373.76 L308.1,374.67 L308.6,375.75 L309.1,377.03 L309.6,378.52 L310.1,380.23 L310.6,382.18 L311.1,384.38 L311.6,386.8 L312.1,389.42 L312.6,392.17 L313.1,394.93 L313.6,397.54 L314.1,399.79 L314.6,401.47 L315.1,402.39 L315.6,402.41 L316.1,401.54 L316.6,399.87 L317.1,397.58 L317.6,394.89 L318.1,392.01 L318.6,389.1 L319.1,386.3 L319.6,383.67 L320.1,381.26 L320.6,379.09 L321.1,377.13 L321.6,375.4 L322.1,373.86 L322.6,372.49 L323.1,371.28 L323.6,370.21 L324.1,369.26 L324.6,368.42 L325.1,367.66 L325.6,366.99 L326.1,366.38 L326.6,365.84 L327.1,365.35 L327.6,364.91 L328.1,364.51 L328.6,364.15 L329.1,363.81 L329.6,363.51 L330.1,363.24 L330.6,362.98 L331.1,362.75 L331.6,362.54 L332.1,362.34 L332.6,362.16 L333.1,361.99 L333.6,361.83 L334.1,361.68 L334.6,361.55 L335.1,361.42 L335.6,361.3 L336.1,361.19 L336.6,361.09 L337.1,360.99 L337.6,360.9 L338.1,360.81 L338.6,360.73 L339.1,360.65 L339.6,360.58 L340.1,360.51 L340.6,360.45 L341.1,360.39 L341.6,360.33 L342.1,360.27 L342.6,360.22 L343.1,360.17 L343.6,360.13 L344.1,360.08 L344.6,360.04 L345.1,360 L345.6,359.96 L346.1,359.92 L346.6,359.89 L347.1,359.85 L347.6,359.82 L348.1,359.79 L348.6,359.76 L349.1,359.73 L349.6,359.7 L350.1,359.68 L350.6,359.65 L351.1,359.63 L351.6,359.6 L352.1,359.58 L352.6,359.56 L353.1,359.54 L353.6,359.52 L354.1,359.5 L354.6,359.48 L355.1,359.46 L355.6,359.44 L356.1,359.43 L356.6,359.41 L357.1,359.4 L357.6,359.38 L358.1,359.37 L358.6,359.35 L359.1,359.34 L359.6,359.32 L360.1,359.31 L360.6,359.3 L361.1,359.29 L361.6,359.28 L362.1,359.26 L362.6,359.25 L363.1,359.24 L363.6,359.23 L364.1,359.22 L364.6,359.21 L365.1,359.2 L365.6,359.19 L366.1,359.18 L366.6,359.18 L367.1,359.17 L367.6,359.16 L368.1,359.15 L368.6,359.14 L369.1,359.13 L369.6,359.13 L370.1,359.12 L370.6,359.11 L371.1,359.11 L371.6,359.1 L372.1,359.09 L372.6,359.09 L373.1,359.08 L373.6,359.07 L374.1,359.07 L374.6,359.06 L375.1,359.06 L375.6,359.05 L375.6,358.7 Z" fill="#2040f0" stroke="none"/>
<path d="M214.6,358.7 L214.6,358.9 L215.1,358.9 L215.6,358.91 L216.1,358.91 L216.6,358.91 L217.1,358.91 L217.6,358.92 L218.1,358.92 L218.6,358.92 L219.1,358.93 L219.6,358.93 L220.1,358.93 L220.6,358.94 L221.1,358.94 L221.6,358.94 L222.1,358.94 L222.6,358.95 L223.1,358.95 L223.6,358.95 L224.1,358.96 L224.6,358.96 L225.1,358.97 L225.6,358.97 L226.1,358.97 L226.6,358.98 L227.1,358.98 L227.6,358.99 L228.1,358.99 L228.6,358.99 L229.1,359 L229.6,359 L230.1,359.01 L230.6,359.01 L231.1,359.02 L231.6,359.02 L232.1,359.03 L232.6,359.03 L233.1,359.04 L233.6,359.04 L234.1,359.05 L234.6,359.05 L235.1,359.06 L235.6,359.07 L236.1,359.07 L236.6,359.08 L237.1,359.09 L237.6,359.09 L238.1,359.1 L238.6,359.11 L239.1,359.11 L239.6,359.12 L240.1,359.13 L240.6,359.14 L241.1,359.14 L241.6,359.15 L242.1,359.16 L242.6,359.17 L243.1,359.18 L243.6,359.19 L244.1,359.2 L244.6,359.21 L245.1,359.22 L245.6,359.23 L246.1,359.24 L246.6,359.25 L247.1,359.26 L247.6,359.27 L248.1,359.28 L248.6,359.3 L249.1,359.31 L249.6,359.32 L250.1,359.34 L250.6,359.35 L251.1,359.37 L251.6,359.38 L252.1,359.4 L252.6,359.41 L253.1,359.43 L253.6,359.45 L254.1,359.47 L254.6,359.49 L255.1,359.51 L255.6,359.53 L256.1,359.55 L256.6,359.57 L257.1,359.59 L257.6,359.62 L258.1,359.64 L258.6,359.67 L259.1,359.7 L259.6,359.72 L260.1,359.75 L260.6,359.79 L261.1,359.82 L261.6,359.85 L262.1,359.89 L262.6,359.93 L263.1,359.96 L263.6,360.01 L264.1,360.05 L264.6,360.09 L265.1,360.14 L265.6,360.19 L266.1,360.25 L266.6,360.3 L267.1,360.36 L267.6,360.42 L268.1,360.49 L268.6,360.56 L269.1,360.64 L269.6,360.72 L270.1,360.8 L270.6,360.89 L271.1,360.99 L271.6,361.09 L272.1,361.2 L272.6,361.32 L273.1,361.45 L273.6,361.58 L274.1,361.73 L274.6,361.89 L275.1,362.06 L275.6,362.25 L276.1,362.45 L276.6,362.68 L277.1,362.92 L277.6,363.18 L278.1,363.47 L278.6,363.79 L279.1,364.15 L279.6,364.54 L280.1,364.97 L280.6,365.46 L281.1,366 L281.6,366.6 L282.1,367.28 L282.6,368.05 L283.1,368.91 L283.6,369.89 L284.1,370.99 L284.6,372.25 L285.1,373.66 L285.6,375.26 L286.1,377.05 L286.6,379.04 L287.1,381.22 L287.6,383.54 L288.1,385.94 L288.6,388.3 L289.1,390.47 L289.6,392.27 L290.1,393.51 L290.6,394.06 L291.1,393.87 L291.6,392.98 L292.1,391.55 L292.6,389.75 L293.1,387.78 L293.6,385.79 L294.1,383.9 L294.6,382.2 L295.1,380.71 L295.6,379.47 L296.1,378.47 L296.6,377.71 L297.1,377.18 L297.6,376.89 L298.1,376.82 L298.6,376.98 L299.1,377.36 L299.6,377.98 L300.1,378.84 L300.6,379.93 L301.1,381.28 L301.6,382.85 L302.1,384.64 L302.6,386.58 L303.1,388.58 L303.6,390.5 L304.1,392.18 L304.6,393.41 L305.1,394.03 L305.6,393.93 L306.1,393.1 L306.6,391.61 L307.1,389.64 L307.6,387.37 L308.1,384.97 L308.6,382.59 L309.1,380.33 L309.6,378.22 L310.1,376.31 L310.6,374.6 L311.1,373.08 L311.6,371.73 L312.1,370.53 L312.6,369.48 L313.1,368.55 L313.6,367.73 L314.1,367 L314.6,366.35 L315.1,365.77 L315.6,365.26 L316.1,364.79 L316.6,364.38 L317.1,364 L317.6,363.66 L318.1,363.35 L318.6,363.07 L319.1,362.82 L319.6,362.58 L320.1,362.37 L320.6,362.17 L321.1,361.99 L321.6,361.83 L322.1,361.67 L322.6,361.53 L323.1,361.39 L323.6,361.27 L324.1,361.16 L324.6,361.05 L325.1,360.95 L325.6,360.85 L326.1,360.77 L326.6,360.68 L327.1,360.61 L327.6,360.53 L328.1,360.46 L328.6,360.4 L329.1,360.34 L329.6,360.28 L330.1,360.22 L330.6,360.17 L331.1,360.12 L331.6,360.08 L332.1,360.03 L332.6,359.99 L333.1,359.95 L333.6,359.91 L334.1,359.87 L334.6,359.84 L335.1,359.8 L335.6,359.77 L336.1,359.74 L336.6,359.71 L337.1,359.69 L337.6,359.66 L338.1,359.63 L338.6,359.61 L339.1,359.58 L339.6,359.56 L340.1,359.54 L340.6,359.52 L341.1,359.5 L341.6,359.48 L342.1,359.46 L342.6,359.44 L343.1,359.42 L343.6,359.41 L344.1,359.39 L344.6,359.38 L345.1,359.36 L345.6,359.35 L346.1,359.33 L346.6,359.32 L347.1,359.3 L347.6,359.29 L348.1,359.28 L348.6,359.27 L349.1,359.26 L349.6,359.24 L350.1,359.23 L350.6,359.22 L351.1,359.21 L351.6,359.2 L352.1,359.19 L352.6,359.18 L353.1,359.17 L353.6,359.17 L354.1,359.16 L354.6,359.15 L355.1,359.14 L355.6,359.13 L356.1,359.12 L356.6,359.12 L357.1,359.11 L357.6,359.1 L358.1,359.1 L358.6,359.09 L359.1,359.08 L359.6,359.08 L360.1,359.07 L360.6,359.06 L361.1,359.06 L361.6,359.05 L362.1,359.05 L362.6,359.04 L363.1,359.04 L363.6,359.03 L364.1,359.03 L364.6,359.02 L365.1,359.02 L365.6,359.01 L366.1,359.01 L366.6,359 L367.1,359 L367.6,358.99 L368.1,358.99 L368.6,358.98 L369.1,358.98 L369.6,358.98 L370.1,358.97 L370.6,358.97 L371.1,358.96 L371.6,358.96 L372.1,358.96 L372.6,358.95 L373.1,358.95 L373.6,358.95 L374.1,358.94 L374.6,358.94 L375.1,358.94 L375.6,358.93 L375.6,358.7 Z" fill="#f01820" stroke="none"/>
<line x1="214.6" y1="358.7" x2="375.6" y2="358.7" stroke="#f01820" stroke-width="0.7" />
<path d="M214.6,359.3C221.33,359.5 246.6,359.8 255,360.5C263.4,361.2 261.67,361.85 265,363.5C268.33,365.15 272.07,366.02 275,370.4C277.93,374.78 280.6,382.37 282.6,389.8C284.6,397.23 285.77,407.13 287,415C288.23,422.87 289.03,431.93 290,437C290.97,442.07 291.88,445.4 292.8,445.4C293.72,445.4 294.63,441.23 295.5,437C296.37,432.77 297.17,424.33 298,420C298.83,415.67 299.75,412.42 300.5,411C301.25,409.58 301.78,411.75 302.5,411.5C303.22,411.25 303.97,409.08 304.8,409.5C305.63,409.92 306.55,411.58 307.5,414C308.45,416.42 309.58,421.08 310.5,424C311.42,426.92 312.18,429.95 313,431.5C313.82,433.05 314.57,434.38 315.4,433.3C316.23,432.22 317.07,429.72 318,425C318.93,420.28 319.83,411.5 321,405C322.17,398.5 323.5,391.67 325,386C326.5,380.33 327.5,374.92 330,371C332.5,367.08 335.83,364.42 340,362.5C344.17,360.58 349.07,360.08 355,359.5C360.93,358.92 372.17,359.08 375.6,359" fill="none" stroke="#222" stroke-width="0.6" />
<path d="M214.6,358.7C221.33,358.73 246.6,358.77 255,358.87C263.4,358.96 261.7,358.63 265,359.3C268.3,359.96 271.87,361.3 274.8,362.87C277.73,364.44 280.48,366.43 282.6,368.7C284.72,370.97 286.3,374.39 287.5,376.48C288.7,378.57 289.13,380.08 289.8,381.21C290.47,382.35 290.92,383.3 291.5,383.3C292.08,383.3 292.55,382.5 293.3,381.21C294.05,379.93 295.05,377.63 296,375.59C296.95,373.54 298,370.62 299,368.96C300,367.31 301.13,366.34 302,365.65C302.87,364.96 303.45,364.83 304.2,364.83C304.95,364.83 305.62,364.96 306.5,365.65C307.38,366.34 308.5,367.31 309.5,368.96C310.5,370.62 311.65,373.54 312.5,375.59C313.35,377.63 313.95,379.93 314.6,381.21C315.25,382.5 315.8,383.3 316.4,383.3C317,383.3 317.43,382.5 318.2,381.21C318.97,379.93 319.87,377.79 321,375.59C322.13,373.38 323.5,370.07 325,367.97C326.5,365.87 328,364.27 330,363C332,361.73 333.67,360.99 337,360.36C340.33,359.72 343.57,359.44 350,359.2C356.43,358.95 371.33,358.92 375.6,358.87" fill="none" stroke="#33cc33" stroke-width="0.9" stroke-linejoin="round"/>
<path d="M214.6,467.2 L214.6,467.5 L215.1,467.51 L215.6,467.51 L216.1,467.51 L216.6,467.52 L217.1,467.52 L217.6,467.52 L218.1,467.53 L218.6,467.53 L219.1,467.54 L219.6,467.54 L220.1,467.54 L220.6,467.55 L221.1,467.55 L221.6,467.55 L222.1,467.56 L222.6,467.56 L223.1,467.57 L223.6,467.57 L224.1,467.58 L224.6,467.58 L225.1,467.59 L225.6,467.59 L226.1,467.6 L226.6,467.6 L227.1,467.61 L227.6,467.61 L228.1,467.62 L228.6,467.62 L229.1,467.63 L229.6,467.63 L230.1,467.64 L230.6,467.64 L231.1,467.65 L231.6,467.65 L232.1,467.66 L232.6,467.67 L233.1,467.67 L233.6,467.68 L234.1,467.69 L234.6,467.69 L235.1,467.7 L235.6,467.71 L236.1,467.71 L236.6,467.72 L237.1,467.73 L237.6,467.74 L238.1,467.75 L238.6,467.75 L239.1,467.76 L239.6,467.77 L240.1,467.78 L240.6,467.79 L241.1,467.8 L241.6,467.81 L242.1,467.81 L242.6,467.82 L243.1,467.83 L243.6,467.84 L244.1,467.86 L244.6,467.87 L245.1,467.88 L245.6,467.89 L246.1,467.9 L246.6,467.91 L247.1,467.92 L247.6,467.94 L248.1,467.95 L248.6,467.96 L249.1,467.98 L249.6,467.99 L250.1,468 L250.6,468.02 L251.1,468.03 L251.6,468.05 L252.1,468.06 L252.6,468.08 L253.1,468.1 L253.6,468.12 L254.1,468.13 L254.6,468.15 L255.1,468.17 L255.6,468.19 L256.1,468.21 L256.6,468.23 L257.1,468.25 L257.6,468.28 L258.1,468.3 L258.6,468.32 L259.1,468.35 L259.6,468.37 L260.1,468.4 L260.6,468.43 L261.1,468.46 L261.6,468.49 L262.1,468.52 L262.6,468.55 L263.1,468.58 L263.6,468.62 L264.1,468.65 L264.6,468.69 L265.1,468.73 L265.6,468.77 L266.1,468.81 L266.6,468.85 L267.1,468.9 L267.6,468.95 L268.1,469 L268.6,469.05 L269.1,469.11 L269.6,469.16 L270.1,469.22 L270.6,469.29 L271.1,469.36 L271.6,469.43 L272.1,469.5 L272.6,469.58 L273.1,469.66 L273.6,469.75 L274.1,469.84 L274.6,469.94 L275.1,470.04 L275.6,470.15 L276.1,470.27 L276.6,470.4 L277.1,470.53 L277.6,470.68 L278.1,470.83 L278.6,471 L279.1,471.18 L279.6,471.37 L280.1,471.58 L280.6,471.81 L281.1,472.05 L281.6,472.32 L282.1,472.62 L282.6,472.94 L283.1,473.3 L283.6,473.69 L284.1,474.12 L284.6,474.61 L285.1,475.15 L285.6,475.76 L286.1,476.45 L286.6,477.23 L287.1,478.11 L287.6,479.12 L288.1,480.29 L288.6,481.64 L289.1,483.2 L289.6,485.03 L290.1,487.16 L290.6,489.67 L291.1,492.6 L291.6,496.01 L292.1,499.94 L292.6,504.39 L293.1,509.23 L293.6,514.24 L294.1,518.98 L294.6,522.85 L295.1,525.21 L295.6,525.62 L296.1,524.03 L296.6,520.83 L297.1,516.63 L297.6,512.06 L298.1,507.59 L298.6,503.5 L299.1,499.93 L299.6,496.9 L300.1,494.38 L300.6,492.33 L301.1,490.69 L301.6,489.4 L302.1,488.42 L302.6,487.71 L303.1,487.24 L303.6,486.98 L304.1,486.91 L304.6,487.03 L305.1,487.33 L305.6,487.79 L306.1,488.42 L306.6,489.22 L307.1,490.2 L307.6,491.37 L308.1,492.72 L308.6,494.27 L309.1,496.03 L309.6,498 L310.1,500.18 L310.6,502.58 L311.1,505.17 L311.6,507.92 L312.1,510.77 L312.6,513.67 L313.1,516.49 L313.6,519.12 L314.1,521.41 L314.6,523.21 L315.1,524.39 L315.6,524.85 L316.1,524.54 L316.6,523.48 L317.1,521.75 L317.6,519.48 L318.1,516.8 L318.6,513.86 L319.1,510.81 L319.6,507.74 L320.1,504.74 L320.6,501.87 L321.1,499.18 L321.6,496.67 L322.1,494.36 L322.6,492.24 L323.1,490.31 L323.6,488.55 L324.1,486.96 L324.6,485.51 L325.1,484.19 L325.6,483 L326.1,481.92 L326.6,480.93 L327.1,480.04 L327.6,479.22 L328.1,478.47 L328.6,477.79 L329.1,477.16 L329.6,476.59 L330.1,476.06 L330.6,475.57 L331.1,475.12 L331.6,474.71 L332.1,474.33 L332.6,473.97 L333.1,473.64 L333.6,473.33 L334.1,473.05 L334.6,472.78 L335.1,472.53 L335.6,472.3 L336.1,472.08 L336.6,471.87 L337.1,471.68 L337.6,471.5 L338.1,471.33 L338.6,471.17 L339.1,471.02 L339.6,470.88 L340.1,470.74 L340.6,470.61 L341.1,470.49 L341.6,470.38 L342.1,470.27 L342.6,470.17 L343.1,470.07 L343.6,469.97 L344.1,469.89 L344.6,469.8 L345.1,469.72 L345.6,469.64 L346.1,469.57 L346.6,469.5 L347.1,469.43 L347.6,469.37 L348.1,469.31 L348.6,469.25 L349.1,469.19 L349.6,469.14 L350.1,469.09 L350.6,469.04 L351.1,468.99 L351.6,468.94 L352.1,468.9 L352.6,468.86 L353.1,468.81 L353.6,468.78 L354.1,468.74 L354.6,468.7 L355.1,468.66 L355.6,468.63 L356.1,468.6 L356.6,468.57 L357.1,468.54 L357.6,468.51 L358.1,468.48 L358.6,468.45 L359.1,468.42 L359.6,468.4 L360.1,468.37 L360.6,468.35 L361.1,468.32 L361.6,468.3 L362.1,468.28 L362.6,468.26 L363.1,468.24 L363.6,468.22 L364.1,468.2 L364.6,468.18 L365.1,468.16 L365.6,468.14 L366.1,468.12 L366.6,468.11 L367.1,468.09 L367.6,468.07 L368.1,468.06 L368.6,468.04 L369.1,468.03 L369.6,468.01 L370.1,468 L370.6,467.98 L371.1,467.97 L371.6,467.96 L372.1,467.95 L372.6,467.93 L373.1,467.92 L373.6,467.91 L374.1,467.9 L374.6,467.89 L375.1,467.88 L375.6,467.86 L375.6,467.2 Z" fill="#2040f0" stroke="none"/>
<path d="M214.6,467.2 L214.6,467.49 L215.1,467.49 L215.6,467.5 L216.1,467.5 L216.6,467.5 L217.1,467.51 L217.6,467.51 L218.1,467.52 L218.6,467.52 L219.1,467.52 L219.6,467.53 L220.1,467.53 L220.6,467.54 L221.1,467.54 L221.6,467.55 L222.1,467.55 L222.6,467.55 L223.1,467.56 L223.6,467.56 L224.1,467.57 L224.6,467.57 L225.1,467.58 L225.6,467.59 L226.1,467.59 L226.6,467.6 L227.1,467.6 L227.6,467.61 L228.1,467.61 L228.6,467.62 L229.1,467.63 L229.6,467.63 L230.1,467.64 L230.6,467.65 L231.1,467.65 L231.6,467.66 L232.1,467.67 L232.6,467.67 L233.1,467.68 L233.6,467.69 L234.1,467.7 L234.6,467.71 L235.1,467.71 L235.6,467.72 L236.1,467.73 L236.6,467.74 L237.1,467.75 L237.6,467.76 L238.1,467.77 L238.6,467.78 L239.1,467.79 L239.6,467.8 L240.1,467.81 L240.6,467.82 L241.1,467.83 L241.6,467.84 L242.1,467.86 L242.6,467.87 L243.1,467.88 L243.6,467.89 L244.1,467.91 L244.6,467.92 L245.1,467.94 L245.6,467.95 L246.1,467.97 L246.6,467.98 L247.1,468 L247.6,468.01 L248.1,468.03 L248.6,468.05 L249.1,468.07 L249.6,468.09 L250.1,468.11 L250.6,468.13 L251.1,468.15 L251.6,468.17 L252.1,468.19 L252.6,468.21 L253.1,468.24 L253.6,468.26 L254.1,468.29 L254.6,468.31 L255.1,468.34 L255.6,468.37 L256.1,468.4 L256.6,468.43 L257.1,468.46 L257.6,468.5 L258.1,468.53 L258.6,468.57 L259.1,468.61 L259.6,468.65 L260.1,468.69 L260.6,468.73 L261.1,468.77 L261.6,468.82 L262.1,468.87 L262.6,468.92 L263.1,468.98 L263.6,469.03 L264.1,469.09 L264.6,469.15 L265.1,469.22 L265.6,469.29 L266.1,469.36 L266.6,469.44 L267.1,469.52 L267.6,469.6 L268.1,469.69 L268.6,469.79 L269.1,469.89 L269.6,469.99 L270.1,470.11 L270.6,470.23 L271.1,470.36 L271.6,470.49 L272.1,470.64 L272.6,470.8 L273.1,470.96 L273.6,471.14 L274.1,471.33 L274.6,471.54 L275.1,471.76 L275.6,472 L276.1,472.26 L276.6,472.55 L277.1,472.85 L277.6,473.18 L278.1,473.55 L278.6,473.94 L279.1,474.38 L279.6,474.85 L280.1,475.38 L280.6,475.96 L281.1,476.59 L281.6,477.3 L282.1,478.09 L282.6,478.96 L283.1,479.93 L283.6,481.02 L284.1,482.23 L284.6,483.58 L285.1,485.09 L285.6,486.76 L286.1,488.61 L286.6,490.65 L287.1,492.86 L287.6,495.24 L288.1,497.72 L288.6,500.26 L289.1,502.74 L289.6,505.03 L290.1,506.99 L290.6,508.46 L291.1,509.34 L291.6,509.54 L292.1,509.09 L292.6,508.06 L293.1,506.6 L293.6,504.85 L294.1,502.97 L294.6,501.1 L295.1,499.33 L295.6,497.75 L296.1,496.38 L296.6,495.27 L297.1,494.43 L297.6,493.87 L298.1,493.59 L298.6,493.58 L299.1,493.87 L299.6,494.44 L300.1,495.29 L300.6,496.42 L301.1,497.83 L301.6,499.47 L302.1,501.31 L302.6,503.26 L303.1,505.22 L303.6,507.02 L304.1,508.51 L304.6,509.51 L305.1,509.86 L305.6,509.5 L306.1,508.43 L306.6,506.73 L307.1,504.55 L307.6,502.07 L308.1,499.45 L308.6,496.82 L309.1,494.28 L309.6,491.88 L310.1,489.68 L310.6,487.67 L311.1,485.85 L311.6,484.23 L312.1,482.77 L312.6,481.47 L313.1,480.31 L313.6,479.28 L314.1,478.35 L314.6,477.52 L315.1,476.78 L315.6,476.11 L316.1,475.51 L316.6,474.96 L317.1,474.47 L317.6,474.02 L318.1,473.61 L318.6,473.24 L319.1,472.89 L319.6,472.58 L320.1,472.29 L320.6,472.03 L321.1,471.78 L321.6,471.56 L322.1,471.35 L322.6,471.15 L323.1,470.97 L323.6,470.8 L324.1,470.64 L324.6,470.49 L325.1,470.36 L325.6,470.23 L326.1,470.11 L326.6,469.99 L327.1,469.88 L327.6,469.78 L328.1,469.69 L328.6,469.6 L329.1,469.51 L329.6,469.43 L330.1,469.35 L330.6,469.28 L331.1,469.21 L331.6,469.15 L332.1,469.09 L332.6,469.03 L333.1,468.97 L333.6,468.92 L334.1,468.86 L334.6,468.82 L335.1,468.77 L335.6,468.72 L336.1,468.68 L336.6,468.64 L337.1,468.6 L337.6,468.56 L338.1,468.53 L338.6,468.49 L339.1,468.46 L339.6,468.43 L340.1,468.4 L340.6,468.37 L341.1,468.34 L341.6,468.31 L342.1,468.28 L342.6,468.26 L343.1,468.23 L343.6,468.21 L344.1,468.19 L344.6,468.16 L345.1,468.14 L345.6,468.12 L346.1,468.1 L346.6,468.08 L347.1,468.06 L347.6,468.05 L348.1,468.03 L348.6,468.01 L349.1,467.99 L349.6,467.98 L350.1,467.96 L350.6,467.95 L351.1,467.93 L351.6,467.92 L352.1,467.9 L352.6,467.89 L353.1,467.88 L353.6,467.87 L354.1,467.85 L354.6,467.84 L355.1,467.83 L355.6,467.82 L356.1,467.81 L356.6,467.8 L357.1,467.79 L357.6,467.78 L358.1,467.77 L358.6,467.76 L359.1,467.75 L359.6,467.74 L360.1,467.73 L360.6,467.72 L361.1,467.71 L361.6,467.7 L362.1,467.7 L362.6,467.69 L363.1,467.68 L363.6,467.67 L364.1,467.67 L364.6,467.66 L365.1,467.65 L365.6,467.64 L366.1,467.64 L366.6,467.63 L367.1,467.63 L367.6,467.62 L368.1,467.61 L368.6,467.61 L369.1,467.6 L369.6,467.6 L370.1,467.59 L370.6,467.58 L371.1,467.58 L371.6,467.57 L372.1,467.57 L372.6,467.56 L373.1,467.56 L373.6,467.55 L374.1,467.55 L374.6,467.54 L375.1,467.54 L375.6,467.54 L375.6,467.2 Z" fill="#f01820" stroke="none"/>
<path d="M214.6,467.21 L215.1,467.21 L215.6,467.21 L216.1,467.21 L216.6,467.21 L217.1,467.21 L217.6,467.21 L218.1,467.21 L218.6,467.21 L219.1,467.21 L219.6,467.21 L220.1,467.21 L220.6,467.21 L221.1,467.21 L221.6,467.21 L222.1,467.21 L222.6,467.21 L223.1,467.21 L223.6,467.21 L224.1,467.21 L224.6,467.21 L225.1,467.21 L225.6,467.21 L226.1,467.21 L226.6,467.21 L227.1,467.21 L227.6,467.21 L228.1,467.21 L228.6,467.21 L229.1,467.22 L229.6,467.22 L230.1,467.22 L230.6,467.22 L231.1,467.22 L231.6,467.22 L232.1,467.22 L232.6,467.22 L233.1,467.22 L233.6,467.22 L234.1,467.22 L234.6,467.22 L235.1,467.22 L235.6,467.22 L236.1,467.22 L236.6,467.22 L237.1,467.22 L237.6,467.22 L238.1,467.22 L238.6,467.22 L239.1,467.22 L239.6,467.22 L240.1,467.22 L240.6,467.22 L241.1,467.22 L241.6,467.22 L242.1,467.22 L242.6,467.22 L243.1,467.22 L243.6,467.22 L244.1,467.22 L244.6,467.22 L245.1,467.23 L245.6,467.23 L246.1,467.23 L246.6,467.23 L247.1,467.23 L247.6,467.23 L248.1,467.23 L248.6,467.23 L249.1,467.23 L249.6,467.23 L250.1,467.23 L250.6,467.23 L251.1,467.23 L251.6,467.23 L252.1,467.23 L252.6,467.23 L253.1,467.23 L253.6,467.23 L254.1,467.24 L254.6,467.24 L255.1,467.24 L255.6,467.24 L256.1,467.24 L256.6,467.24 L257.1,467.24 L257.6,467.24 L258.1,467.24 L258.6,467.24 L259.1,467.24 L259.6,467.25 L260.1,467.25 L260.6,467.25 L261.1,467.25 L261.6,467.25 L262.1,467.25 L262.6,467.25 L263.1,467.25 L263.6,467.26 L264.1,467.26 L264.6,467.26 L265.1,467.26 L265.6,467.26 L266.1,467.26 L266.6,467.27 L267.1,467.27 L267.6,467.27 L268.1,467.27 L268.6,467.28 L269.1,467.28 L269.6,467.28 L270.1,467.28 L270.6,467.29 L271.1,467.29 L271.6,467.29 L272.1,467.29 L272.6,467.3 L273.1,467.3 L273.6,467.31 L274.1,467.31 L274.6,467.31 L275.1,467.32 L275.6,467.32 L276.1,467.33 L276.6,467.33 L277.1,467.34 L277.6,467.35 L278.1,467.35 L278.6,467.36 L279.1,467.37 L279.6,467.37 L280.1,467.38 L280.6,467.39 L281.1,467.4 L281.6,467.41 L282.1,467.42 L282.6,467.44 L283.1,467.45 L283.6,467.46 L284.1,467.48 L284.6,467.5 L285.1,467.52 L285.6,467.54 L286.1,467.56 L286.6,467.59 L287.1,467.61 L287.6,467.65 L288.1,467.68 L288.6,467.72 L289.1,467.76 L289.6,467.82 L290.1,467.87 L290.6,467.94 L291.1,468.01 L291.6,468.1 L292.1,468.2 L292.6,468.32 L293.1,468.47 L293.6,468.64 L294.1,468.84 L294.6,469.1 L295.1,469.41 L295.6,469.8 L296.1,470.29 L296.6,470.92 L297.1,471.73 L297.6,472.8 L298.1,474.18 L298.6,475.96 L299.1,478.12 L299.6,480.46 L300.1,482.41 L300.6,483.2 L301.1,482.41 L301.6,480.46 L302.1,478.12 L302.6,475.96 L303.1,474.18 L303.6,472.8 L304.1,471.73 L304.6,470.92 L305.1,470.29 L305.6,469.8 L306.1,469.41 L306.6,469.1 L307.1,468.84 L307.6,468.64 L308.1,468.47 L308.6,468.32 L309.1,468.2 L309.6,468.1 L310.1,468.01 L310.6,467.94 L311.1,467.87 L311.6,467.82 L312.1,467.76 L312.6,467.72 L313.1,467.68 L313.6,467.65 L314.1,467.61 L314.6,467.59 L315.1,467.56 L315.6,467.54 L316.1,467.52 L316.6,467.5 L317.1,467.48 L317.6,467.46 L318.1,467.45 L318.6,467.44 L319.1,467.42 L319.6,467.41 L320.1,467.4 L320.6,467.39 L321.1,467.38 L321.6,467.37 L322.1,467.37 L322.6,467.36 L323.1,467.35 L323.6,467.35 L324.1,467.34 L324.6,467.33 L325.1,467.33 L325.6,467.32 L326.1,467.32 L326.6,467.31 L327.1,467.31 L327.6,467.31 L328.1,467.3 L328.6,467.3 L329.1,467.29 L329.6,467.29 L330.1,467.29 L330.6,467.29 L331.1,467.28 L331.6,467.28 L332.1,467.28 L332.6,467.28 L333.1,467.27 L333.6,467.27 L334.1,467.27 L334.6,467.27 L335.1,467.26 L335.6,467.26 L336.1,467.26 L336.6,467.26 L337.1,467.26 L337.6,467.26 L338.1,467.25 L338.6,467.25 L339.1,467.25 L339.6,467.25 L340.1,467.25 L340.6,467.25 L341.1,467.25 L341.6,467.25 L342.1,467.24 L342.6,467.24 L343.1,467.24 L343.6,467.24 L344.1,467.24 L344.6,467.24 L345.1,467.24 L345.6,467.24 L346.1,467.24 L346.6,467.24 L347.1,467.24 L347.6,467.23 L348.1,467.23 L348.6,467.23 L349.1,467.23 L349.6,467.23 L350.1,467.23 L350.6,467.23 L351.1,467.23 L351.6,467.23 L352.1,467.23 L352.6,467.23 L353.1,467.23 L353.6,467.23 L354.1,467.23 L354.6,467.23 L355.1,467.23 L355.6,467.23 L356.1,467.23 L356.6,467.22 L357.1,467.22 L357.6,467.22 L358.1,467.22 L358.6,467.22 L359.1,467.22 L359.6,467.22 L360.1,467.22 L360.6,467.22 L361.1,467.22 L361.6,467.22 L362.1,467.22 L362.6,467.22 L363.1,467.22 L363.6,467.22 L364.1,467.22 L364.6,467.22 L365.1,467.22 L365.6,467.22 L366.1,467.22 L366.6,467.22 L367.1,467.22 L367.6,467.22 L368.1,467.22 L368.6,467.22 L369.1,467.22 L369.6,467.22 L370.1,467.22 L370.6,467.22 L371.1,467.22 L371.6,467.22 L372.1,467.22 L372.6,467.21 L373.1,467.21 L373.6,467.21 L374.1,467.21 L374.6,467.21 L375.1,467.21 L375.6,467.21" fill="#fff" stroke="#88e8d0" stroke-width="1.2"/>
<path d="M214.6,467.7C221.33,467.8 246.6,468 255,468.3C263.4,468.6 261.67,467.97 265,469.5C268.33,471.03 272.07,472.08 275,477.5C277.93,482.92 280.6,494.08 282.6,502C284.6,509.92 285.68,517.83 287,525C288.32,532.17 289.32,540.25 290.5,545C291.68,549.75 293.02,553.83 294.1,553.5C295.18,553.17 296.02,547.42 297,543C297.98,538.58 299.08,531.5 300,527C300.92,522.5 301.67,518.33 302.5,516C303.33,513.67 304.17,512.5 305,513C305.83,513.5 306.67,518.33 307.5,519C308.33,519.67 309.08,516 310,517C310.92,518 312.12,522.52 313,525C313.88,527.48 314.47,532.73 315.3,531.9C316.13,531.07 317.05,525.32 318,520C318.95,514.68 319.83,506.17 321,500C322.17,493.83 323.5,487.37 325,483C326.5,478.63 327.5,476.13 330,473.8C332.5,471.47 335.83,470 340,469C344.17,468 349.07,468.05 355,467.8C360.93,467.55 372.17,467.55 375.6,467.5" fill="none" stroke="#222" stroke-width="0.6" />
<rect x="215.18" y="9.36" width="1.6" height="1.6" fill="#000"/>
<rect x="216.03" y="18.97" width="1.6" height="1.6" fill="#000"/>
<rect x="216.9" y="21.14" width="1.6" height="1.6" fill="#000"/>
<rect x="217.74" y="22.73" width="1.6" height="1.6" fill="#000"/>
<rect x="218.67" y="26.13" width="1.6" height="1.6" fill="#000"/>
<rect x="219.24" y="22.03" width="1.6" height="1.6" fill="#000"/>
<rect x="219.9" y="29.47" width="1.6" height="1.6" fill="#000"/>
<rect x="220.69" y="14.53" width="1.6" height="1.6" fill="#000"/>
<rect x="222.32" y="35.93" width="1.6" height="1.6" fill="#000"/>
<rect x="222.85" y="22.87" width="1.6" height="1.6" fill="#000"/>
<rect x="223.3" y="34.43" width="1.6" height="1.6" fill="#000"/>
<rect x="224.06" y="26.15" width="1.6" height="1.6" fill="#000"/>
<rect x="225" y="25.38" width="1.6" height="1.6" fill="#000"/>
<rect x="226.07" y="27.15" width="1.6" height="1.6" fill="#000"/>
<rect x="226.88" y="30.28" width="1.6" height="1.6" fill="#000"/>
<rect x="227.89" y="17.72" width="1.6" height="1.6" fill="#000"/>
<rect x="228.61" y="20.98" width="1.6" height="1.6" fill="#000"/>
<rect x="229.26" y="18.25" width="1.6" height="1.6" fill="#000"/>
<rect x="230.7" y="39.69" width="1.6" height="1.6" fill="#000"/>
<rect x="231.29" y="24.95" width="1.6" height="1.6" fill="#000"/>
<rect x="231.8" y="26.13" width="1.6" height="1.6" fill="#000"/>
<rect x="232.43" y="31.49" width="1.6" height="1.6" fill="#000"/>
<rect x="233.85" y="13.59" width="1.6" height="1.6" fill="#000"/>
<rect x="234.37" y="33.87" width="1.6" height="1.6" fill="#000"/>
<rect x="235.69" y="25.52" width="1.6" height="1.6" fill="#000"/>
<rect x="235.9" y="25.18" width="1.6" height="1.6" fill="#000"/>
<rect x="237.32" y="4.74" width="1.6" height="1.6" fill="#000"/>
<rect x="237.73" y="29.34" width="1.6" height="1.6" fill="#000"/>
<rect x="238.29" y="16.46" width="1.6" height="1.6" fill="#000"/>
<rect x="239.29" y="15.96" width="1.6" height="1.6" fill="#000"/>
<rect x="239.98" y="15.83" width="1.6" height="1.6" fill="#000"/>
<rect x="241.38" y="42.24" width="1.6" height="1.6" fill="#000"/>
<rect x="241.68" y="25.52" width="1.6" height="1.6" fill="#000"/>
<rect x="242.47" y="28.92" width="1.6" height="1.6" fill="#000"/>
<rect x="243.92" y="29.69" width="1.6" height="1.6" fill="#000"/>
<rect x="244.46" y="34.11" width="1.6" height="1.6" fill="#000"/>
<rect x="245.09" y="25.05" width="1.6" height="1.6" fill="#000"/>
<rect x="246.3" y="21.57" width="1.6" height="1.6" fill="#000"/>
<rect x="246.7" y="20.96" width="1.6" height="1.6" fill="#000"/>
<rect x="247.66" y="28.01" width="1.6" height="1.6" fill="#000"/>
<rect x="249.09" y="27.67" width="1.6" height="1.6" fill="#000"/>
<rect x="249.85" y="19.55" width="1.6" height="1.6" fill="#000"/>
<rect x="250.12" y="14" width="1.6" height="1.6" fill="#000"/>
<rect x="251.32" y="34.7" width="1.6" height="1.6" fill="#000"/>
<rect x="251.71" y="30.82" width="1.6" height="1.6" fill="#000"/>
<rect x="252.67" y="25.31" width="1.6" height="1.6" fill="#000"/>
<rect x="253.94" y="22.7" width="1.6" height="1.6" fill="#000"/>
<rect x="254.19" y="31.23" width="1.6" height="1.6" fill="#000"/>
<rect x="255.04" y="20.88" width="1.6" height="1.6" fill="#000"/>
<rect x="256.31" y="23.02" width="1.6" height="1.6" fill="#000"/>
<rect x="256.95" y="7.68" width="1.6" height="1.6" fill="#000"/>
<rect x="257.88" y="31.38" width="1.6" height="1.6" fill="#000"/>
<rect x="258.8" y="29.14" width="1.6" height="1.6" fill="#000"/>
<rect x="259.28" y="22.45" width="1.6" height="1.6" fill="#000"/>
<rect x="260.75" y="28.52" width="1.6" height="1.6" fill="#000"/>
<rect x="260.99" y="21.03" width="1.6" height="1.6" fill="#000"/>
<rect x="262.28" y="31.15" width="1.6" height="1.6" fill="#000"/>
<rect x="263.3" y="25.08" width="1.6" height="1.6" fill="#000"/>
<rect x="264.08" y="20.91" width="1.6" height="1.6" fill="#000"/>
<rect x="264.26" y="22.47" width="1.6" height="1.6" fill="#000"/>
<rect x="265.04" y="32.86" width="1.6" height="1.6" fill="#000"/>
<rect x="266.44" y="26.72" width="1.6" height="1.6" fill="#000"/>
<rect x="266.9" y="32.71" width="1.6" height="1.6" fill="#000"/>
<rect x="267.77" y="19.57" width="1.6" height="1.6" fill="#000"/>
<rect x="268.5" y="28.46" width="1.6" height="1.6" fill="#000"/>
<rect x="269.39" y="26.68" width="1.6" height="1.6" fill="#000"/>
<rect x="270.5" y="36.36" width="1.6" height="1.6" fill="#000"/>
<rect x="271.1" y="22.28" width="1.6" height="1.6" fill="#000"/>
<rect x="272.47" y="31.88" width="1.6" height="1.6" fill="#000"/>
<rect x="272.77" y="33" width="1.6" height="1.6" fill="#000"/>
<rect x="273.75" y="36.68" width="1.6" height="1.6" fill="#000"/>
<rect x="274.52" y="34.65" width="1.6" height="1.6" fill="#000"/>
<rect x="275.53" y="38.7" width="1.6" height="1.6" fill="#000"/>
<rect x="276.64" y="40.66" width="1.6" height="1.6" fill="#000"/>
<rect x="277.55" y="30.82" width="1.6" height="1.6" fill="#000"/>
<rect x="278.05" y="28.71" width="1.6" height="1.6" fill="#000"/>
<rect x="278.52" y="40.92" width="1.6" height="1.6" fill="#000"/>
<rect x="280" y="44.48" width="1.6" height="1.6" fill="#000"/>
<rect x="280.66" y="48.12" width="1.6" height="1.6" fill="#000"/>
<rect x="281.44" y="49.37" width="1.6" height="1.6" fill="#000"/>
<rect x="282.15" y="51.95" width="1.6" height="1.6" fill="#000"/>
<rect x="283.42" y="52.17" width="1.6" height="1.6" fill="#000"/>
<rect x="283.48" y="47.27" width="1.6" height="1.6" fill="#000"/>
<rect x="285.01" y="63.56" width="1.6" height="1.6" fill="#000"/>
<rect x="285.71" y="67.26" width="1.6" height="1.6" fill="#000"/>
<rect x="286.7" y="64.66" width="1.6" height="1.6" fill="#000"/>
<rect x="287.06" y="73.8" width="1.6" height="1.6" fill="#000"/>
<rect x="288.33" y="77.41" width="1.6" height="1.6" fill="#000"/>
<rect x="288.79" y="99.9" width="1.6" height="1.6" fill="#000"/>
<rect x="289.76" y="88.6" width="1.6" height="1.6" fill="#000"/>
<rect x="290.64" y="99" width="1.6" height="1.6" fill="#000"/>
<rect x="291.46" y="110.84" width="1.6" height="1.6" fill="#000"/>
<rect x="291.86" y="86.54" width="1.6" height="1.6" fill="#000"/>
<rect x="293.36" y="70.57" width="1.6" height="1.6" fill="#000"/>
<rect x="294.07" y="72" width="1.6" height="1.6" fill="#000"/>
<rect x="294.79" y="83.19" width="1.6" height="1.6" fill="#000"/>
<rect x="295.51" y="72.19" width="1.6" height="1.6" fill="#000"/>
<rect x="296.6" y="61.34" width="1.6" height="1.6" fill="#000"/>
<rect x="296.84" y="55.84" width="1.6" height="1.6" fill="#000"/>
<rect x="297.84" y="52.59" width="1.6" height="1.6" fill="#000"/>
<rect x="299.07" y="42.52" width="1.6" height="1.6" fill="#000"/>
<rect x="300.09" y="50.13" width="1.6" height="1.6" fill="#000"/>
<rect x="300.37" y="55.6" width="1.6" height="1.6" fill="#000"/>
<rect x="301.56" y="47.76" width="1.6" height="1.6" fill="#000"/>
<rect x="302" y="54.84" width="1.6" height="1.6" fill="#000"/>
<rect x="303.22" y="60.87" width="1.6" height="1.6" fill="#000"/>
<rect x="303.88" y="52.11" width="1.6" height="1.6" fill="#000"/>
<rect x="304.9" y="44.27" width="1.6" height="1.6" fill="#000"/>
<rect x="305.35" y="37.21" width="1.6" height="1.6" fill="#000"/>
<rect x="306.78" y="60.45" width="1.6" height="1.6" fill="#000"/>
<rect x="307.59" y="51.13" width="1.6" height="1.6" fill="#000"/>
<rect x="307.95" y="67.01" width="1.6" height="1.6" fill="#000"/>
<rect x="308.64" y="49.8" width="1.6" height="1.6" fill="#000"/>
<rect x="310.07" y="72.81" width="1.6" height="1.6" fill="#000"/>
<rect x="310.8" y="83.15" width="1.6" height="1.6" fill="#000"/>
<rect x="311.18" y="78.73" width="1.6" height="1.6" fill="#000"/>
<rect x="312.25" y="91.26" width="1.6" height="1.6" fill="#000"/>
<rect x="313.06" y="103.92" width="1.6" height="1.6" fill="#000"/>
<rect x="314.07" y="98.09" width="1.6" height="1.6" fill="#000"/>
<rect x="315.09" y="105.62" width="1.6" height="1.6" fill="#000"/>
<rect x="316.04" y="98.05" width="1.6" height="1.6" fill="#000"/>
<rect x="316.08" y="101.46" width="1.6" height="1.6" fill="#000"/>
<rect x="317.63" y="97.94" width="1.6" height="1.6" fill="#000"/>
<rect x="318.21" y="83.36" width="1.6" height="1.6" fill="#000"/>
<rect x="318.83" y="75.37" width="1.6" height="1.6" fill="#000"/>
<rect x="319.52" y="68.17" width="1.6" height="1.6" fill="#000"/>
<rect x="320.62" y="75.15" width="1.6" height="1.6" fill="#000"/>
<rect x="321.28" y="58.74" width="1.6" height="1.6" fill="#000"/>
<rect x="322.03" y="61.72" width="1.6" height="1.6" fill="#000"/>
<rect x="323.13" y="48.69" width="1.6" height="1.6" fill="#000"/>
<rect x="324.12" y="33.96" width="1.6" height="1.6" fill="#000"/>
<rect x="325.23" y="27.21" width="1.6" height="1.6" fill="#000"/>
<rect x="325.84" y="39.92" width="1.6" height="1.6" fill="#000"/>
<rect x="326.25" y="44.56" width="1.6" height="1.6" fill="#000"/>
<rect x="326.95" y="23.73" width="1.6" height="1.6" fill="#000"/>
<rect x="327.92" y="36.17" width="1.6" height="1.6" fill="#000"/>
<rect x="328.84" y="26.35" width="1.6" height="1.6" fill="#000"/>
<rect x="329.88" y="41.07" width="1.6" height="1.6" fill="#000"/>
<rect x="330.8" y="30.81" width="1.6" height="1.6" fill="#000"/>
<rect x="331.78" y="22.38" width="1.6" height="1.6" fill="#000"/>
<rect x="332.72" y="44.37" width="1.6" height="1.6" fill="#000"/>
<rect x="333.4" y="38.34" width="1.6" height="1.6" fill="#000"/>
<rect x="333.74" y="19.09" width="1.6" height="1.6" fill="#000"/>
<rect x="335.23" y="31.72" width="1.6" height="1.6" fill="#000"/>
<rect x="335.62" y="14.57" width="1.6" height="1.6" fill="#000"/>
<rect x="336.81" y="21.79" width="1.6" height="1.6" fill="#000"/>
<rect x="337.77" y="17.41" width="1.6" height="1.6" fill="#000"/>
<rect x="337.99" y="30.42" width="1.6" height="1.6" fill="#000"/>
<rect x="339.26" y="32.15" width="1.6" height="1.6" fill="#000"/>
<rect x="340.09" y="17.73" width="1.6" height="1.6" fill="#000"/>
<rect x="340.5" y="44.44" width="1.6" height="1.6" fill="#000"/>
<rect x="341.98" y="14.78" width="1.6" height="1.6" fill="#000"/>
<rect x="342.45" y="28.74" width="1.6" height="1.6" fill="#000"/>
<rect x="343.6" y="20.51" width="1.6" height="1.6" fill="#000"/>
<rect x="344.39" y="24.97" width="1.6" height="1.6" fill="#000"/>
<rect x="344.88" y="29.25" width="1.6" height="1.6" fill="#000"/>
<rect x="345.81" y="27.57" width="1.6" height="1.6" fill="#000"/>
<rect x="346.21" y="17.91" width="1.6" height="1.6" fill="#000"/>
<rect x="347.7" y="38.74" width="1.6" height="1.6" fill="#000"/>
<rect x="348" y="31.6" width="1.6" height="1.6" fill="#000"/>
<rect x="348.98" y="27.2" width="1.6" height="1.6" fill="#000"/>
<rect x="349.66" y="22.16" width="1.6" height="1.6" fill="#000"/>
<rect x="350.8" y="23.71" width="1.6" height="1.6" fill="#000"/>
<rect x="351.78" y="11.86" width="1.6" height="1.6" fill="#000"/>
<rect x="352.83" y="7.65" width="1.6" height="1.6" fill="#000"/>
<rect x="352.95" y="26.78" width="1.6" height="1.6" fill="#000"/>
<rect x="353.9" y="19.76" width="1.6" height="1.6" fill="#000"/>
<rect x="355.16" y="24.79" width="1.6" height="1.6" fill="#000"/>
<rect x="355.92" y="11.49" width="1.6" height="1.6" fill="#000"/>
<rect x="356.69" y="23.69" width="1.6" height="1.6" fill="#000"/>
<rect x="357.32" y="15.09" width="1.6" height="1.6" fill="#000"/>
<rect x="358.65" y="35.51" width="1.6" height="1.6" fill="#000"/>
<rect x="358.91" y="37.33" width="1.6" height="1.6" fill="#000"/>
<rect x="360.01" y="9.73" width="1.6" height="1.6" fill="#000"/>
<rect x="360.89" y="28.41" width="1.6" height="1.6" fill="#000"/>
<rect x="361.67" y="34.42" width="1.6" height="1.6" fill="#000"/>
<rect x="362.59" y="45.04" width="1.6" height="1.6" fill="#000"/>
<rect x="363.35" y="28.95" width="1.6" height="1.6" fill="#000"/>
<rect x="364.09" y="28.54" width="1.6" height="1.6" fill="#000"/>
<rect x="365.01" y="16.31" width="1.6" height="1.6" fill="#000"/>
<rect x="366.01" y="33.98" width="1.6" height="1.6" fill="#000"/>
<rect x="366.61" y="29.18" width="1.6" height="1.6" fill="#000"/>
<rect x="367.91" y="30.65" width="1.6" height="1.6" fill="#000"/>
<rect x="368.34" y="22.63" width="1.6" height="1.6" fill="#000"/>
<rect x="368.89" y="12.75" width="1.6" height="1.6" fill="#000"/>
<rect x="370.37" y="30.91" width="1.6" height="1.6" fill="#000"/>
<rect x="370.85" y="23.31" width="1.6" height="1.6" fill="#000"/>
<rect x="371.81" y="29.75" width="1.6" height="1.6" fill="#000"/>
<rect x="372.9" y="34.21" width="1.6" height="1.6" fill="#000"/>
<rect x="372.98" y="34.73" width="1.6" height="1.6" fill="#000"/>
<rect x="214.96" y="124.63" width="1.6" height="1.6" fill="#000"/>
<rect x="215.91" y="133.05" width="1.6" height="1.6" fill="#000"/>
<rect x="216.77" y="121.03" width="1.6" height="1.6" fill="#000"/>
<rect x="217.92" y="121.19" width="1.6" height="1.6" fill="#000"/>
<rect x="218.25" y="118.37" width="1.6" height="1.6" fill="#000"/>
<rect x="219.15" y="122.98" width="1.6" height="1.6" fill="#000"/>
<rect x="220.26" y="117.51" width="1.6" height="1.6" fill="#000"/>
<rect x="221" y="125.78" width="1.6" height="1.6" fill="#000"/>
<rect x="221.94" y="125.72" width="1.6" height="1.6" fill="#000"/>
<rect x="222.86" y="127.08" width="1.6" height="1.6" fill="#000"/>
<rect x="223.7" y="110.92" width="1.6" height="1.6" fill="#000"/>
<rect x="224.52" y="121.06" width="1.6" height="1.6" fill="#000"/>
<rect x="225.56" y="124.59" width="1.6" height="1.6" fill="#000"/>
<rect x="226.36" y="134.06" width="1.6" height="1.6" fill="#000"/>
<rect x="227.27" y="121.18" width="1.6" height="1.6" fill="#000"/>
<rect x="228.12" y="128.65" width="1.6" height="1.6" fill="#000"/>
<rect x="228.37" y="137.07" width="1.6" height="1.6" fill="#000"/>
<rect x="229.14" y="123.35" width="1.6" height="1.6" fill="#000"/>
<rect x="230.06" y="122.77" width="1.6" height="1.6" fill="#000"/>
<rect x="230.78" y="118.54" width="1.6" height="1.6" fill="#000"/>
<rect x="232.23" y="113.43" width="1.6" height="1.6" fill="#000"/>
<rect x="232.48" y="128.99" width="1.6" height="1.6" fill="#000"/>
<rect x="233.55" y="123.09" width="1.6" height="1.6" fill="#000"/>
<rect x="234.22" y="122.46" width="1.6" height="1.6" fill="#000"/>
<rect x="235.46" y="138.12" width="1.6" height="1.6" fill="#000"/>
<rect x="235.82" y="114.6" width="1.6" height="1.6" fill="#000"/>
<rect x="236.98" y="124.05" width="1.6" height="1.6" fill="#000"/>
<rect x="237.97" y="116" width="1.6" height="1.6" fill="#000"/>
<rect x="238.39" y="126.47" width="1.6" height="1.6" fill="#000"/>
<rect x="239.1" y="125.02" width="1.6" height="1.6" fill="#000"/>
<rect x="240.37" y="115.34" width="1.6" height="1.6" fill="#000"/>
<rect x="240.86" y="122.96" width="1.6" height="1.6" fill="#000"/>
<rect x="241.73" y="127.32" width="1.6" height="1.6" fill="#000"/>
<rect x="243.24" y="135.74" width="1.6" height="1.6" fill="#000"/>
<rect x="244.03" y="125.75" width="1.6" height="1.6" fill="#000"/>
<rect x="244.89" y="125.16" width="1.6" height="1.6" fill="#000"/>
<rect x="245.31" y="124.4" width="1.6" height="1.6" fill="#000"/>
<rect x="246.15" y="118.13" width="1.6" height="1.6" fill="#000"/>
<rect x="247.03" y="115.94" width="1.6" height="1.6" fill="#000"/>
<rect x="247.45" y="127.67" width="1.6" height="1.6" fill="#000"/>
<rect x="248.86" y="126.26" width="1.6" height="1.6" fill="#000"/>
<rect x="249.49" y="120.58" width="1.6" height="1.6" fill="#000"/>
<rect x="250.57" y="120.5" width="1.6" height="1.6" fill="#000"/>
<rect x="250.92" y="126.46" width="1.6" height="1.6" fill="#000"/>
<rect x="252.05" y="137.79" width="1.6" height="1.6" fill="#000"/>
<rect x="253.13" y="125.48" width="1.6" height="1.6" fill="#000"/>
<rect x="253.88" y="130.06" width="1.6" height="1.6" fill="#000"/>
<rect x="254.47" y="117.19" width="1.6" height="1.6" fill="#000"/>
<rect x="255.47" y="105.78" width="1.6" height="1.6" fill="#000"/>
<rect x="256.48" y="123.86" width="1.6" height="1.6" fill="#000"/>
<rect x="256.86" y="133.5" width="1.6" height="1.6" fill="#000"/>
<rect x="258.13" y="118.81" width="1.6" height="1.6" fill="#000"/>
<rect x="259" y="113.1" width="1.6" height="1.6" fill="#000"/>
<rect x="259.89" y="132.42" width="1.6" height="1.6" fill="#000"/>
<rect x="260.57" y="126.01" width="1.6" height="1.6" fill="#000"/>
<rect x="261.17" y="113.93" width="1.6" height="1.6" fill="#000"/>
<rect x="262.27" y="130.67" width="1.6" height="1.6" fill="#000"/>
<rect x="262.89" y="128.15" width="1.6" height="1.6" fill="#000"/>
<rect x="263.35" y="120.1" width="1.6" height="1.6" fill="#000"/>
<rect x="264.7" y="133.73" width="1.6" height="1.6" fill="#000"/>
<rect x="265.2" y="135.7" width="1.6" height="1.6" fill="#000"/>
<rect x="266.13" y="123.83" width="1.6" height="1.6" fill="#000"/>
<rect x="267.24" y="120.48" width="1.6" height="1.6" fill="#000"/>
<rect x="267.85" y="124.74" width="1.6" height="1.6" fill="#000"/>
<rect x="269.19" y="122.85" width="1.6" height="1.6" fill="#000"/>
<rect x="269.83" y="121.9" width="1.6" height="1.6" fill="#000"/>
<rect x="270.85" y="139.72" width="1.6" height="1.6" fill="#000"/>
<rect x="271.49" y="132.84" width="1.6" height="1.6" fill="#000"/>
<rect x="271.92" y="130.39" width="1.6" height="1.6" fill="#000"/>
<rect x="272.71" y="134.36" width="1.6" height="1.6" fill="#000"/>
<rect x="273.69" y="138.62" width="1.6" height="1.6" fill="#000"/>
<rect x="274.97" y="139.6" width="1.6" height="1.6" fill="#000"/>
<rect x="275.51" y="120.74" width="1.6" height="1.6" fill="#000"/>
<rect x="276.36" y="138.55" width="1.6" height="1.6" fill="#000"/>
<rect x="277.56" y="134.42" width="1.6" height="1.6" fill="#000"/>
<rect x="277.63" y="133.22" width="1.6" height="1.6" fill="#000"/>
<rect x="278.9" y="145.85" width="1.6" height="1.6" fill="#000"/>
<rect x="280.02" y="147.49" width="1.6" height="1.6" fill="#000"/>
<rect x="280.21" y="146.31" width="1.6" height="1.6" fill="#000"/>
<rect x="281.33" y="155.45" width="1.6" height="1.6" fill="#000"/>
<rect x="282.26" y="173.71" width="1.6" height="1.6" fill="#000"/>
<rect x="282.94" y="168.43" width="1.6" height="1.6" fill="#000"/>
<rect x="283.86" y="163.7" width="1.6" height="1.6" fill="#000"/>
<rect x="284.5" y="170.04" width="1.6" height="1.6" fill="#000"/>
<rect x="285.64" y="179.12" width="1.6" height="1.6" fill="#000"/>
<rect x="286.53" y="190.84" width="1.6" height="1.6" fill="#000"/>
<rect x="287.02" y="202.33" width="1.6" height="1.6" fill="#000"/>
<rect x="287.64" y="203.6" width="1.6" height="1.6" fill="#000"/>
<rect x="288.57" y="211.52" width="1.6" height="1.6" fill="#000"/>
<rect x="290.03" y="215.38" width="1.6" height="1.6" fill="#000"/>
<rect x="290.74" y="242.49" width="1.6" height="1.6" fill="#000"/>
<rect x="291.74" y="226.27" width="1.6" height="1.6" fill="#000"/>
<rect x="291.85" y="225.24" width="1.6" height="1.6" fill="#000"/>
<rect x="293.03" y="207.11" width="1.6" height="1.6" fill="#000"/>
<rect x="294.28" y="200.95" width="1.6" height="1.6" fill="#000"/>
<rect x="295.08" y="201.91" width="1.6" height="1.6" fill="#000"/>
<rect x="295.74" y="170.64" width="1.6" height="1.6" fill="#000"/>
<rect x="296.66" y="184.15" width="1.6" height="1.6" fill="#000"/>
<rect x="297.32" y="182.52" width="1.6" height="1.6" fill="#000"/>
<rect x="298.03" y="177.47" width="1.6" height="1.6" fill="#000"/>
<rect x="298.65" y="176.08" width="1.6" height="1.6" fill="#000"/>
<rect x="299.43" y="168.33" width="1.6" height="1.6" fill="#000"/>
<rect x="300.53" y="159.11" width="1.6" height="1.6" fill="#000"/>
<rect x="301.21" y="154.77" width="1.6" height="1.6" fill="#000"/>
<rect x="302.32" y="149.4" width="1.6" height="1.6" fill="#000"/>
<rect x="303.11" y="164.22" width="1.6" height="1.6" fill="#000"/>
<rect x="304.34" y="169.06" width="1.6" height="1.6" fill="#000"/>
<rect x="304.54" y="156" width="1.6" height="1.6" fill="#000"/>
<rect x="305.27" y="168.87" width="1.6" height="1.6" fill="#000"/>
<rect x="306.54" y="156.29" width="1.6" height="1.6" fill="#000"/>
<rect x="307.15" y="164.55" width="1.6" height="1.6" fill="#000"/>
<rect x="308.16" y="180.69" width="1.6" height="1.6" fill="#000"/>
<rect x="309.02" y="168.76" width="1.6" height="1.6" fill="#000"/>
<rect x="309.52" y="171.48" width="1.6" height="1.6" fill="#000"/>
<rect x="310.41" y="201.32" width="1.6" height="1.6" fill="#000"/>
<rect x="311.77" y="198.07" width="1.6" height="1.6" fill="#000"/>
<rect x="311.91" y="206.02" width="1.6" height="1.6" fill="#000"/>
<rect x="313.07" y="215.06" width="1.6" height="1.6" fill="#000"/>
<rect x="314.07" y="225.82" width="1.6" height="1.6" fill="#000"/>
<rect x="314.44" y="225.48" width="1.6" height="1.6" fill="#000"/>
<rect x="315.29" y="216.67" width="1.6" height="1.6" fill="#000"/>
<rect x="316.59" y="205.46" width="1.6" height="1.6" fill="#000"/>
<rect x="317.21" y="203.29" width="1.6" height="1.6" fill="#000"/>
<rect x="318.02" y="200.97" width="1.6" height="1.6" fill="#000"/>
<rect x="319.19" y="191.01" width="1.6" height="1.6" fill="#000"/>
<rect x="319.51" y="184.48" width="1.6" height="1.6" fill="#000"/>
<rect x="320.92" y="165.56" width="1.6" height="1.6" fill="#000"/>
<rect x="321.26" y="162.84" width="1.6" height="1.6" fill="#000"/>
<rect x="322.27" y="162.55" width="1.6" height="1.6" fill="#000"/>
<rect x="323.06" y="169.8" width="1.6" height="1.6" fill="#000"/>
<rect x="324.14" y="157.7" width="1.6" height="1.6" fill="#000"/>
<rect x="324.89" y="148.13" width="1.6" height="1.6" fill="#000"/>
<rect x="325.89" y="150.64" width="1.6" height="1.6" fill="#000"/>
<rect x="326.41" y="139.53" width="1.6" height="1.6" fill="#000"/>
<rect x="327.02" y="142.76" width="1.6" height="1.6" fill="#000"/>
<rect x="327.84" y="136.82" width="1.6" height="1.6" fill="#000"/>
<rect x="329.08" y="126.17" width="1.6" height="1.6" fill="#000"/>
<rect x="329.7" y="135.95" width="1.6" height="1.6" fill="#000"/>
<rect x="330.93" y="137.24" width="1.6" height="1.6" fill="#000"/>
<rect x="331.68" y="134.42" width="1.6" height="1.6" fill="#000"/>
<rect x="332.03" y="128.51" width="1.6" height="1.6" fill="#000"/>
<rect x="333.38" y="140.53" width="1.6" height="1.6" fill="#000"/>
<rect x="333.87" y="134.07" width="1.6" height="1.6" fill="#000"/>
<rect x="335.08" y="134.17" width="1.6" height="1.6" fill="#000"/>
<rect x="335.61" y="136.57" width="1.6" height="1.6" fill="#000"/>
<rect x="336.62" y="135.32" width="1.6" height="1.6" fill="#000"/>
<rect x="337.75" y="141.23" width="1.6" height="1.6" fill="#000"/>
<rect x="338.18" y="122.37" width="1.6" height="1.6" fill="#000"/>
<rect x="339.32" y="125.24" width="1.6" height="1.6" fill="#000"/>
<rect x="339.82" y="132.32" width="1.6" height="1.6" fill="#000"/>
<rect x="341.11" y="130.38" width="1.6" height="1.6" fill="#000"/>
<rect x="341.47" y="123.38" width="1.6" height="1.6" fill="#000"/>
<rect x="342.31" y="121.9" width="1.6" height="1.6" fill="#000"/>
<rect x="343.16" y="130.87" width="1.6" height="1.6" fill="#000"/>
<rect x="343.84" y="115.07" width="1.6" height="1.6" fill="#000"/>
<rect x="344.96" y="120.99" width="1.6" height="1.6" fill="#000"/>
<rect x="346.05" y="121.56" width="1.6" height="1.6" fill="#000"/>
<rect x="346.82" y="123.62" width="1.6" height="1.6" fill="#000"/>
<rect x="347.76" y="124.75" width="1.6" height="1.6" fill="#000"/>
<rect x="348.29" y="126.29" width="1.6" height="1.6" fill="#000"/>
<rect x="349.15" y="109.38" width="1.6" height="1.6" fill="#000"/>
<rect x="350.08" y="117.72" width="1.6" height="1.6" fill="#000"/>
<rect x="351.04" y="132.09" width="1.6" height="1.6" fill="#000"/>
<rect x="351.86" y="127.67" width="1.6" height="1.6" fill="#000"/>
<rect x="352.11" y="133.69" width="1.6" height="1.6" fill="#000"/>
<rect x="353.63" y="129.48" width="1.6" height="1.6" fill="#000"/>
<rect x="353.79" y="121.84" width="1.6" height="1.6" fill="#000"/>
<rect x="355.18" y="121.42" width="1.6" height="1.6" fill="#000"/>
<rect x="355.93" y="124.19" width="1.6" height="1.6" fill="#000"/>
<rect x="356.87" y="128.57" width="1.6" height="1.6" fill="#000"/>
<rect x="357.5" y="124.53" width="1.6" height="1.6" fill="#000"/>
<rect x="358.18" y="117.42" width="1.6" height="1.6" fill="#000"/>
<rect x="359.55" y="120.28" width="1.6" height="1.6" fill="#000"/>
<rect x="360.02" y="117.11" width="1.6" height="1.6" fill="#000"/>
<rect x="361.01" y="120.01" width="1.6" height="1.6" fill="#000"/>
<rect x="361.59" y="109.8" width="1.6" height="1.6" fill="#000"/>
<rect x="362.78" y="117.33" width="1.6" height="1.6" fill="#000"/>
<rect x="363.6" y="112.64" width="1.6" height="1.6" fill="#000"/>
<rect x="364.46" y="136.16" width="1.6" height="1.6" fill="#000"/>
<rect x="365.13" y="113.09" width="1.6" height="1.6" fill="#000"/>
<rect x="365.87" y="120.7" width="1.6" height="1.6" fill="#000"/>
<rect x="366.62" y="112.25" width="1.6" height="1.6" fill="#000"/>
<rect x="367.46" y="130.05" width="1.6" height="1.6" fill="#000"/>
<rect x="368.77" y="132.03" width="1.6" height="1.6" fill="#000"/>
<rect x="369.09" y="125.7" width="1.6" height="1.6" fill="#000"/>
<rect x="369.97" y="127.33" width="1.6" height="1.6" fill="#000"/>
<rect x="370.7" y="125.73" width="1.6" height="1.6" fill="#000"/>
<rect x="371.55" y="123.05" width="1.6" height="1.6" fill="#000"/>
<rect x="372.22" y="116.74" width="1.6" height="1.6" fill="#000"/>
<rect x="373.11" y="114.43" width="1.6" height="1.6" fill="#000"/>
<rect x="214.85" y="229.2" width="1.6" height="1.6" fill="#000"/>
<rect x="216.4" y="239.76" width="1.6" height="1.6" fill="#000"/>
<rect x="216.5" y="240.78" width="1.6" height="1.6" fill="#000"/>
<rect x="217.49" y="240.2" width="1.6" height="1.6" fill="#000"/>
<rect x="218.34" y="235.81" width="1.6" height="1.6" fill="#000"/>
<rect x="219.17" y="229.06" width="1.6" height="1.6" fill="#000"/>
<rect x="219.98" y="236.85" width="1.6" height="1.6" fill="#000"/>
<rect x="221.29" y="241.58" width="1.6" height="1.6" fill="#000"/>
<rect x="221.76" y="226.23" width="1.6" height="1.6" fill="#000"/>
<rect x="222.73" y="234.11" width="1.6" height="1.6" fill="#000"/>
<rect x="223.39" y="248.64" width="1.6" height="1.6" fill="#000"/>
<rect x="224.29" y="228.35" width="1.6" height="1.6" fill="#000"/>
<rect x="225.3" y="244.92" width="1.6" height="1.6" fill="#000"/>
<rect x="225.86" y="235.75" width="1.6" height="1.6" fill="#000"/>
<rect x="226.56" y="248.81" width="1.6" height="1.6" fill="#000"/>
<rect x="227.67" y="233.99" width="1.6" height="1.6" fill="#000"/>
<rect x="228.63" y="232.62" width="1.6" height="1.6" fill="#000"/>
<rect x="229.85" y="237.31" width="1.6" height="1.6" fill="#000"/>
<rect x="230.41" y="237.91" width="1.6" height="1.6" fill="#000"/>
<rect x="231.1" y="238.81" width="1.6" height="1.6" fill="#000"/>
<rect x="231.85" y="240.84" width="1.6" height="1.6" fill="#000"/>
<rect x="232.88" y="228.05" width="1.6" height="1.6" fill="#000"/>
<rect x="233.34" y="241.06" width="1.6" height="1.6" fill="#000"/>
<rect x="234.26" y="242.69" width="1.6" height="1.6" fill="#000"/>
<rect x="235.61" y="228.74" width="1.6" height="1.6" fill="#000"/>
<rect x="236.55" y="237.03" width="1.6" height="1.6" fill="#000"/>
<rect x="236.78" y="234.34" width="1.6" height="1.6" fill="#000"/>
<rect x="238.04" y="237.2" width="1.6" height="1.6" fill="#000"/>
<rect x="238.23" y="243.46" width="1.6" height="1.6" fill="#000"/>
<rect x="239.76" y="226.71" width="1.6" height="1.6" fill="#000"/>
<rect x="239.97" y="236.75" width="1.6" height="1.6" fill="#000"/>
<rect x="240.82" y="248.3" width="1.6" height="1.6" fill="#000"/>
<rect x="241.98" y="222.19" width="1.6" height="1.6" fill="#000"/>
<rect x="242.91" y="241.29" width="1.6" height="1.6" fill="#000"/>
<rect x="243.97" y="234.36" width="1.6" height="1.6" fill="#000"/>
<rect x="244.44" y="248.99" width="1.6" height="1.6" fill="#000"/>
<rect x="245.69" y="248.43" width="1.6" height="1.6" fill="#000"/>
<rect x="245.94" y="244.78" width="1.6" height="1.6" fill="#000"/>
<rect x="247.05" y="234.48" width="1.6" height="1.6" fill="#000"/>
<rect x="248.13" y="237.65" width="1.6" height="1.6" fill="#000"/>
<rect x="248.53" y="237.31" width="1.6" height="1.6" fill="#000"/>
<rect x="249.37" y="240.7" width="1.6" height="1.6" fill="#000"/>
<rect x="250.34" y="237.01" width="1.6" height="1.6" fill="#000"/>
<rect x="251.36" y="232.39" width="1.6" height="1.6" fill="#000"/>
<rect x="251.71" y="232.7" width="1.6" height="1.6" fill="#000"/>
<rect x="253.27" y="242.92" width="1.6" height="1.6" fill="#000"/>
<rect x="253.99" y="237.91" width="1.6" height="1.6" fill="#000"/>
<rect x="254.45" y="237.67" width="1.6" height="1.6" fill="#000"/>
<rect x="255.56" y="239.23" width="1.6" height="1.6" fill="#000"/>
<rect x="256.19" y="246.96" width="1.6" height="1.6" fill="#000"/>
<rect x="256.65" y="250.27" width="1.6" height="1.6" fill="#000"/>
<rect x="257.65" y="238.08" width="1.6" height="1.6" fill="#000"/>
<rect x="258.83" y="237.19" width="1.6" height="1.6" fill="#000"/>
<rect x="259.6" y="244.94" width="1.6" height="1.6" fill="#000"/>
<rect x="260.24" y="235.52" width="1.6" height="1.6" fill="#000"/>
<rect x="261.38" y="244.6" width="1.6" height="1.6" fill="#000"/>
<rect x="261.88" y="242.46" width="1.6" height="1.6" fill="#000"/>
<rect x="262.78" y="249.56" width="1.6" height="1.6" fill="#000"/>
<rect x="264.13" y="230.54" width="1.6" height="1.6" fill="#000"/>
<rect x="264.45" y="236.32" width="1.6" height="1.6" fill="#000"/>
<rect x="265.7" y="244.01" width="1.6" height="1.6" fill="#000"/>
<rect x="265.93" y="243.13" width="1.6" height="1.6" fill="#000"/>
<rect x="267.25" y="241.09" width="1.6" height="1.6" fill="#000"/>
<rect x="267.86" y="238.71" width="1.6" height="1.6" fill="#000"/>
<rect x="269.06" y="241.49" width="1.6" height="1.6" fill="#000"/>
<rect x="269.38" y="242.65" width="1.6" height="1.6" fill="#000"/>
<rect x="270.16" y="249.77" width="1.6" height="1.6" fill="#000"/>
<rect x="270.93" y="250.57" width="1.6" height="1.6" fill="#000"/>
<rect x="272.48" y="240.68" width="1.6" height="1.6" fill="#000"/>
<rect x="273.08" y="251.82" width="1.6" height="1.6" fill="#000"/>
<rect x="274.02" y="252.27" width="1.6" height="1.6" fill="#000"/>
<rect x="274.49" y="244.3" width="1.6" height="1.6" fill="#000"/>
<rect x="275.4" y="257.77" width="1.6" height="1.6" fill="#000"/>
<rect x="276.48" y="253.32" width="1.6" height="1.6" fill="#000"/>
<rect x="277.55" y="256.61" width="1.6" height="1.6" fill="#000"/>
<rect x="278.07" y="245.79" width="1.6" height="1.6" fill="#000"/>
<rect x="278.42" y="252.74" width="1.6" height="1.6" fill="#000"/>
<rect x="279.78" y="263.37" width="1.6" height="1.6" fill="#000"/>
<rect x="280.16" y="253.39" width="1.6" height="1.6" fill="#000"/>
<rect x="281.57" y="268.04" width="1.6" height="1.6" fill="#000"/>
<rect x="282.44" y="262.92" width="1.6" height="1.6" fill="#000"/>
<rect x="283.23" y="266.87" width="1.6" height="1.6" fill="#000"/>
<rect x="284.18" y="268.79" width="1.6" height="1.6" fill="#000"/>
<rect x="284.68" y="275.95" width="1.6" height="1.6" fill="#000"/>
<rect x="285.21" y="277.06" width="1.6" height="1.6" fill="#000"/>
<rect x="286.36" y="271.13" width="1.6" height="1.6" fill="#000"/>
<rect x="287.37" y="299.58" width="1.6" height="1.6" fill="#000"/>
<rect x="288.4" y="302.41" width="1.6" height="1.6" fill="#000"/>
<rect x="288.97" y="311.44" width="1.6" height="1.6" fill="#000"/>
<rect x="289.48" y="316.52" width="1.6" height="1.6" fill="#000"/>
<rect x="290.6" y="317.3" width="1.6" height="1.6" fill="#000"/>
<rect x="291.73" y="313.38" width="1.6" height="1.6" fill="#000"/>
<rect x="292.09" y="314.13" width="1.6" height="1.6" fill="#000"/>
<rect x="293.44" y="309.82" width="1.6" height="1.6" fill="#000"/>
<rect x="293.58" y="314.65" width="1.6" height="1.6" fill="#000"/>
<rect x="294.77" y="293.32" width="1.6" height="1.6" fill="#000"/>
<rect x="295.61" y="290.55" width="1.6" height="1.6" fill="#000"/>
<rect x="296.8" y="299.41" width="1.6" height="1.6" fill="#000"/>
<rect x="297.49" y="279.51" width="1.6" height="1.6" fill="#000"/>
<rect x="298.34" y="277.28" width="1.6" height="1.6" fill="#000"/>
<rect x="298.73" y="281.99" width="1.6" height="1.6" fill="#000"/>
<rect x="299.8" y="272.88" width="1.6" height="1.6" fill="#000"/>
<rect x="300.85" y="277.36" width="1.6" height="1.6" fill="#000"/>
<rect x="301.06" y="281.41" width="1.6" height="1.6" fill="#000"/>
<rect x="301.86" y="281.26" width="1.6" height="1.6" fill="#000"/>
<rect x="303.45" y="290.19" width="1.6" height="1.6" fill="#000"/>
<rect x="304.06" y="269.86" width="1.6" height="1.6" fill="#000"/>
<rect x="304.96" y="283.56" width="1.6" height="1.6" fill="#000"/>
<rect x="305.5" y="265.7" width="1.6" height="1.6" fill="#000"/>
<rect x="306.03" y="270.37" width="1.6" height="1.6" fill="#000"/>
<rect x="307.02" y="276.39" width="1.6" height="1.6" fill="#000"/>
<rect x="308.01" y="284.99" width="1.6" height="1.6" fill="#000"/>
<rect x="309" y="292.84" width="1.6" height="1.6" fill="#000"/>
<rect x="309.58" y="299.23" width="1.6" height="1.6" fill="#000"/>
<rect x="310.68" y="294" width="1.6" height="1.6" fill="#000"/>
<rect x="311.07" y="309.05" width="1.6" height="1.6" fill="#000"/>
<rect x="312.44" y="318.41" width="1.6" height="1.6" fill="#000"/>
<rect x="313.21" y="324.72" width="1.6" height="1.6" fill="#000"/>
<rect x="313.94" y="305.68" width="1.6" height="1.6" fill="#000"/>
<rect x="314.96" y="317.22" width="1.6" height="1.6" fill="#000"/>
<rect x="315.86" y="309.37" width="1.6" height="1.6" fill="#000"/>
<rect x="316.89" y="296.42" width="1.6" height="1.6" fill="#000"/>
<rect x="317.6" y="303.12" width="1.6" height="1.6" fill="#000"/>
<rect x="318.09" y="290.05" width="1.6" height="1.6" fill="#000"/>
<rect x="319.04" y="294.9" width="1.6" height="1.6" fill="#000"/>
<rect x="319.84" y="278.16" width="1.6" height="1.6" fill="#000"/>
<rect x="320.6" y="281.83" width="1.6" height="1.6" fill="#000"/>
<rect x="321.12" y="270.31" width="1.6" height="1.6" fill="#000"/>
<rect x="322.52" y="274.09" width="1.6" height="1.6" fill="#000"/>
<rect x="323.25" y="255.75" width="1.6" height="1.6" fill="#000"/>
<rect x="324.22" y="254.72" width="1.6" height="1.6" fill="#000"/>
<rect x="324.48" y="264.82" width="1.6" height="1.6" fill="#000"/>
<rect x="325.37" y="246.26" width="1.6" height="1.6" fill="#000"/>
<rect x="326.43" y="253.17" width="1.6" height="1.6" fill="#000"/>
<rect x="326.98" y="246.68" width="1.6" height="1.6" fill="#000"/>
<rect x="327.97" y="239.93" width="1.6" height="1.6" fill="#000"/>
<rect x="328.87" y="242.21" width="1.6" height="1.6" fill="#000"/>
<rect x="329.5" y="248.06" width="1.6" height="1.6" fill="#000"/>
<rect x="331.05" y="253.01" width="1.6" height="1.6" fill="#000"/>
<rect x="331.85" y="240.96" width="1.6" height="1.6" fill="#000"/>
<rect x="332.31" y="244.19" width="1.6" height="1.6" fill="#000"/>
<rect x="333.42" y="237.56" width="1.6" height="1.6" fill="#000"/>
<rect x="334.11" y="243.91" width="1.6" height="1.6" fill="#000"/>
<rect x="335.13" y="239.21" width="1.6" height="1.6" fill="#000"/>
<rect x="335.41" y="225.26" width="1.6" height="1.6" fill="#000"/>
<rect x="336.14" y="236.73" width="1.6" height="1.6" fill="#000"/>
<rect x="337.18" y="238.33" width="1.6" height="1.6" fill="#000"/>
<rect x="337.87" y="245.37" width="1.6" height="1.6" fill="#000"/>
<rect x="339.4" y="242.11" width="1.6" height="1.6" fill="#000"/>
<rect x="339.79" y="233.42" width="1.6" height="1.6" fill="#000"/>
<rect x="340.82" y="240.77" width="1.6" height="1.6" fill="#000"/>
<rect x="341.92" y="239.49" width="1.6" height="1.6" fill="#000"/>
<rect x="342.26" y="223.83" width="1.6" height="1.6" fill="#000"/>
<rect x="343.65" y="238.93" width="1.6" height="1.6" fill="#000"/>
<rect x="344.07" y="240.19" width="1.6" height="1.6" fill="#000"/>
<rect x="345.28" y="243.84" width="1.6" height="1.6" fill="#000"/>
<rect x="346.1" y="242.7" width="1.6" height="1.6" fill="#000"/>
<rect x="346.48" y="250.18" width="1.6" height="1.6" fill="#000"/>
<rect x="347.42" y="244.73" width="1.6" height="1.6" fill="#000"/>
<rect x="348.69" y="250.12" width="1.6" height="1.6" fill="#000"/>
<rect x="348.86" y="235.46" width="1.6" height="1.6" fill="#000"/>
<rect x="350.27" y="235.11" width="1.6" height="1.6" fill="#000"/>
<rect x="350.41" y="246.45" width="1.6" height="1.6" fill="#000"/>
<rect x="351.47" y="244.65" width="1.6" height="1.6" fill="#000"/>
<rect x="352.8" y="245.13" width="1.6" height="1.6" fill="#000"/>
<rect x="352.99" y="230.6" width="1.6" height="1.6" fill="#000"/>
<rect x="354.3" y="244.57" width="1.6" height="1.6" fill="#000"/>
<rect x="354.62" y="235.35" width="1.6" height="1.6" fill="#000"/>
<rect x="355.58" y="234.4" width="1.6" height="1.6" fill="#000"/>
<rect x="356.39" y="247.56" width="1.6" height="1.6" fill="#000"/>
<rect x="357.21" y="238.83" width="1.6" height="1.6" fill="#000"/>
<rect x="358.56" y="247.47" width="1.6" height="1.6" fill="#000"/>
<rect x="359.05" y="230.8" width="1.6" height="1.6" fill="#000"/>
<rect x="360.07" y="226.36" width="1.6" height="1.6" fill="#000"/>
<rect x="360.6" y="233.17" width="1.6" height="1.6" fill="#000"/>
<rect x="361.81" y="251.92" width="1.6" height="1.6" fill="#000"/>
<rect x="362.32" y="236" width="1.6" height="1.6" fill="#000"/>
<rect x="363.74" y="235.59" width="1.6" height="1.6" fill="#000"/>
<rect x="364.13" y="229.89" width="1.6" height="1.6" fill="#000"/>
<rect x="364.63" y="236.33" width="1.6" height="1.6" fill="#000"/>
<rect x="365.93" y="236.65" width="1.6" height="1.6" fill="#000"/>
<rect x="366.94" y="242.52" width="1.6" height="1.6" fill="#000"/>
<rect x="367.18" y="235.3" width="1.6" height="1.6" fill="#000"/>
<rect x="368.15" y="248.31" width="1.6" height="1.6" fill="#000"/>
<rect x="369.01" y="233.66" width="1.6" height="1.6" fill="#000"/>
<rect x="370.37" y="236.37" width="1.6" height="1.6" fill="#000"/>
<rect x="371.28" y="244.67" width="1.6" height="1.6" fill="#000"/>
<rect x="371.92" y="239.1" width="1.6" height="1.6" fill="#000"/>
<rect x="372.45" y="244.47" width="1.6" height="1.6" fill="#000"/>
<rect x="373.11" y="234.26" width="1.6" height="1.6" fill="#000"/>
<rect x="215.27" y="353.9" width="1.6" height="1.6" fill="#000"/>
<rect x="216.19" y="352.59" width="1.6" height="1.6" fill="#000"/>
<rect x="217.13" y="349.13" width="1.6" height="1.6" fill="#000"/>
<rect x="218.02" y="357.6" width="1.6" height="1.6" fill="#000"/>
<rect x="218.72" y="339.09" width="1.6" height="1.6" fill="#000"/>
<rect x="219.13" y="356.09" width="1.6" height="1.6" fill="#000"/>
<rect x="220.47" y="364.21" width="1.6" height="1.6" fill="#000"/>
<rect x="220.85" y="368.09" width="1.6" height="1.6" fill="#000"/>
<rect x="221.86" y="360.7" width="1.6" height="1.6" fill="#000"/>
<rect x="222.99" y="344.78" width="1.6" height="1.6" fill="#000"/>
<rect x="223.37" y="353.06" width="1.6" height="1.6" fill="#000"/>
<rect x="224.49" y="359.11" width="1.6" height="1.6" fill="#000"/>
<rect x="225.26" y="369.26" width="1.6" height="1.6" fill="#000"/>
<rect x="226.28" y="361.14" width="1.6" height="1.6" fill="#000"/>
<rect x="226.99" y="362.29" width="1.6" height="1.6" fill="#000"/>
<rect x="227.48" y="355.18" width="1.6" height="1.6" fill="#000"/>
<rect x="228.2" y="350.26" width="1.6" height="1.6" fill="#000"/>
<rect x="229.4" y="359.04" width="1.6" height="1.6" fill="#000"/>
<rect x="230.08" y="359.77" width="1.6" height="1.6" fill="#000"/>
<rect x="231.46" y="355.91" width="1.6" height="1.6" fill="#000"/>
<rect x="232.01" y="345.23" width="1.6" height="1.6" fill="#000"/>
<rect x="232.57" y="355.09" width="1.6" height="1.6" fill="#000"/>
<rect x="233.33" y="358.03" width="1.6" height="1.6" fill="#000"/>
<rect x="234.31" y="361.12" width="1.6" height="1.6" fill="#000"/>
<rect x="235.4" y="352.77" width="1.6" height="1.6" fill="#000"/>
<rect x="236.21" y="357.99" width="1.6" height="1.6" fill="#000"/>
<rect x="236.63" y="361.1" width="1.6" height="1.6" fill="#000"/>
<rect x="237.61" y="354.59" width="1.6" height="1.6" fill="#000"/>
<rect x="238.37" y="353.55" width="1.6" height="1.6" fill="#000"/>
<rect x="239.73" y="345.03" width="1.6" height="1.6" fill="#000"/>
<rect x="239.96" y="352.64" width="1.6" height="1.6" fill="#000"/>
<rect x="240.92" y="363.16" width="1.6" height="1.6" fill="#000"/>
<rect x="242.39" y="368.11" width="1.6" height="1.6" fill="#000"/>
<rect x="243.05" y="361.6" width="1.6" height="1.6" fill="#000"/>
<rect x="244.08" y="364.64" width="1.6" height="1.6" fill="#000"/>
<rect x="244.71" y="366.19" width="1.6" height="1.6" fill="#000"/>
<rect x="244.96" y="360.24" width="1.6" height="1.6" fill="#000"/>
<rect x="245.88" y="376.06" width="1.6" height="1.6" fill="#000"/>
<rect x="246.93" y="356.82" width="1.6" height="1.6" fill="#000"/>
<rect x="247.5" y="367.37" width="1.6" height="1.6" fill="#000"/>
<rect x="248.3" y="372.94" width="1.6" height="1.6" fill="#000"/>
<rect x="249.72" y="359.11" width="1.6" height="1.6" fill="#000"/>
<rect x="250.14" y="359.26" width="1.6" height="1.6" fill="#000"/>
<rect x="250.99" y="369.65" width="1.6" height="1.6" fill="#000"/>
<rect x="252.01" y="366.51" width="1.6" height="1.6" fill="#000"/>
<rect x="252.74" y="356.48" width="1.6" height="1.6" fill="#000"/>
<rect x="254.12" y="357.95" width="1.6" height="1.6" fill="#000"/>
<rect x="254.47" y="358.27" width="1.6" height="1.6" fill="#000"/>
<rect x="255.51" y="366.68" width="1.6" height="1.6" fill="#000"/>
<rect x="256.39" y="362.56" width="1.6" height="1.6" fill="#000"/>
<rect x="257.37" y="345.97" width="1.6" height="1.6" fill="#000"/>
<rect x="257.87" y="351.09" width="1.6" height="1.6" fill="#000"/>
<rect x="258.64" y="364.55" width="1.6" height="1.6" fill="#000"/>
<rect x="259.81" y="353.89" width="1.6" height="1.6" fill="#000"/>
<rect x="260.17" y="357.62" width="1.6" height="1.6" fill="#000"/>
<rect x="261.29" y="365.12" width="1.6" height="1.6" fill="#000"/>
<rect x="261.8" y="362.83" width="1.6" height="1.6" fill="#000"/>
<rect x="262.89" y="367.28" width="1.6" height="1.6" fill="#000"/>
<rect x="263.6" y="338.42" width="1.6" height="1.6" fill="#000"/>
<rect x="264.74" y="371.21" width="1.6" height="1.6" fill="#000"/>
<rect x="265.73" y="365.62" width="1.6" height="1.6" fill="#000"/>
<rect x="265.91" y="371.03" width="1.6" height="1.6" fill="#000"/>
<rect x="267.26" y="359.92" width="1.6" height="1.6" fill="#000"/>
<rect x="267.54" y="369.08" width="1.6" height="1.6" fill="#000"/>
<rect x="268.51" y="364.08" width="1.6" height="1.6" fill="#000"/>
<rect x="269.97" y="373.5" width="1.6" height="1.6" fill="#000"/>
<rect x="270.63" y="365.08" width="1.6" height="1.6" fill="#000"/>
<rect x="271" y="373.72" width="1.6" height="1.6" fill="#000"/>
<rect x="272.49" y="358.85" width="1.6" height="1.6" fill="#000"/>
<rect x="273.15" y="378.79" width="1.6" height="1.6" fill="#000"/>
<rect x="274.14" y="376.52" width="1.6" height="1.6" fill="#000"/>
<rect x="274.54" y="371.07" width="1.6" height="1.6" fill="#000"/>
<rect x="275.12" y="376.41" width="1.6" height="1.6" fill="#000"/>
<rect x="276.53" y="369.12" width="1.6" height="1.6" fill="#000"/>
<rect x="277.16" y="382.78" width="1.6" height="1.6" fill="#000"/>
<rect x="277.76" y="379.43" width="1.6" height="1.6" fill="#000"/>
<rect x="278.43" y="384.67" width="1.6" height="1.6" fill="#000"/>
<rect x="279.26" y="389.46" width="1.6" height="1.6" fill="#000"/>
<rect x="280.34" y="375.08" width="1.6" height="1.6" fill="#000"/>
<rect x="281.02" y="390.87" width="1.6" height="1.6" fill="#000"/>
<rect x="282.34" y="390.41" width="1.6" height="1.6" fill="#000"/>
<rect x="283.14" y="407.81" width="1.6" height="1.6" fill="#000"/>
<rect x="283.54" y="398.85" width="1.6" height="1.6" fill="#000"/>
<rect x="284.85" y="411.39" width="1.6" height="1.6" fill="#000"/>
<rect x="285.43" y="396.96" width="1.6" height="1.6" fill="#000"/>
<rect x="286.12" y="424.17" width="1.6" height="1.6" fill="#000"/>
<rect x="287.01" y="416.84" width="1.6" height="1.6" fill="#000"/>
<rect x="287.64" y="429.56" width="1.6" height="1.6" fill="#000"/>
<rect x="288.46" y="424.37" width="1.6" height="1.6" fill="#000"/>
<rect x="289.96" y="432.23" width="1.6" height="1.6" fill="#000"/>
<rect x="290.93" y="439.6" width="1.6" height="1.6" fill="#000"/>
<rect x="291.72" y="455.82" width="1.6" height="1.6" fill="#000"/>
<rect x="291.97" y="440.16" width="1.6" height="1.6" fill="#000"/>
<rect x="293.43" y="430.77" width="1.6" height="1.6" fill="#000"/>
<rect x="294.19" y="439.71" width="1.6" height="1.6" fill="#000"/>
<rect x="294.38" y="449.02" width="1.6" height="1.6" fill="#000"/>
<rect x="295.49" y="429.04" width="1.6" height="1.6" fill="#000"/>
<rect x="296.29" y="426.96" width="1.6" height="1.6" fill="#000"/>
<rect x="297.09" y="413.4" width="1.6" height="1.6" fill="#000"/>
<rect x="297.78" y="416.56" width="1.6" height="1.6" fill="#000"/>
<rect x="298.82" y="407.7" width="1.6" height="1.6" fill="#000"/>
<rect x="299.88" y="410.73" width="1.6" height="1.6" fill="#000"/>
<rect x="300.36" y="415.86" width="1.6" height="1.6" fill="#000"/>
<rect x="301.35" y="414.68" width="1.6" height="1.6" fill="#000"/>
<rect x="301.96" y="399.71" width="1.6" height="1.6" fill="#000"/>
<rect x="303.13" y="402.88" width="1.6" height="1.6" fill="#000"/>
<rect x="304.09" y="416.66" width="1.6" height="1.6" fill="#000"/>
<rect x="304.65" y="410.42" width="1.6" height="1.6" fill="#000"/>
<rect x="305.23" y="407.87" width="1.6" height="1.6" fill="#000"/>
<rect x="306.43" y="414.06" width="1.6" height="1.6" fill="#000"/>
<rect x="307.34" y="408.11" width="1.6" height="1.6" fill="#000"/>
<rect x="307.9" y="418.31" width="1.6" height="1.6" fill="#000"/>
<rect x="308.55" y="409.54" width="1.6" height="1.6" fill="#000"/>
<rect x="309.84" y="437.47" width="1.6" height="1.6" fill="#000"/>
<rect x="310.42" y="423.05" width="1.6" height="1.6" fill="#000"/>
<rect x="311.43" y="424.35" width="1.6" height="1.6" fill="#000"/>
<rect x="312.39" y="438.34" width="1.6" height="1.6" fill="#000"/>
<rect x="313.19" y="430.2" width="1.6" height="1.6" fill="#000"/>
<rect x="314.34" y="434.24" width="1.6" height="1.6" fill="#000"/>
<rect x="314.9" y="420.88" width="1.6" height="1.6" fill="#000"/>
<rect x="315.56" y="425.01" width="1.6" height="1.6" fill="#000"/>
<rect x="316.75" y="429.58" width="1.6" height="1.6" fill="#000"/>
<rect x="317.63" y="408.8" width="1.6" height="1.6" fill="#000"/>
<rect x="317.76" y="432.72" width="1.6" height="1.6" fill="#000"/>
<rect x="318.68" y="407.49" width="1.6" height="1.6" fill="#000"/>
<rect x="319.71" y="406.88" width="1.6" height="1.6" fill="#000"/>
<rect x="321.06" y="402.63" width="1.6" height="1.6" fill="#000"/>
<rect x="321.27" y="402.67" width="1.6" height="1.6" fill="#000"/>
<rect x="322.48" y="392.5" width="1.6" height="1.6" fill="#000"/>
<rect x="323.21" y="389.58" width="1.6" height="1.6" fill="#000"/>
<rect x="323.92" y="386.94" width="1.6" height="1.6" fill="#000"/>
<rect x="324.97" y="391.5" width="1.6" height="1.6" fill="#000"/>
<rect x="325.72" y="371.96" width="1.6" height="1.6" fill="#000"/>
<rect x="326.8" y="368.36" width="1.6" height="1.6" fill="#000"/>
<rect x="327.75" y="369.36" width="1.6" height="1.6" fill="#000"/>
<rect x="328.52" y="377.84" width="1.6" height="1.6" fill="#000"/>
<rect x="328.87" y="368.18" width="1.6" height="1.6" fill="#000"/>
<rect x="330.02" y="356.99" width="1.6" height="1.6" fill="#000"/>
<rect x="331.09" y="369.82" width="1.6" height="1.6" fill="#000"/>
<rect x="331.64" y="362.86" width="1.6" height="1.6" fill="#000"/>
<rect x="332.37" y="359.24" width="1.6" height="1.6" fill="#000"/>
<rect x="333.03" y="362.7" width="1.6" height="1.6" fill="#000"/>
<rect x="334.26" y="358.93" width="1.6" height="1.6" fill="#000"/>
<rect x="334.68" y="363.12" width="1.6" height="1.6" fill="#000"/>
<rect x="335.58" y="367.93" width="1.6" height="1.6" fill="#000"/>
<rect x="336.25" y="371.94" width="1.6" height="1.6" fill="#000"/>
<rect x="337.03" y="366.19" width="1.6" height="1.6" fill="#000"/>
<rect x="338.41" y="363.66" width="1.6" height="1.6" fill="#000"/>
<rect x="338.75" y="348.8" width="1.6" height="1.6" fill="#000"/>
<rect x="339.89" y="365.55" width="1.6" height="1.6" fill="#000"/>
<rect x="340.46" y="371.98" width="1.6" height="1.6" fill="#000"/>
<rect x="341.21" y="348.88" width="1.6" height="1.6" fill="#000"/>
<rect x="342.21" y="346.35" width="1.6" height="1.6" fill="#000"/>
<rect x="343.17" y="359.66" width="1.6" height="1.6" fill="#000"/>
<rect x="344.27" y="359.92" width="1.6" height="1.6" fill="#000"/>
<rect x="344.78" y="372.65" width="1.6" height="1.6" fill="#000"/>
<rect x="345.63" y="360.68" width="1.6" height="1.6" fill="#000"/>
<rect x="346.88" y="344.21" width="1.6" height="1.6" fill="#000"/>
<rect x="347.5" y="348.47" width="1.6" height="1.6" fill="#000"/>
<rect x="348.38" y="365.34" width="1.6" height="1.6" fill="#000"/>
<rect x="349.39" y="360.53" width="1.6" height="1.6" fill="#000"/>
<rect x="349.85" y="355.24" width="1.6" height="1.6" fill="#000"/>
<rect x="350.93" y="359.64" width="1.6" height="1.6" fill="#000"/>
<rect x="351.22" y="364.08" width="1.6" height="1.6" fill="#000"/>
<rect x="352.53" y="378.66" width="1.6" height="1.6" fill="#000"/>
<rect x="352.99" y="351.13" width="1.6" height="1.6" fill="#000"/>
<rect x="354.29" y="348.81" width="1.6" height="1.6" fill="#000"/>
<rect x="354.88" y="364.14" width="1.6" height="1.6" fill="#000"/>
<rect x="356.17" y="361.08" width="1.6" height="1.6" fill="#000"/>
<rect x="356.82" y="358.34" width="1.6" height="1.6" fill="#000"/>
<rect x="357.16" y="364.83" width="1.6" height="1.6" fill="#000"/>
<rect x="358.51" y="360.16" width="1.6" height="1.6" fill="#000"/>
<rect x="359.57" y="363.61" width="1.6" height="1.6" fill="#000"/>
<rect x="359.6" y="363.3" width="1.6" height="1.6" fill="#000"/>
<rect x="360.86" y="350.66" width="1.6" height="1.6" fill="#000"/>
<rect x="361.51" y="359.15" width="1.6" height="1.6" fill="#000"/>
<rect x="362.75" y="361.76" width="1.6" height="1.6" fill="#000"/>
<rect x="363.25" y="352.75" width="1.6" height="1.6" fill="#000"/>
<rect x="364.27" y="360.45" width="1.6" height="1.6" fill="#000"/>
<rect x="364.92" y="335.86" width="1.6" height="1.6" fill="#000"/>
<rect x="366.01" y="344.5" width="1.6" height="1.6" fill="#000"/>
<rect x="366.39" y="354.17" width="1.6" height="1.6" fill="#000"/>
<rect x="367.25" y="372.82" width="1.6" height="1.6" fill="#000"/>
<rect x="368.15" y="369.86" width="1.6" height="1.6" fill="#000"/>
<rect x="369.19" y="363.38" width="1.6" height="1.6" fill="#000"/>
<rect x="369.63" y="363.09" width="1.6" height="1.6" fill="#000"/>
<rect x="370.93" y="365.18" width="1.6" height="1.6" fill="#000"/>
<rect x="371.52" y="367.03" width="1.6" height="1.6" fill="#000"/>
<rect x="372.32" y="350.64" width="1.6" height="1.6" fill="#000"/>
<rect x="373.18" y="359.07" width="1.6" height="1.6" fill="#000"/>
<rect x="214.84" y="482.45" width="1.6" height="1.6" fill="#000"/>
<rect x="215.9" y="473.58" width="1.6" height="1.6" fill="#000"/>
<rect x="216.54" y="470.72" width="1.6" height="1.6" fill="#000"/>
<rect x="218.14" y="475.33" width="1.6" height="1.6" fill="#000"/>
<rect x="218.32" y="473.14" width="1.6" height="1.6" fill="#000"/>
<rect x="219.33" y="460.15" width="1.6" height="1.6" fill="#000"/>
<rect x="220.5" y="464.79" width="1.6" height="1.6" fill="#000"/>
<rect x="221.12" y="468.66" width="1.6" height="1.6" fill="#000"/>
<rect x="222.04" y="462.38" width="1.6" height="1.6" fill="#000"/>
<rect x="223.12" y="462.51" width="1.6" height="1.6" fill="#000"/>
<rect x="223.89" y="475.67" width="1.6" height="1.6" fill="#000"/>
<rect x="224.7" y="466.72" width="1.6" height="1.6" fill="#000"/>
<rect x="225.45" y="467.87" width="1.6" height="1.6" fill="#000"/>
<rect x="225.82" y="468.7" width="1.6" height="1.6" fill="#000"/>
<rect x="226.62" y="473.78" width="1.6" height="1.6" fill="#000"/>
<rect x="227.98" y="470.47" width="1.6" height="1.6" fill="#000"/>
<rect x="228.45" y="465.91" width="1.6" height="1.6" fill="#000"/>
<rect x="229.2" y="466.97" width="1.6" height="1.6" fill="#000"/>
<rect x="230.67" y="476.86" width="1.6" height="1.6" fill="#000"/>
<rect x="231.38" y="467.78" width="1.6" height="1.6" fill="#000"/>
<rect x="232.2" y="466.37" width="1.6" height="1.6" fill="#000"/>
<rect x="233.05" y="459.08" width="1.6" height="1.6" fill="#000"/>
<rect x="233.9" y="469.73" width="1.6" height="1.6" fill="#000"/>
<rect x="234.13" y="443.92" width="1.6" height="1.6" fill="#000"/>
<rect x="235.68" y="456.94" width="1.6" height="1.6" fill="#000"/>
<rect x="235.93" y="474.36" width="1.6" height="1.6" fill="#000"/>
<rect x="237.32" y="477.56" width="1.6" height="1.6" fill="#000"/>
<rect x="237.58" y="468.72" width="1.6" height="1.6" fill="#000"/>
<rect x="238.56" y="459.22" width="1.6" height="1.6" fill="#000"/>
<rect x="239.75" y="475.78" width="1.6" height="1.6" fill="#000"/>
<rect x="240.21" y="462.38" width="1.6" height="1.6" fill="#000"/>
<rect x="240.98" y="461.52" width="1.6" height="1.6" fill="#000"/>
<rect x="242.34" y="465.7" width="1.6" height="1.6" fill="#000"/>
<rect x="242.7" y="470.46" width="1.6" height="1.6" fill="#000"/>
<rect x="243.87" y="470.45" width="1.6" height="1.6" fill="#000"/>
<rect x="244.55" y="480.09" width="1.6" height="1.6" fill="#000"/>
<rect x="245.5" y="468.97" width="1.6" height="1.6" fill="#000"/>
<rect x="245.88" y="470.7" width="1.6" height="1.6" fill="#000"/>
<rect x="246.89" y="466.33" width="1.6" height="1.6" fill="#000"/>
<rect x="247.86" y="467.81" width="1.6" height="1.6" fill="#000"/>
<rect x="248.61" y="463.04" width="1.6" height="1.6" fill="#000"/>
<rect x="249.91" y="476.33" width="1.6" height="1.6" fill="#000"/>
<rect x="250.12" y="472.54" width="1.6" height="1.6" fill="#000"/>
<rect x="251.42" y="462.63" width="1.6" height="1.6" fill="#000"/>
<rect x="251.71" y="475.89" width="1.6" height="1.6" fill="#000"/>
<rect x="253.26" y="466.81" width="1.6" height="1.6" fill="#000"/>
<rect x="253.48" y="456.99" width="1.6" height="1.6" fill="#000"/>
<rect x="254.28" y="474.33" width="1.6" height="1.6" fill="#000"/>
<rect x="255.2" y="458.94" width="1.6" height="1.6" fill="#000"/>
<rect x="256.07" y="450.11" width="1.6" height="1.6" fill="#000"/>
<rect x="256.8" y="452.51" width="1.6" height="1.6" fill="#000"/>
<rect x="257.6" y="486.46" width="1.6" height="1.6" fill="#000"/>
<rect x="258.85" y="459.31" width="1.6" height="1.6" fill="#000"/>
<rect x="259.33" y="475.57" width="1.6" height="1.6" fill="#000"/>
<rect x="260.51" y="479.61" width="1.6" height="1.6" fill="#000"/>
<rect x="261.35" y="457.45" width="1.6" height="1.6" fill="#000"/>
<rect x="262.09" y="464.22" width="1.6" height="1.6" fill="#000"/>
<rect x="263.2" y="466.62" width="1.6" height="1.6" fill="#000"/>
<rect x="263.91" y="457.24" width="1.6" height="1.6" fill="#000"/>
<rect x="264.52" y="472.27" width="1.6" height="1.6" fill="#000"/>
<rect x="265.33" y="470.56" width="1.6" height="1.6" fill="#000"/>
<rect x="266.33" y="480.4" width="1.6" height="1.6" fill="#000"/>
<rect x="267.12" y="481.03" width="1.6" height="1.6" fill="#000"/>
<rect x="267.89" y="472.67" width="1.6" height="1.6" fill="#000"/>
<rect x="268.85" y="455.61" width="1.6" height="1.6" fill="#000"/>
<rect x="269.32" y="460.85" width="1.6" height="1.6" fill="#000"/>
<rect x="270.42" y="485.16" width="1.6" height="1.6" fill="#000"/>
<rect x="271.13" y="472.07" width="1.6" height="1.6" fill="#000"/>
<rect x="272.32" y="482.05" width="1.6" height="1.6" fill="#000"/>
<rect x="273.27" y="474.72" width="1.6" height="1.6" fill="#000"/>
<rect x="273.48" y="484.87" width="1.6" height="1.6" fill="#000"/>
<rect x="274.41" y="476.58" width="1.6" height="1.6" fill="#000"/>
<rect x="275.76" y="469.01" width="1.6" height="1.6" fill="#000"/>
<rect x="276.58" y="467.26" width="1.6" height="1.6" fill="#000"/>
<rect x="277.39" y="459.5" width="1.6" height="1.6" fill="#000"/>
<rect x="277.62" y="483.77" width="1.6" height="1.6" fill="#000"/>
<rect x="279.13" y="489.39" width="1.6" height="1.6" fill="#000"/>
<rect x="279.91" y="487.87" width="1.6" height="1.6" fill="#000"/>
<rect x="280.45" y="480.27" width="1.6" height="1.6" fill="#000"/>
<rect x="281.07" y="494.69" width="1.6" height="1.6" fill="#000"/>
<rect x="281.98" y="500.04" width="1.6" height="1.6" fill="#000"/>
<rect x="283.05" y="504.26" width="1.6" height="1.6" fill="#000"/>
<rect x="284.08" y="506.08" width="1.6" height="1.6" fill="#000"/>
<rect x="284.93" y="517.21" width="1.6" height="1.6" fill="#000"/>
<rect x="285.81" y="523.31" width="1.6" height="1.6" fill="#000"/>
<rect x="286.69" y="517" width="1.6" height="1.6" fill="#000"/>
<rect x="287.44" y="535.97" width="1.6" height="1.6" fill="#000"/>
<rect x="287.69" y="539.38" width="1.6" height="1.6" fill="#000"/>
<rect x="288.47" y="528.91" width="1.6" height="1.6" fill="#000"/>
<rect x="289.98" y="558.45" width="1.6" height="1.6" fill="#000"/>
<rect x="290.21" y="549.47" width="1.6" height="1.6" fill="#000"/>
<rect x="291.66" y="557.85" width="1.6" height="1.6" fill="#000"/>
<rect x="292.31" y="554.44" width="1.6" height="1.6" fill="#000"/>
<rect x="293.45" y="550.74" width="1.6" height="1.6" fill="#000"/>
<rect x="293.64" y="541.06" width="1.6" height="1.6" fill="#000"/>
<rect x="294.91" y="536.54" width="1.6" height="1.6" fill="#000"/>
<rect x="295.3" y="542.4" width="1.6" height="1.6" fill="#000"/>
<rect x="295.99" y="535.81" width="1.6" height="1.6" fill="#000"/>
<rect x="297.09" y="533.2" width="1.6" height="1.6" fill="#000"/>
<rect x="297.88" y="543.7" width="1.6" height="1.6" fill="#000"/>
<rect x="298.99" y="525.58" width="1.6" height="1.6" fill="#000"/>
<rect x="299.43" y="520.32" width="1.6" height="1.6" fill="#000"/>
<rect x="300.74" y="514.63" width="1.6" height="1.6" fill="#000"/>
<rect x="301.09" y="518.16" width="1.6" height="1.6" fill="#000"/>
<rect x="302.62" y="507.35" width="1.6" height="1.6" fill="#000"/>
<rect x="302.83" y="508.02" width="1.6" height="1.6" fill="#000"/>
<rect x="304.34" y="507.71" width="1.6" height="1.6" fill="#000"/>
<rect x="304.64" y="500.65" width="1.6" height="1.6" fill="#000"/>
<rect x="305.44" y="511.33" width="1.6" height="1.6" fill="#000"/>
<rect x="306.54" y="520.41" width="1.6" height="1.6" fill="#000"/>
<rect x="307.21" y="521.6" width="1.6" height="1.6" fill="#000"/>
<rect x="308.07" y="509.41" width="1.6" height="1.6" fill="#000"/>
<rect x="308.95" y="523" width="1.6" height="1.6" fill="#000"/>
<rect x="309.95" y="514.96" width="1.6" height="1.6" fill="#000"/>
<rect x="310.4" y="513" width="1.6" height="1.6" fill="#000"/>
<rect x="311.77" y="519.78" width="1.6" height="1.6" fill="#000"/>
<rect x="312.11" y="531.28" width="1.6" height="1.6" fill="#000"/>
<rect x="313.09" y="518.14" width="1.6" height="1.6" fill="#000"/>
<rect x="314.33" y="521.04" width="1.6" height="1.6" fill="#000"/>
<rect x="314.89" y="538.93" width="1.6" height="1.6" fill="#000"/>
<rect x="315.6" y="535.44" width="1.6" height="1.6" fill="#000"/>
<rect x="316.29" y="527.57" width="1.6" height="1.6" fill="#000"/>
<rect x="317.26" y="525.2" width="1.6" height="1.6" fill="#000"/>
<rect x="318.31" y="509.88" width="1.6" height="1.6" fill="#000"/>
<rect x="319.13" y="506.11" width="1.6" height="1.6" fill="#000"/>
<rect x="319.52" y="511.51" width="1.6" height="1.6" fill="#000"/>
<rect x="320.99" y="495.06" width="1.6" height="1.6" fill="#000"/>
<rect x="321.36" y="501.66" width="1.6" height="1.6" fill="#000"/>
<rect x="322.6" y="494.12" width="1.6" height="1.6" fill="#000"/>
<rect x="323.21" y="476.85" width="1.6" height="1.6" fill="#000"/>
<rect x="323.67" y="486.62" width="1.6" height="1.6" fill="#000"/>
<rect x="324.73" y="478.61" width="1.6" height="1.6" fill="#000"/>
<rect x="325.58" y="476.47" width="1.6" height="1.6" fill="#000"/>
<rect x="326.39" y="465" width="1.6" height="1.6" fill="#000"/>
<rect x="327.69" y="476.34" width="1.6" height="1.6" fill="#000"/>
<rect x="328.3" y="473.4" width="1.6" height="1.6" fill="#000"/>
<rect x="329" y="467.43" width="1.6" height="1.6" fill="#000"/>
<rect x="329.71" y="479.4" width="1.6" height="1.6" fill="#000"/>
<rect x="330.85" y="454.96" width="1.6" height="1.6" fill="#000"/>
<rect x="331.94" y="457.9" width="1.6" height="1.6" fill="#000"/>
<rect x="332.79" y="458.63" width="1.6" height="1.6" fill="#000"/>
<rect x="333.34" y="479.42" width="1.6" height="1.6" fill="#000"/>
<rect x="334.22" y="472.8" width="1.6" height="1.6" fill="#000"/>
<rect x="334.86" y="469.52" width="1.6" height="1.6" fill="#000"/>
<rect x="335.64" y="466.14" width="1.6" height="1.6" fill="#000"/>
<rect x="336.97" y="464.15" width="1.6" height="1.6" fill="#000"/>
<rect x="337.15" y="465.71" width="1.6" height="1.6" fill="#000"/>
<rect x="338.15" y="471.72" width="1.6" height="1.6" fill="#000"/>
<rect x="339.27" y="472.37" width="1.6" height="1.6" fill="#000"/>
<rect x="340.03" y="470.46" width="1.6" height="1.6" fill="#000"/>
<rect x="340.85" y="467.57" width="1.6" height="1.6" fill="#000"/>
<rect x="341.84" y="461.61" width="1.6" height="1.6" fill="#000"/>
<rect x="342.61" y="468.28" width="1.6" height="1.6" fill="#000"/>
<rect x="343.23" y="463.56" width="1.6" height="1.6" fill="#000"/>
<rect x="343.69" y="479.73" width="1.6" height="1.6" fill="#000"/>
<rect x="345.26" y="452.53" width="1.6" height="1.6" fill="#000"/>
<rect x="345.37" y="461.49" width="1.6" height="1.6" fill="#000"/>
<rect x="346.63" y="475.27" width="1.6" height="1.6" fill="#000"/>
<rect x="347.11" y="468.92" width="1.6" height="1.6" fill="#000"/>
<rect x="348.28" y="460.64" width="1.6" height="1.6" fill="#000"/>
<rect x="348.8" y="463.35" width="1.6" height="1.6" fill="#000"/>
<rect x="349.61" y="465.42" width="1.6" height="1.6" fill="#000"/>
<rect x="350.8" y="463.34" width="1.6" height="1.6" fill="#000"/>
<rect x="351.41" y="480.45" width="1.6" height="1.6" fill="#000"/>
<rect x="352.39" y="472.35" width="1.6" height="1.6" fill="#000"/>
<rect x="353.26" y="468.91" width="1.6" height="1.6" fill="#000"/>
<rect x="354.18" y="451.9" width="1.6" height="1.6" fill="#000"/>
<rect x="354.64" y="470.93" width="1.6" height="1.6" fill="#000"/>
<rect x="356.1" y="478.88" width="1.6" height="1.6" fill="#000"/>
<rect x="356.67" y="484.46" width="1.6" height="1.6" fill="#000"/>
<rect x="357.4" y="454.73" width="1.6" height="1.6" fill="#000"/>
<rect x="358.71" y="456.52" width="1.6" height="1.6" fill="#000"/>
<rect x="359.08" y="471.48" width="1.6" height="1.6" fill="#000"/>
<rect x="360.26" y="467.15" width="1.6" height="1.6" fill="#000"/>
<rect x="361.03" y="465.74" width="1.6" height="1.6" fill="#000"/>
<rect x="361.69" y="462.28" width="1.6" height="1.6" fill="#000"/>
<rect x="362.11" y="472.02" width="1.6" height="1.6" fill="#000"/>
<rect x="363.73" y="471.12" width="1.6" height="1.6" fill="#000"/>
<rect x="364.3" y="468.2" width="1.6" height="1.6" fill="#000"/>
<rect x="364.94" y="464.77" width="1.6" height="1.6" fill="#000"/>
<rect x="365.5" y="466.51" width="1.6" height="1.6" fill="#000"/>
<rect x="367.04" y="470.65" width="1.6" height="1.6" fill="#000"/>
<rect x="367.38" y="455.13" width="1.6" height="1.6" fill="#000"/>
<rect x="368.68" y="467.55" width="1.6" height="1.6" fill="#000"/>
<rect x="369.57" y="458.16" width="1.6" height="1.6" fill="#000"/>
<rect x="370.37" y="462.83" width="1.6" height="1.6" fill="#000"/>
<rect x="370.78" y="462.73" width="1.6" height="1.6" fill="#000"/>
<rect x="371.51" y="479.22" width="1.6" height="1.6" fill="#000"/>
<rect x="372.43" y="458.5" width="1.6" height="1.6" fill="#000"/>
<rect x="373.26" y="470.63" width="1.6" height="1.6" fill="#000"/>
</g>
<rect x="214.6" y="2.4" width="161" height="561" fill="none" stroke="#111" stroke-width="1.25"/>
<line x1="221.4" y1="563.4" x2="221.4" y2="565.9" stroke="#111" stroke-width="0.9" />
<line x1="258.2" y1="563.4" x2="258.2" y2="565.9" stroke="#111" stroke-width="0.9" />
<line x1="295" y1="563.4" x2="295" y2="565.9" stroke="#111" stroke-width="0.9" />
<line x1="331.8" y1="563.4" x2="331.8" y2="565.9" stroke="#111" stroke-width="0.9" />
<line x1="368.6" y1="563.4" x2="368.6" y2="565.9" stroke="#111" stroke-width="0.9" />
<line x1="239.8" y1="563.4" x2="239.8" y2="564.9" stroke="#111" stroke-width="0.8" />
<line x1="276.6" y1="563.4" x2="276.6" y2="564.9" stroke="#111" stroke-width="0.8" />
<line x1="313.4" y1="563.4" x2="313.4" y2="564.9" stroke="#111" stroke-width="0.8" />
<line x1="350.2" y1="563.4" x2="350.2" y2="564.9" stroke="#111" stroke-width="0.8" />
<text x="220.2" y="574" font-size="8.2" text-anchor="middle" font-weight="normal" fill="#111" stroke="#111" stroke-width="0.22" >-4</text>
<text x="257" y="574" font-size="8.2" text-anchor="middle" font-weight="normal" fill="#111" stroke="#111" stroke-width="0.22" >-2</text>
<text x="295" y="574" font-size="8.2" text-anchor="middle" font-weight="normal" fill="#111" stroke="#111" stroke-width="0.22" >0</text>
<text x="331.8" y="574" font-size="8.2" text-anchor="middle" font-weight="normal" fill="#111" stroke="#111" stroke-width="0.22" >2</text>
<text x="368.6" y="574" font-size="8.2" text-anchor="middle" font-weight="normal" fill="#111" stroke="#111" stroke-width="0.22" >4</text>
<text x="277" y="583.5" font-size="10" fill="#111" stroke="#111" stroke-width="0.22"><tspan font-style="italic">v</tspan> / mm s<tspan font-size="6.5" dy="-4">-1</tspan></text>
<text transform="translate(211.2,284.4) rotate(-90)" font-size="9.8" text-anchor="middle" fill="#111" stroke="#111" stroke-width="0.22">relative transmission</text>
<text x="202.6" y="11.1" font-size="10.5" text-anchor="start" font-weight="bold" fill="#000" stroke="#000" stroke-width="0.22" >E</text>
<text x="218.3" y="69.9" font-size="10.2" fill="#111" stroke="#111" stroke-width="0.22">a) <tspan font-style="italic">t</tspan> = 15 min</text>
<text x="218.3" y="174" font-size="10.2" fill="#111" stroke="#111" stroke-width="0.22">b) <tspan font-style="italic">t</tspan> = 45 min</text>
<text x="218.3" y="289.9" font-size="10.2" fill="#111" stroke="#111" stroke-width="0.22">c) <tspan font-style="italic">t</tspan> = 60 min</text>
<text x="218.3" y="419" font-size="10.2" fill="#111" stroke="#111" stroke-width="0.22">d) <tspan font-style="italic">t</tspan> = 120 min</text>
<text x="218.3" y="525.2" font-size="10.2" fill="#111" stroke="#111" stroke-width="0.22">e) <tspan font-style="italic">t</tspan> = 240 min</text>
<text x="325.3" y="80.8" font-size="10.1" fill="#111" stroke="#111" stroke-width="0.22"><tspan font-style="italic">T</tspan> = -30 °C</text>
<line x1="240" y1="84.5" x2="252.6" y2="84.5" stroke="#33cc33" stroke-width="1.1" />
<rect x="223.8" y="88.6" width="1.7" height="1.7" fill="#111"/>
<rect x="270.4" y="88.6" width="1.7" height="1.7" fill="#111"/>
<rect x="335.4" y="191.2" width="1.7" height="1.7" fill="#111"/>
<text x="220.4" y="99.3" font-size="9.8" fill="#111" stroke="#111" stroke-width="0.22">[LFe<tspan font-size="5.5" dy="-3.5">III</tspan><tspan dy="3.5">OFe</tspan><tspan font-size="5.5" dy="-3.5">III</tspan><tspan dy="3.5">L]</tspan><tspan font-size="5.5" dy="-3.5">2+</tspan></text>
<line x1="243.4" y1="187.6" x2="256" y2="187.6" stroke="#f01820" stroke-width="1" />
<text x="226.3" y="201.9" font-size="10.2" fill="#111" stroke="#111" stroke-width="0.22">[LFe<tspan font-size="6.2" dy="-4">IV</tspan><tspan dy="4">=O]</tspan></text>
<line x1="338.3" y1="187.6" x2="351.8" y2="187.6" stroke="#2040f0" stroke-width="1" />
<text x="331.8" y="201.9" font-size="10" fill="#111" stroke="#111" stroke-width="0.22">[LFe<tspan font-size="6" dy="-4">II</tspan><tspan dy="4">]</tspan><tspan font-size="6" dy="-4">2+</tspan></text>
<line x1="338.3" y1="525.9" x2="351.2" y2="525.9" stroke="#88e8d0" stroke-width="1.1" />
<text x="327.9" y="539.8" font-size="9.8" fill="#111" stroke="#111" stroke-width="0.22">[Fe<tspan font-size="6.2" dy="-4">III</tspan><tspan dy="4">Cl</tspan><tspan font-size="6.2" dy="2.2">4</tspan><tspan dy="-2.2">]</tspan><tspan font-size="6.2" dy="-4.2">-</tspan></text>
</svg></body></html>
